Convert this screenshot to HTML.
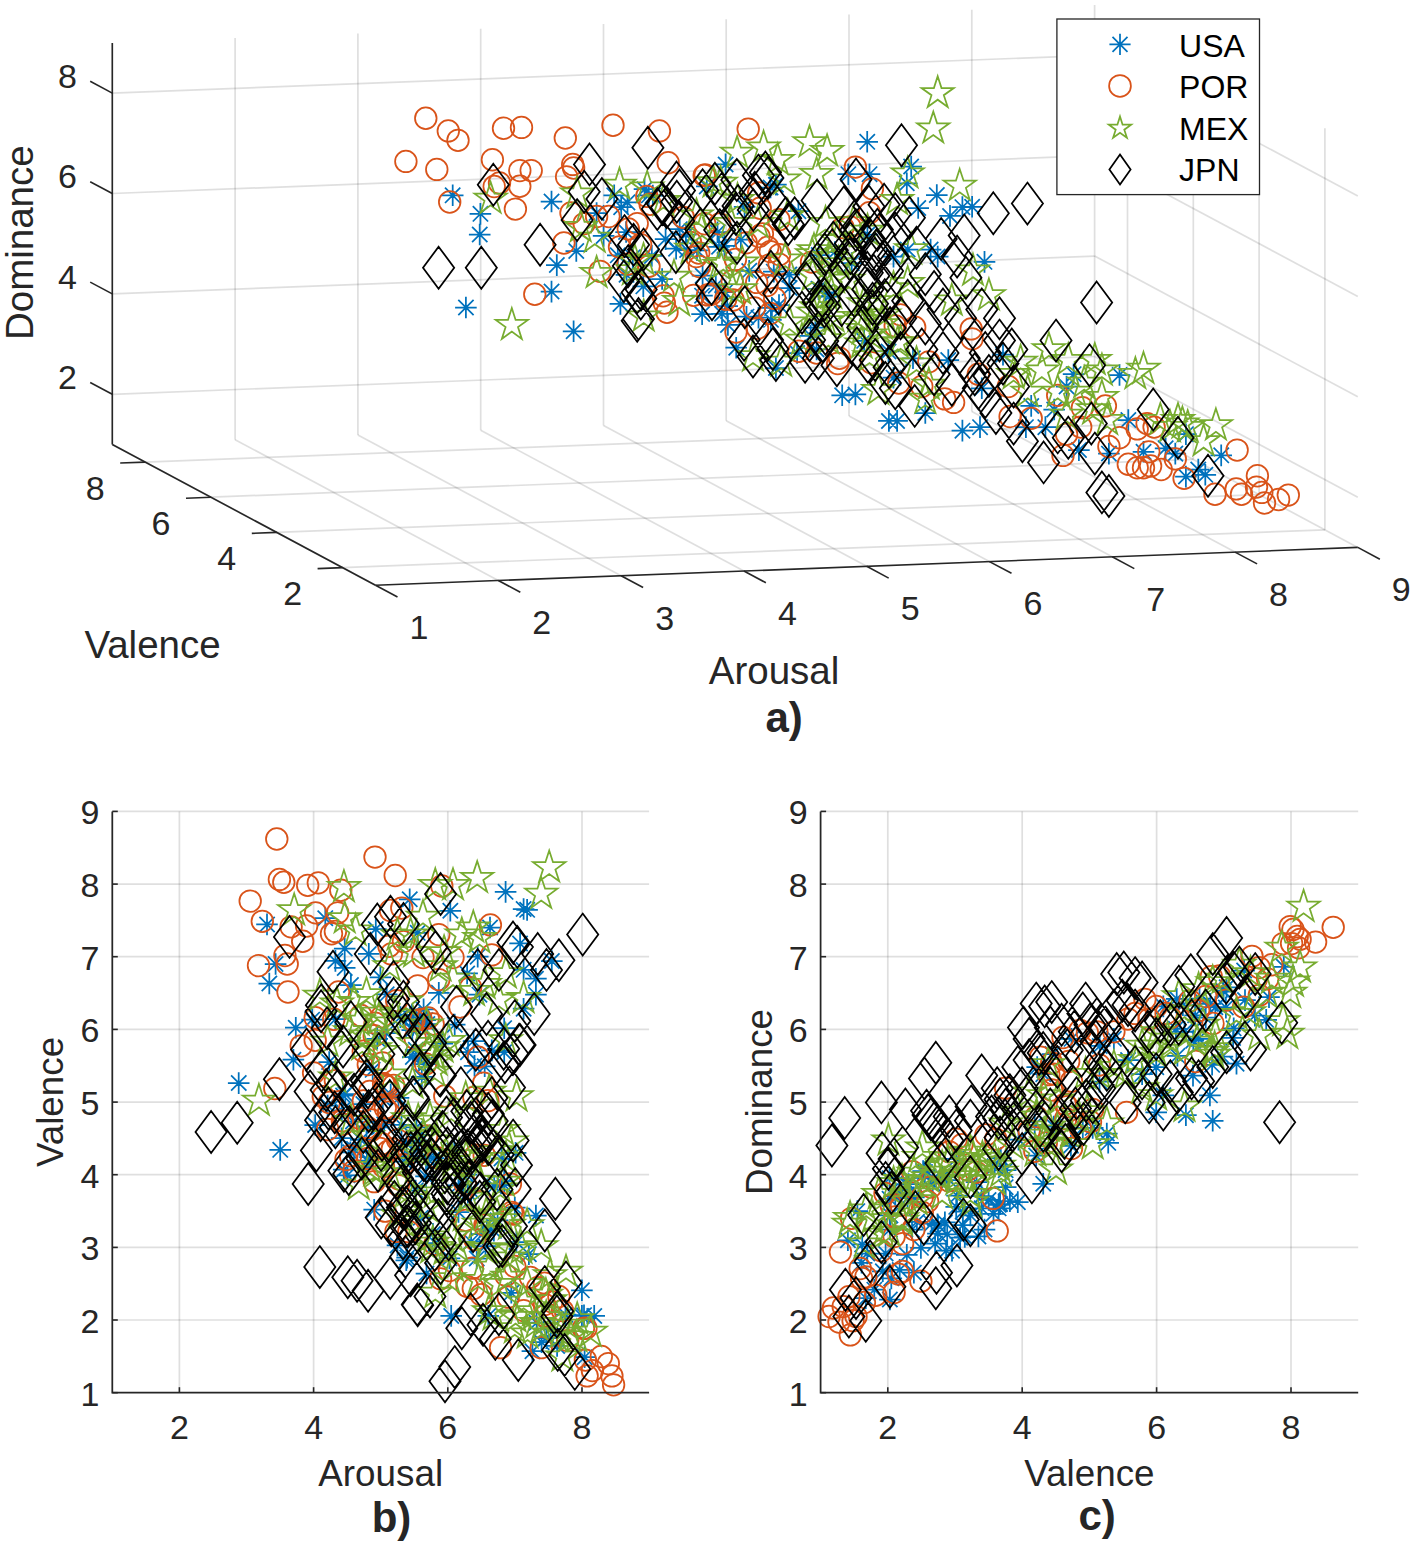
<!DOCTYPE html>
<html><head><meta charset="utf-8"><style>
html,body{margin:0;padding:0;background:#fff;}
svg{display:block;}
text{font-family:"Liberation Sans",sans-serif;fill:#262626;}
</style></head><body>
<svg width="1416" height="1547" viewBox="0 0 1416 1547">
<rect width="1416" height="1547" fill="#fff"/>
<g id="grid">
<line x1="112.3" y1="444.5" x2="112.3" y2="42.9" stroke="#262626" stroke-opacity="0.15" stroke-width="1.7"/>
<line x1="235.1" y1="439.7" x2="235.1" y2="38.1" stroke="#262626" stroke-opacity="0.15" stroke-width="1.7"/>
<line x1="357.9" y1="435.0" x2="357.9" y2="33.4" stroke="#262626" stroke-opacity="0.15" stroke-width="1.7"/>
<line x1="480.7" y1="430.3" x2="480.7" y2="28.7" stroke="#262626" stroke-opacity="0.15" stroke-width="1.7"/>
<line x1="603.5" y1="425.6" x2="603.5" y2="24.0" stroke="#262626" stroke-opacity="0.15" stroke-width="1.7"/>
<line x1="726.2" y1="420.8" x2="726.2" y2="19.2" stroke="#262626" stroke-opacity="0.15" stroke-width="1.7"/>
<line x1="849.0" y1="416.1" x2="849.0" y2="14.5" stroke="#262626" stroke-opacity="0.15" stroke-width="1.7"/>
<line x1="971.8" y1="411.4" x2="971.8" y2="9.8" stroke="#262626" stroke-opacity="0.15" stroke-width="1.7"/>
<line x1="1094.6" y1="406.7" x2="1094.6" y2="5.1" stroke="#262626" stroke-opacity="0.15" stroke-width="1.7"/>
<line x1="112.3" y1="394.3" x2="1094.6" y2="356.5" stroke="#262626" stroke-opacity="0.15" stroke-width="1.7"/>
<line x1="112.3" y1="293.9" x2="1094.6" y2="256.1" stroke="#262626" stroke-opacity="0.15" stroke-width="1.7"/>
<line x1="112.3" y1="193.5" x2="1094.6" y2="155.7" stroke="#262626" stroke-opacity="0.15" stroke-width="1.7"/>
<line x1="112.3" y1="93.1" x2="1094.6" y2="55.3" stroke="#262626" stroke-opacity="0.15" stroke-width="1.7"/>
<line x1="1324.9" y1="529.8" x2="1324.9" y2="128.2" stroke="#262626" stroke-opacity="0.15" stroke-width="1.7"/>
<line x1="1259.1" y1="494.6" x2="1259.1" y2="93.0" stroke="#262626" stroke-opacity="0.15" stroke-width="1.7"/>
<line x1="1193.3" y1="459.4" x2="1193.3" y2="57.8" stroke="#262626" stroke-opacity="0.15" stroke-width="1.7"/>
<line x1="1127.5" y1="424.3" x2="1127.5" y2="22.7" stroke="#262626" stroke-opacity="0.15" stroke-width="1.7"/>
<line x1="1357.8" y1="497.2" x2="1094.6" y2="356.5" stroke="#262626" stroke-opacity="0.15" stroke-width="1.7"/>
<line x1="1357.8" y1="396.8" x2="1094.6" y2="256.1" stroke="#262626" stroke-opacity="0.15" stroke-width="1.7"/>
<line x1="1357.8" y1="296.4" x2="1094.6" y2="155.7" stroke="#262626" stroke-opacity="0.15" stroke-width="1.7"/>
<line x1="1357.8" y1="196.0" x2="1094.6" y2="55.3" stroke="#262626" stroke-opacity="0.15" stroke-width="1.7"/>
<line x1="375.5" y1="585.2" x2="112.3" y2="444.5" stroke="#262626" stroke-opacity="0.15" stroke-width="1.7"/>
<line x1="498.3" y1="580.5" x2="235.1" y2="439.7" stroke="#262626" stroke-opacity="0.15" stroke-width="1.7"/>
<line x1="621.1" y1="575.7" x2="357.9" y2="435.0" stroke="#262626" stroke-opacity="0.15" stroke-width="1.7"/>
<line x1="743.9" y1="571.0" x2="480.7" y2="430.3" stroke="#262626" stroke-opacity="0.15" stroke-width="1.7"/>
<line x1="866.7" y1="566.3" x2="603.5" y2="425.6" stroke="#262626" stroke-opacity="0.15" stroke-width="1.7"/>
<line x1="989.4" y1="561.6" x2="726.2" y2="420.8" stroke="#262626" stroke-opacity="0.15" stroke-width="1.7"/>
<line x1="1112.2" y1="556.8" x2="849.0" y2="416.1" stroke="#262626" stroke-opacity="0.15" stroke-width="1.7"/>
<line x1="1235.0" y1="552.1" x2="971.8" y2="411.4" stroke="#262626" stroke-opacity="0.15" stroke-width="1.7"/>
<line x1="1357.8" y1="547.4" x2="1094.6" y2="406.7" stroke="#262626" stroke-opacity="0.15" stroke-width="1.7"/>
<line x1="342.6" y1="567.6" x2="1324.9" y2="529.8" stroke="#262626" stroke-opacity="0.15" stroke-width="1.7"/>
<line x1="276.8" y1="532.4" x2="1259.1" y2="494.6" stroke="#262626" stroke-opacity="0.15" stroke-width="1.7"/>
<line x1="211.0" y1="497.2" x2="1193.3" y2="459.4" stroke="#262626" stroke-opacity="0.15" stroke-width="1.7"/>
<line x1="145.2" y1="462.1" x2="1127.5" y2="424.3" stroke="#262626" stroke-opacity="0.15" stroke-width="1.7"/>
<line x1="179.4" y1="1392.7" x2="179.4" y2="811.4" stroke="#262626" stroke-opacity="0.15" stroke-width="1.7"/>
<line x1="313.6" y1="1392.7" x2="313.6" y2="811.4" stroke="#262626" stroke-opacity="0.15" stroke-width="1.7"/>
<line x1="447.8" y1="1392.7" x2="447.8" y2="811.4" stroke="#262626" stroke-opacity="0.15" stroke-width="1.7"/>
<line x1="582.0" y1="1392.7" x2="582.0" y2="811.4" stroke="#262626" stroke-opacity="0.15" stroke-width="1.7"/>
<line x1="112.3" y1="1320.0" x2="649.1" y2="1320.0" stroke="#262626" stroke-opacity="0.15" stroke-width="1.7"/>
<line x1="112.3" y1="1247.4" x2="649.1" y2="1247.4" stroke="#262626" stroke-opacity="0.15" stroke-width="1.7"/>
<line x1="112.3" y1="1174.7" x2="649.1" y2="1174.7" stroke="#262626" stroke-opacity="0.15" stroke-width="1.7"/>
<line x1="112.3" y1="1102.1" x2="649.1" y2="1102.1" stroke="#262626" stroke-opacity="0.15" stroke-width="1.7"/>
<line x1="112.3" y1="1029.4" x2="649.1" y2="1029.4" stroke="#262626" stroke-opacity="0.15" stroke-width="1.7"/>
<line x1="112.3" y1="956.7" x2="649.1" y2="956.7" stroke="#262626" stroke-opacity="0.15" stroke-width="1.7"/>
<line x1="112.3" y1="884.1" x2="649.1" y2="884.1" stroke="#262626" stroke-opacity="0.15" stroke-width="1.7"/>
<line x1="112.3" y1="811.4" x2="649.1" y2="811.4" stroke="#262626" stroke-opacity="0.15" stroke-width="1.7"/>
<line x1="887.8" y1="1392.7" x2="887.8" y2="811.4" stroke="#262626" stroke-opacity="0.15" stroke-width="1.7"/>
<line x1="1022.2" y1="1392.7" x2="1022.2" y2="811.4" stroke="#262626" stroke-opacity="0.15" stroke-width="1.7"/>
<line x1="1156.6" y1="1392.7" x2="1156.6" y2="811.4" stroke="#262626" stroke-opacity="0.15" stroke-width="1.7"/>
<line x1="1291.0" y1="1392.7" x2="1291.0" y2="811.4" stroke="#262626" stroke-opacity="0.15" stroke-width="1.7"/>
<line x1="820.6" y1="1320.0" x2="1358.2" y2="1320.0" stroke="#262626" stroke-opacity="0.15" stroke-width="1.7"/>
<line x1="820.6" y1="1247.4" x2="1358.2" y2="1247.4" stroke="#262626" stroke-opacity="0.15" stroke-width="1.7"/>
<line x1="820.6" y1="1174.7" x2="1358.2" y2="1174.7" stroke="#262626" stroke-opacity="0.15" stroke-width="1.7"/>
<line x1="820.6" y1="1102.1" x2="1358.2" y2="1102.1" stroke="#262626" stroke-opacity="0.15" stroke-width="1.7"/>
<line x1="820.6" y1="1029.4" x2="1358.2" y2="1029.4" stroke="#262626" stroke-opacity="0.15" stroke-width="1.7"/>
<line x1="820.6" y1="956.7" x2="1358.2" y2="956.7" stroke="#262626" stroke-opacity="0.15" stroke-width="1.7"/>
<line x1="820.6" y1="884.1" x2="1358.2" y2="884.1" stroke="#262626" stroke-opacity="0.15" stroke-width="1.7"/>
<line x1="820.6" y1="811.4" x2="1358.2" y2="811.4" stroke="#262626" stroke-opacity="0.15" stroke-width="1.7"/>
</g>
<g id="marks">
<path d="M441.9 195.3h21.6M452.7 184.5v21.6M445.0 187.7l15.3 15.3M445.0 203.0l15.3 -15.3M469.6 213.9h21.6M480.4 203.1v21.6M472.8 206.2l15.3 15.3M472.8 221.5l15.3 -15.3M468.9 234.5h21.6M479.7 223.7v21.6M472.1 226.9l15.3 15.3M472.1 242.2l15.3 -15.3M540.7 201.5h21.6M551.5 190.7v21.6M543.9 193.9l15.3 15.3M543.9 209.2l15.3 -15.3M565.5 251.0h21.6M576.3 240.2v21.6M568.6 243.3l15.3 15.3M568.6 258.6l15.3 -15.3M546.0 265.1h21.6M556.8 254.3v21.6M549.2 257.4l15.3 15.3M549.2 272.7l15.3 -15.3M540.7 291.6h21.6M551.5 280.8v21.6M543.9 283.9l15.3 15.3M543.9 299.2l15.3 -15.3M455.1 307.5h21.6M465.9 296.7v21.6M458.3 299.8l15.3 15.3M458.3 315.1l15.3 -15.3M562.8 331.3h21.6M573.6 320.5v21.6M566.0 323.6l15.3 15.3M566.0 338.9l15.3 -15.3M592.8 235.9h21.6M603.6 225.1v21.6M596.0 228.3l15.3 15.3M596.0 243.6l15.3 -15.3M603.4 195.3h21.6M614.2 184.5v21.6M606.6 187.7l15.3 15.3M606.6 203.0l15.3 -15.3M616.7 202.4h21.6M627.5 191.6v21.6M619.8 194.8l15.3 15.3M619.8 210.0l15.3 -15.3M607.0 255.4h21.6M617.8 244.6v21.6M610.1 247.7l15.3 15.3M610.1 263.0l15.3 -15.3M615.8 274.8h21.6M626.6 264.0v21.6M618.9 267.2l15.3 15.3M618.9 282.4l15.3 -15.3M609.6 303.9h21.6M620.4 293.1v21.6M612.8 296.3l15.3 15.3M612.8 311.6l15.3 -15.3M585.8 213.0h21.6M596.6 202.2v21.6M588.9 205.4l15.3 15.3M588.9 220.6l15.3 -15.3M856.4 141.8h21.6M867.2 131.0v21.6M859.6 134.2l15.3 15.3M859.6 149.5l15.3 -15.3M714.8 164.4h21.6M725.6 153.6v21.6M718.0 156.8l15.3 15.3M718.0 172.1l15.3 -15.3M858.7 174.2h21.6M869.5 163.4v21.6M861.9 166.5l15.3 15.3M861.9 181.8l15.3 -15.3M837.5 174.2h21.6M848.3 163.4v21.6M840.7 166.5l15.3 15.3M840.7 181.8l15.3 -15.3M638.0 195.3h21.6M648.8 184.5v21.6M641.2 187.7l15.3 15.3M641.2 203.0l15.3 -15.3M765.1 184.7h21.6M775.9 173.9v21.6M768.3 177.1l15.3 15.3M768.3 192.4l15.3 -15.3M641.0 255.9h21.6M651.8 245.1v21.6M644.2 248.3l15.3 15.3M644.2 263.6l15.3 -15.3M706.7 232.2h21.6M717.5 221.4v21.6M709.9 224.6l15.3 15.3M709.9 239.9l15.3 -15.3M696.0 186.4h21.6M706.8 175.6v21.6M699.1 178.8l15.3 15.3M699.1 194.1l15.3 -15.3M733.8 206.9h21.6M744.6 196.1v21.6M736.9 199.3l15.3 15.3M736.9 214.6l15.3 -15.3M716.4 306.1h21.6M727.2 295.3v21.6M719.6 298.4l15.3 15.3M719.6 313.7l15.3 -15.3M675.1 234.6h21.6M685.9 223.8v21.6M678.3 227.0l15.3 15.3M678.3 242.3l15.3 -15.3M686.2 250.3h21.6M697.0 239.5v21.6M689.4 242.6l15.3 15.3M689.4 257.9l15.3 -15.3M642.0 195.5h21.6M652.8 184.7v21.6M645.2 187.8l15.3 15.3M645.2 203.1l15.3 -15.3M714.3 292.2h21.6M725.1 281.4v21.6M717.5 284.6l15.3 15.3M717.5 299.8l15.3 -15.3M651.3 279.0h21.6M662.1 268.2v21.6M654.4 271.4l15.3 15.3M654.4 286.7l15.3 -15.3M654.8 239.1h21.6M665.6 228.3v21.6M658.0 231.4l15.3 15.3M658.0 246.7l15.3 -15.3M735.7 316.7h21.6M746.5 305.9v21.6M738.8 309.0l15.3 15.3M738.8 324.3l15.3 -15.3M633.7 189.2h21.6M644.5 178.4v21.6M636.9 181.6l15.3 15.3M636.9 196.9l15.3 -15.3M691.8 275.7h21.6M702.6 264.9v21.6M695.0 268.1l15.3 15.3M695.0 283.4l15.3 -15.3M717.1 324.9h21.6M727.9 314.1v21.6M720.3 317.3l15.3 15.3M720.3 332.6l15.3 -15.3M713.6 245.9h21.6M724.4 235.1v21.6M716.8 238.3l15.3 15.3M716.8 253.5l15.3 -15.3M665.3 248.7h21.6M676.1 237.9v21.6M668.4 241.1l15.3 15.3M668.4 256.3l15.3 -15.3M676.4 250.0h21.6M687.2 239.2v21.6M679.5 242.3l15.3 15.3M679.5 257.6l15.3 -15.3M804.6 327.5h21.6M815.4 316.7v21.6M807.7 319.9l15.3 15.3M807.7 335.1l15.3 -15.3M761.1 307.9h21.6M771.9 297.1v21.6M764.3 300.3l15.3 15.3M764.3 315.6l15.3 -15.3M818.5 296.5h21.6M829.3 285.7v21.6M821.6 288.9l15.3 15.3M821.6 304.1l15.3 -15.3M840.9 263.1h21.6M851.7 252.3v21.6M844.1 255.5l15.3 15.3M844.1 270.8l15.3 -15.3M760.1 319.8h21.6M770.9 309.0v21.6M763.3 312.2l15.3 15.3M763.3 327.5l15.3 -15.3M778.4 274.5h21.6M789.2 263.7v21.6M781.6 266.9l15.3 15.3M781.6 282.1l15.3 -15.3M759.7 187.5h21.6M770.5 176.7v21.6M762.9 179.9l15.3 15.3M762.9 195.1l15.3 -15.3M763.0 271.7h21.6M773.8 260.9v21.6M766.1 264.0l15.3 15.3M766.1 279.3l15.3 -15.3M778.8 288.1h21.6M789.6 277.3v21.6M782.0 280.4l15.3 15.3M782.0 295.7l15.3 -15.3M808.0 255.0h21.6M818.8 244.2v21.6M811.1 247.4l15.3 15.3M811.1 262.6l15.3 -15.3M807.7 288.8h21.6M818.5 278.0v21.6M810.8 281.2l15.3 15.3M810.8 296.4l15.3 -15.3M799.8 335.9h21.6M810.6 325.1v21.6M803.0 328.2l15.3 15.3M803.0 343.5l15.3 -15.3M853.3 340.9h21.6M864.1 330.1v21.6M856.5 333.2l15.3 15.3M856.5 348.5l15.3 -15.3M787.6 211.1h21.6M798.4 200.3v21.6M790.8 203.5l15.3 15.3M790.8 218.8l15.3 -15.3M824.1 252.0h21.6M834.9 241.2v21.6M827.2 244.3l15.3 15.3M827.2 259.6l15.3 -15.3M900.4 166.5h21.6M911.2 155.7v21.6M903.5 158.9l15.3 15.3M903.5 174.1l15.3 -15.3M896.0 183.3h21.6M906.8 172.5v21.6M899.1 175.6l15.3 15.3M899.1 190.9l15.3 -15.3M926.0 195.1h21.6M936.8 184.3v21.6M929.2 187.5l15.3 15.3M929.2 202.7l15.3 -15.3M907.4 208.0h21.6M918.2 197.2v21.6M910.6 200.4l15.3 15.3M910.6 215.6l15.3 -15.3M939.2 215.9h21.6M950.0 205.1v21.6M942.4 208.3l15.3 15.3M942.4 223.6l15.3 -15.3M951.6 207.1h21.6M962.4 196.3v21.6M954.8 199.5l15.3 15.3M954.8 214.8l15.3 -15.3M961.3 206.8h21.6M972.1 196.0v21.6M964.5 199.1l15.3 15.3M964.5 214.4l15.3 -15.3M973.7 261.9h21.6M984.5 251.1v21.6M976.8 254.2l15.3 15.3M976.8 269.5l15.3 -15.3M896.9 249.5h21.6M907.7 238.7v21.6M900.0 241.9l15.3 15.3M900.0 257.1l15.3 -15.3M919.8 249.5h21.6M930.6 238.7v21.6M923.0 241.9l15.3 15.3M923.0 257.1l15.3 -15.3M926.9 256.6h21.6M937.7 245.8v21.6M930.0 248.9l15.3 15.3M930.0 264.2l15.3 -15.3M882.7 256.6h21.6M893.5 245.8v21.6M885.9 248.9l15.3 15.3M885.9 264.2l15.3 -15.3M725.4 347.7h21.6M736.2 336.9v21.6M728.6 340.0l15.3 15.3M728.6 355.3l15.3 -15.3M765.1 368.0h21.6M775.9 357.2v21.6M768.3 360.3l15.3 15.3M768.3 375.6l15.3 -15.3M831.4 395.3h21.6M842.2 384.5v21.6M834.5 387.7l15.3 15.3M834.5 403.0l15.3 -15.3M844.6 394.4h21.6M855.4 383.6v21.6M847.8 386.8l15.3 15.3M847.8 402.1l15.3 -15.3M878.1 420.9h21.6M888.9 410.1v21.6M881.3 413.3l15.3 15.3M881.3 428.6l15.3 -15.3M786.3 353.0h21.6M797.1 342.2v21.6M789.5 345.3l15.3 15.3M789.5 360.6l15.3 -15.3M805.8 349.4h21.6M816.6 338.6v21.6M808.9 341.8l15.3 15.3M808.9 357.1l15.3 -15.3M1108.7 375.0h21.6M1119.5 364.2v21.6M1111.9 367.4l15.3 15.3M1111.9 382.7l15.3 -15.3M1062.8 374.2h21.6M1073.6 363.4v21.6M1066.0 366.5l15.3 15.3M1066.0 381.8l15.3 -15.3M886.3 420.9h21.6M897.1 410.1v21.6M889.4 413.3l15.3 15.3M889.4 428.6l15.3 -15.3M951.6 430.6h21.6M962.4 419.8v21.6M954.8 423.0l15.3 15.3M954.8 438.3l15.3 -15.3M969.2 427.1h21.6M980.0 416.3v21.6M972.4 419.5l15.3 15.3M972.4 434.8l15.3 -15.3M1015.1 427.1h21.6M1025.9 416.3v21.6M1018.3 419.5l15.3 15.3M1018.3 434.8l15.3 -15.3M914.5 413.0h21.6M925.3 402.2v21.6M917.7 405.4l15.3 15.3M917.7 420.6l15.3 -15.3M1117.5 420.1h21.6M1128.3 409.3v21.6M1120.7 412.4l15.3 15.3M1120.7 427.7l15.3 -15.3M1068.1 450.1h21.6M1078.9 439.3v21.6M1071.3 442.4l15.3 15.3M1071.3 457.7l15.3 -15.3M1098.1 453.6h21.6M1108.9 442.8v21.6M1101.3 446.0l15.3 15.3M1101.3 461.2l15.3 -15.3M1034.6 427.1h21.6M1045.4 416.3v21.6M1037.7 419.5l15.3 15.3M1037.7 434.8l15.3 -15.3M1043.4 409.5h21.6M1054.2 398.7v21.6M1046.6 401.8l15.3 15.3M1046.6 417.1l15.3 -15.3M1020.4 405.9h21.6M1031.2 395.1v21.6M1023.6 398.3l15.3 15.3M1023.6 413.6l15.3 -15.3M1055.8 386.5h21.6M1066.6 375.7v21.6M1058.9 378.9l15.3 15.3M1058.9 394.1l15.3 -15.3M937.5 360.0h21.6M948.3 349.2v21.6M940.6 352.4l15.3 15.3M940.6 367.7l15.3 -15.3M902.2 358.3h21.6M913.0 347.5v21.6M905.3 350.6l15.3 15.3M905.3 365.9l15.3 -15.3M882.7 377.7h21.6M893.5 366.9v21.6M885.9 370.0l15.3 15.3M885.9 385.3l15.3 -15.3M971.0 388.3h21.6M981.8 377.5v21.6M974.2 380.6l15.3 15.3M974.2 395.9l15.3 -15.3M992.2 354.7h21.6M1003.0 343.9v21.6M995.4 347.1l15.3 15.3M995.4 362.4l15.3 -15.3M1154.8 448.3h21.6M1165.6 437.5v21.6M1158.0 440.7l15.3 15.3M1158.0 455.9l15.3 -15.3M1164.5 453.6h21.6M1175.3 442.8v21.6M1167.7 446.0l15.3 15.3M1167.7 461.2l15.3 -15.3M1175.1 434.2h21.6M1185.9 423.4v21.6M1178.3 426.5l15.3 15.3M1178.3 441.8l15.3 -15.3M1210.4 455.4h21.6M1221.2 444.6v21.6M1213.6 447.7l15.3 15.3M1213.6 463.0l15.3 -15.3M1175.1 476.6h21.6M1185.9 465.8v21.6M1178.3 468.9l15.3 15.3M1178.3 484.2l15.3 -15.3M1187.5 469.5h21.6M1198.3 458.7v21.6M1190.6 461.9l15.3 15.3M1190.6 477.1l15.3 -15.3M1194.5 474.8h21.6M1205.3 464.0v21.6M1197.7 467.2l15.3 15.3M1197.7 482.4l15.3 -15.3M1132.7 451.8h21.6M1143.5 441.0v21.6M1135.9 444.2l15.3 15.3M1135.9 459.5l15.3 -15.3M668.9 229.1h21.6M679.7 218.3v21.6M672.1 221.5l15.3 15.3M672.1 236.8l15.3 -15.3M747.7 317.7h21.6M758.5 306.9v21.6M750.9 310.0l15.3 15.3M750.9 325.3l15.3 -15.3M691.2 295.7h21.6M702.0 284.9v21.6M694.4 288.0l15.3 15.3M694.4 303.3l15.3 -15.3M738.4 270.9h21.6M749.2 260.1v21.6M741.6 263.3l15.3 15.3M741.6 278.5l15.3 -15.3M711.2 313.8h21.6M722.0 303.0v21.6M714.4 306.2l15.3 15.3M714.4 321.4l15.3 -15.3M705.0 285.7h21.6M715.8 274.9v21.6M708.2 278.1l15.3 15.3M708.2 293.4l15.3 -15.3M730.1 239.5h21.6M740.9 228.7v21.6M733.2 231.9l15.3 15.3M733.2 247.1l15.3 -15.3M691.3 314.1h21.6M702.1 303.3v21.6M694.5 306.4l15.3 15.3M694.5 321.7l15.3 -15.3M768.2 305.0h21.6M779.0 294.2v21.6M771.4 297.4l15.3 15.3M771.4 312.6l15.3 -15.3M708.2 246.8h21.6M719.0 236.0v21.6M711.4 239.2l15.3 15.3M711.4 254.4l15.3 -15.3M856.6 234.5h21.6M867.4 223.7v21.6M859.7 226.9l15.3 15.3M859.7 242.1l15.3 -15.3M877.7 351.4h21.6M888.5 340.6v21.6M880.9 343.8l15.3 15.3M880.9 359.1l15.3 -15.3M814.8 292.3h21.6M825.6 281.5v21.6M818.0 284.6l15.3 15.3M818.0 299.9l15.3 -15.3M632.5 286.3h21.6M643.3 275.5v21.6M635.7 278.7l15.3 15.3M635.7 294.0l15.3 -15.3M622.0 257.1h21.6M632.8 246.3v21.6M625.2 249.5l15.3 15.3M625.2 264.8l15.3 -15.3M615.3 232.0h21.6M626.1 221.2v21.6M618.4 224.4l15.3 15.3M618.4 239.7l15.3 -15.3M610.4 207.2h21.6M621.2 196.4v21.6M613.5 199.5l15.3 15.3M613.5 214.8l15.3 -15.3" stroke="#0072BD" stroke-width="1.75" fill="none"/>
<g stroke="#D95319" stroke-width="1.75" fill="none"><circle cx="425.8" cy="118.2" r="10.8"/><circle cx="448.3" cy="130.9" r="10.8"/><circle cx="458.0" cy="140.3" r="10.8"/><circle cx="405.9" cy="161.4" r="10.8"/><circle cx="436.8" cy="169.4" r="10.8"/><circle cx="503.5" cy="128.2" r="10.8"/><circle cx="521.5" cy="127.4" r="10.8"/><circle cx="565.3" cy="138.0" r="10.8"/><circle cx="613.0" cy="125.2" r="10.8"/><circle cx="492.4" cy="159.7" r="10.8"/><circle cx="519.8" cy="170.6" r="10.8"/><circle cx="531.2" cy="170.6" r="10.8"/><circle cx="572.7" cy="164.4" r="10.8"/><circle cx="573.6" cy="168.0" r="10.8"/><circle cx="566.6" cy="176.8" r="10.8"/><circle cx="494.2" cy="186.5" r="10.8"/><circle cx="499.5" cy="183.0" r="10.8"/><circle cx="519.8" cy="186.2" r="10.8"/><circle cx="515.4" cy="209.1" r="10.8"/><circle cx="449.7" cy="202.0" r="10.8"/><circle cx="571.0" cy="213.0" r="10.8"/><circle cx="584.2" cy="223.6" r="10.8"/><circle cx="596.6" cy="216.5" r="10.8"/><circle cx="608.9" cy="216.5" r="10.8"/><circle cx="628.3" cy="228.9" r="10.8"/><circle cx="563.9" cy="243.0" r="10.8"/><circle cx="600.1" cy="271.3" r="10.8"/><circle cx="534.8" cy="294.2" r="10.8"/><circle cx="637.2" cy="223.6" r="10.8"/><circle cx="659.4" cy="130.9" r="10.8"/><circle cx="748.2" cy="129.1" r="10.8"/><circle cx="668.2" cy="162.7" r="10.8"/><circle cx="855.4" cy="167.1" r="10.8"/><circle cx="735.4" cy="259.4" r="10.8"/><circle cx="736.0" cy="332.1" r="10.8"/><circle cx="705.2" cy="174.9" r="10.8"/><circle cx="649.0" cy="266.2" r="10.8"/><circle cx="733.1" cy="300.0" r="10.8"/><circle cx="646.8" cy="196.3" r="10.8"/><circle cx="757.5" cy="328.2" r="10.8"/><circle cx="756.7" cy="282.4" r="10.8"/><circle cx="650.2" cy="204.2" r="10.8"/><circle cx="758.7" cy="192.9" r="10.8"/><circle cx="663.1" cy="295.8" r="10.8"/><circle cx="704.2" cy="175.4" r="10.8"/><circle cx="719.7" cy="223.9" r="10.8"/><circle cx="683.3" cy="217.3" r="10.8"/><circle cx="779.1" cy="264.1" r="10.8"/><circle cx="869.4" cy="212.7" r="10.8"/><circle cx="872.4" cy="188.8" r="10.8"/><circle cx="850.1" cy="227.0" r="10.8"/><circle cx="843.0" cy="227.5" r="10.8"/><circle cx="900.6" cy="314.8" r="10.8"/><circle cx="914.7" cy="327.2" r="10.8"/><circle cx="971.2" cy="328.9" r="10.8"/><circle cx="798.9" cy="351.2" r="10.8"/><circle cx="816.6" cy="353.0" r="10.8"/><circle cx="839.5" cy="358.2" r="10.8"/><circle cx="837.7" cy="363.5" r="10.8"/><circle cx="871.3" cy="362.7" r="10.8"/><circle cx="972.1" cy="338.8" r="10.8"/><circle cx="1063.0" cy="455.4" r="10.8"/><circle cx="1137.2" cy="467.7" r="10.8"/><circle cx="1128.3" cy="464.2" r="10.8"/><circle cx="1108.9" cy="446.5" r="10.8"/><circle cx="1119.5" cy="437.7" r="10.8"/><circle cx="1137.2" cy="428.9" r="10.8"/><circle cx="1105.4" cy="405.9" r="10.8"/><circle cx="1082.4" cy="407.7" r="10.8"/><circle cx="1057.7" cy="395.3" r="10.8"/><circle cx="1031.2" cy="418.3" r="10.8"/><circle cx="1010.1" cy="416.5" r="10.8"/><circle cx="1008.3" cy="386.5" r="10.8"/><circle cx="978.3" cy="374.2" r="10.8"/><circle cx="953.6" cy="402.4" r="10.8"/><circle cx="944.7" cy="398.9" r="10.8"/><circle cx="921.8" cy="386.5" r="10.8"/><circle cx="928.8" cy="361.8" r="10.8"/><circle cx="898.8" cy="383.0" r="10.8"/><circle cx="1066.6" cy="434.2" r="10.8"/><circle cx="1080.7" cy="427.1" r="10.8"/><circle cx="1147.1" cy="423.6" r="10.8"/><circle cx="1154.1" cy="427.1" r="10.8"/><circle cx="1148.8" cy="451.8" r="10.8"/><circle cx="1161.2" cy="469.5" r="10.8"/><circle cx="1143.5" cy="467.7" r="10.8"/><circle cx="1150.6" cy="466.0" r="10.8"/><circle cx="1184.1" cy="478.3" r="10.8"/><circle cx="1175.3" cy="458.9" r="10.8"/><circle cx="1215.0" cy="494.2" r="10.8"/><circle cx="1237.1" cy="450.1" r="10.8"/><circle cx="1257.4" cy="475.7" r="10.8"/><circle cx="1236.2" cy="488.9" r="10.8"/><circle cx="1241.5" cy="494.2" r="10.8"/><circle cx="1256.5" cy="487.1" r="10.8"/><circle cx="1261.8" cy="492.4" r="10.8"/><circle cx="1264.5" cy="503.0" r="10.8"/><circle cx="1278.6" cy="499.5" r="10.8"/><circle cx="1288.3" cy="495.1" r="10.8"/><circle cx="711.2" cy="294.2" r="10.8"/><circle cx="754.4" cy="307.9" r="10.8"/><circle cx="767.1" cy="285.5" r="10.8"/><circle cx="760.2" cy="208.2" r="10.8"/><circle cx="774.7" cy="298.4" r="10.8"/><circle cx="746.2" cy="242.8" r="10.8"/><circle cx="667.0" cy="312.2" r="10.8"/><circle cx="778.9" cy="219.7" r="10.8"/><circle cx="693.6" cy="295.3" r="10.8"/><circle cx="725.6" cy="299.3" r="10.8"/><circle cx="698.7" cy="253.0" r="10.8"/><circle cx="762.4" cy="233.8" r="10.8"/><circle cx="664.3" cy="303.1" r="10.8"/><circle cx="699.4" cy="266.5" r="10.8"/><circle cx="770.0" cy="313.4" r="10.8"/><circle cx="770.3" cy="251.6" r="10.8"/><circle cx="704.7" cy="223.7" r="10.8"/><circle cx="769.4" cy="264.9" r="10.8"/><circle cx="779.5" cy="254.6" r="10.8"/><circle cx="732.2" cy="281.0" r="10.8"/><circle cx="696.3" cy="256.6" r="10.8"/><circle cx="767.8" cy="247.2" r="10.8"/><circle cx="759.0" cy="236.5" r="10.8"/><circle cx="690.5" cy="242.3" r="10.8"/><circle cx="707.6" cy="294.9" r="10.8"/><circle cx="895.2" cy="326.0" r="10.8"/><circle cx="811.5" cy="262.1" r="10.8"/><circle cx="640.6" cy="244.6" r="10.8"/><circle cx="627.9" cy="264.1" r="10.8"/><circle cx="619.5" cy="247.0" r="10.8"/></g>
<path d="M490.6 181.9L494.5 193.6L506.8 193.6L496.8 200.9L500.6 212.6L490.6 205.4L480.6 212.6L484.5 200.9L474.5 193.6L486.8 193.6ZM619.5 167.7L623.3 179.5L635.7 179.5L625.7 186.8L629.5 198.5L619.5 191.2L609.5 198.5L613.3 186.8L603.4 179.5L615.7 179.5ZM577.1 176.6L581.0 188.3L593.3 188.3L583.3 195.6L587.1 207.3L577.1 200.1L567.2 207.3L571.0 195.6L561.0 188.3L573.3 188.3ZM594.8 220.7L598.6 232.5L611.0 232.5L601.0 239.7L604.8 251.5L594.8 244.2L584.8 251.5L588.6 239.7L578.6 232.5L591.0 232.5ZM511.8 308.1L515.6 319.9L528.0 319.9L518.0 327.1L521.8 338.9L511.8 331.6L501.8 338.9L505.6 327.1L495.7 319.9L508.0 319.9ZM596.6 256.0L600.4 267.8L612.7 267.8L602.7 275.0L606.6 286.8L596.6 279.5L586.6 286.8L590.4 275.0L580.4 267.8L592.8 267.8ZM580.7 210.1L584.5 221.9L596.8 221.9L586.9 229.1L590.7 240.9L580.7 233.6L570.7 240.9L574.5 229.1L564.5 221.9L576.9 221.9ZM809.5 125.4L813.3 137.1L825.7 137.1L815.7 144.4L819.5 156.1L809.5 148.9L799.5 156.1L803.3 144.4L793.3 137.1L805.7 137.1ZM827.1 134.2L831.0 145.9L843.3 145.9L833.3 153.2L837.1 165.0L827.1 157.7L817.2 165.0L821.0 153.2L811.0 145.9L823.3 145.9ZM763.6 130.7L767.4 142.4L779.8 142.4L769.8 149.7L773.6 161.4L763.6 154.2L753.6 161.4L757.4 149.7L747.4 142.4L759.8 142.4ZM737.1 136.0L740.9 147.7L753.3 147.7L743.3 155.0L747.1 166.7L737.1 159.5L727.1 166.7L730.9 155.0L720.9 147.7L733.3 147.7ZM777.7 143.0L781.5 154.8L793.9 154.8L783.9 162.0L787.7 173.8L777.7 166.5L767.7 173.8L771.5 162.0L761.5 154.8L773.9 154.8ZM816.6 157.2L820.4 168.9L832.7 168.9L822.7 176.2L826.5 187.9L816.6 180.6L806.6 187.9L810.4 176.2L800.4 168.9L812.7 168.9ZM719.9 248.1L723.7 259.9L736.1 259.9L726.1 267.1L729.9 278.9L719.9 271.6L709.9 278.9L713.8 267.1L703.8 259.9L716.1 259.9ZM647.2 170.7L651.0 182.4L663.3 182.4L653.3 189.7L657.2 201.4L647.2 194.2L637.2 201.4L641.0 189.7L631.0 182.4L643.3 182.4ZM713.4 165.5L717.2 177.2L729.5 177.2L719.5 184.5L723.4 196.2L713.4 189.0L703.4 196.2L707.2 184.5L697.2 177.2L709.5 177.2ZM696.5 198.5L700.3 210.3L712.7 210.3L702.7 217.5L706.5 229.3L696.5 222.0L686.5 229.3L690.3 217.5L680.3 210.3L692.7 210.3ZM737.5 183.1L741.3 194.9L753.7 194.9L743.7 202.1L747.5 213.9L737.5 206.6L727.5 213.9L731.3 202.1L721.3 194.9L733.7 194.9ZM720.6 166.0L724.5 177.7L736.8 177.7L726.8 185.0L730.6 196.7L720.6 189.5L710.6 196.7L714.5 185.0L704.5 177.7L716.8 177.7ZM742.1 245.7L745.9 257.4L758.2 257.4L748.2 264.7L752.1 276.4L742.1 269.2L732.1 276.4L735.9 264.7L725.9 257.4L738.2 257.4ZM723.3 246.2L727.1 257.9L739.5 257.9L729.5 265.2L733.3 276.9L723.3 269.7L713.3 276.9L717.2 265.2L707.2 257.9L719.5 257.9ZM674.0 259.7L677.8 271.5L690.1 271.5L680.1 278.8L684.0 290.5L674.0 283.2L664.0 290.5L667.8 278.8L657.8 271.5L670.2 271.5ZM702.0 212.2L705.8 224.0L718.1 224.0L708.1 231.2L712.0 243.0L702.0 235.7L692.0 243.0L695.8 231.2L685.8 224.0L698.1 224.0ZM663.5 184.0L667.3 195.8L679.7 195.8L669.7 203.0L673.5 214.8L663.5 207.5L653.5 214.8L657.3 203.0L647.3 195.8L659.7 195.8ZM757.7 206.2L761.5 217.9L773.9 217.9L763.9 225.2L767.7 236.9L757.7 229.7L747.7 236.9L751.5 225.2L741.5 217.9L753.9 217.9ZM691.4 231.9L695.3 243.7L707.6 243.7L697.6 250.9L701.4 262.7L691.4 255.4L681.5 262.7L685.3 250.9L675.3 243.7L687.6 243.7ZM643.5 243.1L647.3 254.9L659.7 254.9L649.7 262.1L653.5 273.9L643.5 266.6L633.5 273.9L637.3 262.1L627.3 254.9L639.7 254.9ZM730.9 206.1L734.7 217.8L747.1 217.8L737.1 225.1L740.9 236.8L730.9 229.6L720.9 236.8L724.7 225.1L714.7 217.8L727.1 217.8ZM740.2 272.5L744.0 284.2L756.4 284.2L746.4 291.5L750.2 303.2L740.2 296.0L730.2 303.2L734.0 291.5L724.0 284.2L736.4 284.2ZM732.4 272.5L736.2 284.3L748.6 284.3L738.6 291.5L742.4 303.3L732.4 296.0L722.4 303.3L726.2 291.5L716.3 284.3L728.6 284.3ZM679.2 284.2L683.1 295.9L695.4 295.9L685.4 303.2L689.2 314.9L679.2 307.7L669.3 314.9L673.1 303.2L663.1 295.9L675.4 295.9ZM833.7 300.2L837.5 311.9L849.8 311.9L839.8 319.2L843.6 330.9L833.7 323.7L823.7 330.9L827.5 319.2L817.5 311.9L829.8 311.9ZM838.7 246.2L842.5 258.0L854.9 258.0L844.9 265.3L848.7 277.0L838.7 269.7L828.7 277.0L832.5 265.3L822.5 258.0L834.9 258.0ZM812.6 258.7L816.5 270.4L828.8 270.4L818.8 277.7L822.6 289.5L812.6 282.2L802.6 289.5L806.5 277.7L796.5 270.4L808.8 270.4ZM875.7 284.3L879.5 296.1L891.9 296.1L881.9 303.3L885.7 315.1L875.7 307.8L865.7 315.1L869.5 303.3L859.5 296.1L871.9 296.1ZM829.2 240.2L833.0 251.9L845.3 251.9L835.3 259.2L839.2 270.9L829.2 263.7L819.2 270.9L823.0 259.2L813.0 251.9L825.4 251.9ZM870.5 317.7L874.3 329.4L886.6 329.4L876.6 336.7L880.4 348.4L870.5 341.2L860.5 348.4L864.3 336.7L854.3 329.4L866.6 329.4ZM825.7 304.4L829.5 316.1L841.8 316.1L831.8 323.4L835.6 335.1L825.7 327.9L815.7 335.1L819.5 323.4L809.5 316.1L821.8 316.1ZM812.1 237.5L815.9 249.2L828.3 249.2L818.3 256.5L822.1 268.2L812.1 261.0L802.1 268.2L805.9 256.5L796.0 249.2L808.3 249.2ZM867.5 213.8L871.3 225.5L883.7 225.5L873.7 232.8L877.5 244.5L867.5 237.3L857.5 244.5L861.3 232.8L851.3 225.5L863.7 225.5ZM836.9 223.5L840.7 235.2L853.1 235.2L843.1 242.5L846.9 254.2L836.9 247.0L826.9 254.2L830.7 242.5L820.7 235.2L833.1 235.2ZM785.2 242.7L789.0 254.4L801.4 254.4L791.4 261.7L795.2 273.4L785.2 266.1L775.2 273.4L779.0 261.7L769.0 254.4L781.4 254.4ZM787.8 199.2L791.6 211.0L804.0 211.0L794.0 218.2L797.8 230.0L787.8 222.7L777.8 230.0L781.6 218.2L771.6 211.0L784.0 211.0ZM884.0 297.7L887.8 309.4L900.2 309.4L890.2 316.7L894.0 328.5L884.0 321.2L874.0 328.5L877.8 316.7L867.8 309.4L880.2 309.4ZM825.5 206.1L829.3 217.8L841.7 217.8L831.7 225.1L835.5 236.8L825.5 229.6L815.5 236.8L819.3 225.1L809.3 217.8L821.7 217.8ZM848.0 263.0L851.8 274.7L864.2 274.7L854.2 282.0L858.0 293.7L848.0 286.5L838.0 293.7L841.8 282.0L831.8 274.7L844.2 274.7ZM784.1 162.7L788.0 174.4L800.3 174.4L790.3 181.7L794.1 193.4L784.1 186.2L774.1 193.4L778.0 181.7L768.0 174.4L780.3 174.4ZM881.7 307.3L885.5 319.1L897.9 319.1L887.9 326.3L891.7 338.1L881.7 330.8L871.7 338.1L875.5 326.3L865.5 319.1L877.9 319.1ZM862.5 303.2L866.3 315.0L878.6 315.0L868.6 322.3L872.5 334.0L862.5 326.7L852.5 334.0L856.3 322.3L846.3 315.0L858.6 315.0ZM789.4 305.6L793.2 317.4L805.5 317.4L795.5 324.6L799.3 336.4L789.4 329.1L779.4 336.4L783.2 324.6L773.2 317.4L785.5 317.4ZM834.1 261.1L837.9 272.9L850.3 272.9L840.3 280.2L844.1 291.9L834.1 284.6L824.1 291.9L827.9 280.2L817.9 272.9L830.3 272.9ZM816.3 290.3L820.1 302.0L832.4 302.0L822.4 309.3L826.3 321.0L816.3 313.8L806.3 321.0L810.1 309.3L800.1 302.0L812.4 302.0ZM861.7 326.6L865.6 338.3L877.9 338.3L867.9 345.6L871.7 357.3L861.7 350.1L851.8 357.3L855.6 345.6L845.6 338.3L857.9 338.3ZM828.4 322.2L832.3 334.0L844.6 334.0L834.6 341.2L838.4 353.0L828.4 345.7L818.5 353.0L822.3 341.2L812.3 334.0L824.6 334.0ZM831.3 276.7L835.1 288.4L847.4 288.4L837.5 295.7L841.3 307.4L831.3 300.2L821.3 307.4L825.1 295.7L815.1 288.4L827.5 288.4ZM937.7 76.2L941.5 88.0L953.8 88.0L943.8 95.2L947.7 107.0L937.7 99.7L927.7 107.0L931.5 95.2L921.5 88.0L933.9 88.0ZM933.3 111.6L937.1 123.3L949.4 123.3L939.4 130.6L943.2 142.3L933.3 135.0L923.3 142.3L927.1 130.6L917.1 123.3L929.4 123.3ZM959.7 168.9L963.6 180.7L975.9 180.7L965.9 187.9L969.7 199.7L959.7 192.4L949.7 199.7L953.6 187.9L943.6 180.7L955.9 180.7ZM907.7 156.6L911.5 168.3L923.8 168.3L913.8 175.6L917.6 187.3L907.7 180.1L897.7 187.3L901.5 175.6L891.5 168.3L903.8 168.3ZM897.1 183.1L900.9 194.8L913.2 194.8L903.2 202.1L907.1 213.8L897.1 206.6L887.1 213.8L890.9 202.1L880.9 194.8L893.2 194.8ZM988.9 278.4L992.7 290.1L1005.0 290.1L995.0 297.4L998.9 309.1L988.9 301.9L978.9 309.1L982.7 297.4L972.7 290.1L985.1 290.1ZM973.0 253.7L976.8 265.4L989.1 265.4L979.2 272.7L983.0 284.4L973.0 277.2L963.0 284.4L966.8 272.7L956.8 265.4L969.2 265.4ZM911.2 232.5L915.0 244.2L927.4 244.2L917.4 251.5L921.2 263.2L911.2 256.0L901.2 263.2L905.0 251.5L895.0 244.2L907.4 244.2ZM893.5 271.3L897.3 283.1L909.7 283.1L899.7 290.3L903.5 302.1L893.5 294.8L883.5 302.1L887.4 290.3L877.4 283.1L889.7 283.1ZM951.8 283.7L955.6 295.4L968.0 295.4L958.0 302.7L961.8 314.4L951.8 307.2L941.8 314.4L945.6 302.7L935.6 295.4L948.0 295.4ZM907.7 266.0L911.5 277.8L923.8 277.8L913.8 285.0L917.6 296.8L907.7 289.5L897.7 296.8L901.5 285.0L891.5 277.8L903.8 277.8ZM753.0 339.5L756.8 351.2L769.2 351.2L759.2 358.5L763.0 370.2L753.0 363.0L743.0 370.2L746.8 358.5L736.8 351.2L749.2 351.2ZM781.2 344.8L785.1 356.5L797.4 356.5L787.4 363.8L791.2 375.5L781.2 368.3L771.3 375.5L775.1 363.8L765.1 356.5L777.4 356.5ZM878.3 373.0L882.2 384.8L894.5 384.8L884.5 392.0L888.3 403.8L878.3 396.5L868.4 403.8L872.2 392.0L862.2 384.8L874.5 384.8ZM869.5 339.5L873.3 351.2L885.7 351.2L875.7 358.5L879.5 370.2L869.5 363.0L859.5 370.2L863.3 358.5L853.4 351.2L865.7 351.2ZM1048.9 332.4L1052.7 344.2L1065.1 344.2L1055.1 351.4L1058.9 363.2L1048.9 355.9L1038.9 363.2L1042.7 351.4L1032.7 344.2L1045.1 344.2ZM1068.3 343.0L1072.1 354.8L1084.5 354.8L1074.5 362.0L1078.3 373.8L1068.3 366.5L1058.3 373.8L1062.1 362.0L1052.2 354.8L1064.5 354.8ZM1094.8 343.0L1098.6 354.8L1111.0 354.8L1101.0 362.0L1104.8 373.8L1094.8 366.5L1084.8 373.8L1088.6 362.0L1078.6 354.8L1091.0 354.8ZM1101.9 353.6L1105.7 365.4L1118.0 365.4L1108.0 372.6L1111.9 384.4L1101.9 377.1L1091.9 384.4L1095.7 372.6L1085.7 365.4L1098.0 365.4ZM1135.4 357.2L1139.2 368.9L1151.6 368.9L1141.6 376.2L1145.4 387.9L1135.4 380.6L1125.4 387.9L1129.2 376.2L1119.2 368.9L1131.6 368.9ZM1084.2 366.0L1088.0 377.7L1100.4 377.7L1090.4 385.0L1094.2 396.7L1084.2 389.5L1074.2 396.7L1078.0 385.0L1068.0 377.7L1080.4 377.7ZM1101.9 380.1L1105.7 391.9L1118.0 391.9L1108.0 399.1L1111.9 410.9L1101.9 403.6L1091.9 410.9L1095.7 399.1L1085.7 391.9L1098.0 391.9ZM1041.8 353.6L1045.7 365.4L1058.0 365.4L1048.0 372.6L1051.8 384.4L1041.8 377.1L1031.8 384.4L1035.7 372.6L1025.7 365.4L1038.0 365.4ZM1020.6 344.8L1024.5 356.5L1036.8 356.5L1026.8 363.8L1030.6 375.5L1020.6 368.3L1010.7 375.5L1014.5 363.8L1004.5 356.5L1016.8 356.5ZM1027.7 374.8L1031.5 386.6L1043.9 386.6L1033.9 393.8L1037.7 405.6L1027.7 398.3L1017.7 405.6L1021.5 393.8L1011.5 386.6L1023.9 386.6ZM1057.7 374.8L1061.5 386.6L1073.9 386.6L1063.9 393.8L1067.7 405.6L1057.7 398.3L1047.7 405.6L1051.5 393.8L1041.6 386.6L1053.9 386.6ZM1075.4 374.8L1079.2 386.6L1091.5 386.6L1081.6 393.8L1085.4 405.6L1075.4 398.3L1065.4 405.6L1069.2 393.8L1059.2 386.6L1071.6 386.6ZM1093.0 392.5L1096.9 404.2L1109.2 404.2L1099.2 411.5L1103.0 423.2L1093.0 416.0L1083.0 423.2L1086.9 411.5L1076.9 404.2L1089.2 404.2ZM1066.6 397.8L1070.4 409.5L1082.7 409.5L1072.7 416.8L1076.5 428.5L1066.6 421.3L1056.6 428.5L1060.4 416.8L1050.4 409.5L1062.7 409.5ZM1107.2 403.1L1111.0 414.8L1123.3 414.8L1113.3 422.1L1117.2 433.8L1107.2 426.6L1097.2 433.8L1101.0 422.1L1091.0 414.8L1103.3 414.8ZM925.3 381.9L929.1 393.6L941.5 393.6L931.5 400.9L935.3 412.6L925.3 405.4L915.3 412.6L919.1 400.9L909.1 393.6L921.5 393.6ZM916.5 346.6L920.3 358.3L932.7 358.3L922.7 365.6L926.5 377.3L916.5 370.1L906.5 377.3L910.3 365.6L900.3 358.3L912.7 358.3ZM900.6 325.4L904.4 337.1L916.8 337.1L906.8 344.4L910.6 356.1L900.6 348.9L890.6 356.1L894.4 344.4L884.4 337.1L896.8 337.1ZM928.8 367.7L932.7 379.5L945.0 379.5L935.0 386.8L938.8 398.5L928.8 391.2L918.8 398.5L922.7 386.8L912.7 379.5L925.0 379.5ZM1013.6 357.2L1017.4 368.9L1029.8 368.9L1019.8 376.2L1023.6 387.9L1013.6 380.6L1003.6 387.9L1007.4 376.2L997.4 368.9L1009.8 368.9ZM1143.5 351.9L1147.3 363.6L1159.7 363.6L1149.7 370.9L1153.5 382.6L1143.5 375.3L1133.5 382.6L1137.4 370.9L1127.4 363.6L1139.7 363.6ZM1160.3 403.1L1164.1 414.8L1176.5 414.8L1166.5 422.1L1170.3 433.8L1160.3 426.6L1150.3 433.8L1154.1 422.1L1144.1 414.8L1156.5 414.8ZM1178.0 403.1L1181.8 414.8L1194.1 414.8L1184.1 422.1L1188.0 433.8L1178.0 426.6L1168.0 433.8L1171.8 422.1L1161.8 414.8L1174.1 414.8ZM1182.4 406.6L1186.2 418.3L1198.5 418.3L1188.5 425.6L1192.4 437.3L1182.4 430.1L1172.4 437.3L1176.2 425.6L1166.2 418.3L1178.6 418.3ZM1187.7 410.1L1191.5 421.9L1203.8 421.9L1193.8 429.1L1197.7 440.9L1187.7 433.6L1177.7 440.9L1181.5 429.1L1171.5 421.9L1183.9 421.9ZM1203.6 424.2L1207.4 436.0L1219.7 436.0L1209.7 443.2L1213.6 455.0L1203.6 447.7L1193.6 455.0L1197.4 443.2L1187.4 436.0L1199.7 436.0ZM1215.9 408.4L1219.7 420.1L1232.1 420.1L1222.1 427.4L1225.9 439.1L1215.9 431.8L1205.9 439.1L1209.7 427.4L1199.8 420.1L1212.1 420.1ZM1170.0 410.1L1173.8 421.9L1186.2 421.9L1176.2 429.1L1180.0 440.9L1170.0 433.6L1160.0 440.9L1163.8 429.1L1153.8 421.9L1166.2 421.9ZM814.0 233.2L817.8 245.0L830.2 245.0L820.2 252.2L824.0 264.0L814.0 256.7L804.0 264.0L807.8 252.2L797.8 245.0L810.2 245.0ZM863.8 286.4L867.6 298.1L880.0 298.1L870.0 305.4L873.8 317.1L863.8 309.8L853.8 317.1L857.6 305.4L847.7 298.1L860.0 298.1ZM826.7 277.6L830.5 289.4L842.9 289.4L832.9 296.6L836.7 308.4L826.7 301.1L816.7 308.4L820.5 296.6L810.5 289.4L822.9 289.4ZM862.6 312.2L866.4 323.9L878.7 323.9L868.7 331.2L872.5 342.9L862.6 335.6L852.6 342.9L856.4 331.2L846.4 323.9L858.7 323.9ZM897.8 325.9L901.7 337.7L914.0 337.7L904.0 344.9L907.8 356.7L897.8 349.4L887.9 356.7L891.7 344.9L881.7 337.7L894.0 337.7ZM858.1 300.2L861.9 311.9L874.2 311.9L864.3 319.2L868.1 330.9L858.1 323.7L848.1 330.9L851.9 319.2L841.9 311.9L854.3 311.9ZM853.4 205.5L857.3 217.2L869.6 217.2L859.6 224.5L863.4 236.2L853.4 229.0L843.4 236.2L847.3 224.5L837.3 217.2L849.6 217.2ZM813.2 295.6L817.1 307.3L829.4 307.3L819.4 314.6L823.2 326.3L813.2 319.1L803.2 326.3L807.1 314.6L797.1 307.3L809.4 307.3ZM845.6 234.7L849.4 246.4L861.8 246.4L851.8 253.7L855.6 265.4L845.6 258.2L835.6 265.4L839.4 253.7L829.4 246.4L841.8 246.4ZM801.9 323.0L805.7 334.7L818.1 334.7L808.1 342.0L811.9 353.7L801.9 346.4L791.9 353.7L795.7 342.0L785.7 334.7L798.1 334.7ZM634.8 244.2L638.6 256.0L651.0 256.0L641.0 263.3L644.8 275.0L634.8 267.7L624.8 275.0L628.6 263.3L618.6 256.0L631.0 256.0ZM643.7 299.6L647.5 311.3L659.8 311.3L649.8 318.6L653.7 330.3L643.7 323.1L633.7 330.3L637.5 318.6L627.5 311.3L639.9 311.3ZM632.7 253.3L636.6 265.0L648.9 265.0L638.9 272.3L642.7 284.0L632.7 276.8L622.8 284.0L626.6 272.3L616.6 265.0L628.9 265.0Z" stroke="#77AC30" stroke-width="1.75" fill="none" stroke-linejoin="miter"/>
<path d="M493.3 163.7L508.9 184.7L493.3 205.7L477.7 184.7ZM589.5 143.4L605.1 164.4L589.5 185.4L573.9 164.4ZM438.6 246.7L454.2 267.7L438.6 288.7L423.0 267.7ZM481.3 246.7L496.9 267.7L481.3 288.7L465.7 267.7ZM540.1 223.8L555.7 244.8L540.1 265.8L524.5 244.8ZM584.2 170.8L599.8 191.8L584.2 212.8L568.6 191.8ZM601.9 177.9L617.5 198.9L601.9 219.9L586.3 198.9ZM577.1 199.1L592.7 220.1L577.1 241.1L561.5 220.1ZM633.6 223.8L649.2 244.8L633.6 265.8L618.0 244.8ZM628.3 245.0L643.9 266.0L628.3 287.0L612.7 266.0ZM637.2 271.4L652.8 292.4L637.2 313.4L621.6 292.4ZM637.2 299.7L652.8 320.7L637.2 341.7L621.6 320.7ZM647.9 126.7L663.5 147.7L647.9 168.7L632.3 147.7ZM765.4 151.4L781.0 172.4L765.4 193.4L749.8 172.4ZM711.5 262.8L727.1 283.8L711.5 304.8L695.9 283.8ZM676.5 161.4L692.1 182.4L676.5 203.4L660.9 182.4ZM657.3 188.1L672.9 209.1L657.3 230.1L641.7 209.1ZM737.0 221.7L752.6 242.7L737.0 263.7L721.4 242.7ZM679.5 169.4L695.1 190.4L679.5 211.4L663.9 190.4ZM744.1 318.7L759.7 339.7L744.1 360.7L728.5 339.7ZM736.8 159.0L752.4 180.0L736.8 201.0L721.2 180.0ZM666.6 186.4L682.2 207.4L666.6 228.4L651.0 207.4ZM744.8 286.2L760.4 307.2L744.8 328.2L729.2 307.2ZM678.7 199.9L694.3 220.9L678.7 241.9L663.1 220.9ZM700.7 208.3L716.3 229.3L700.7 250.3L685.1 229.3ZM702.6 169.2L718.2 190.2L702.6 211.2L687.0 190.2ZM662.5 183.0L678.1 204.0L662.5 225.0L646.9 204.0ZM753.3 188.9L768.9 209.9L753.3 230.9L737.7 209.9ZM712.0 278.3L727.6 299.3L712.0 320.3L696.4 299.3ZM754.8 171.8L770.4 192.8L754.8 213.8L739.2 192.8ZM643.5 228.6L659.1 249.6L643.5 270.6L627.9 249.6ZM721.6 173.1L737.2 194.1L721.6 215.1L706.0 194.1ZM719.7 209.1L735.3 230.1L719.7 251.1L704.1 230.1ZM675.9 231.1L691.5 252.1L675.9 273.1L660.3 252.1ZM676.8 180.7L692.4 201.7L676.8 222.7L661.2 201.7ZM735.9 192.8L751.5 213.8L735.9 234.8L720.3 213.8ZM714.9 162.8L730.5 183.8L714.9 204.8L699.3 183.8ZM738.0 185.1L753.6 206.1L738.0 227.1L722.4 206.1ZM758.4 154.6L774.0 175.6L758.4 196.6L742.8 175.6ZM854.7 275.3L870.3 296.3L854.7 317.3L839.1 296.3ZM874.9 237.8L890.5 258.8L874.9 279.8L859.3 258.8ZM824.4 285.4L840.0 306.4L824.4 327.4L808.8 306.4ZM856.9 327.3L872.5 348.3L856.9 369.3L841.3 348.3ZM802.0 291.8L817.6 312.8L802.0 333.8L786.4 312.8ZM850.5 232.1L866.1 253.1L850.5 274.1L834.9 253.1ZM843.8 186.5L859.4 207.5L843.8 228.5L828.2 207.5ZM825.4 312.8L841.0 333.8L825.4 354.8L809.8 333.8ZM767.9 157.0L783.5 178.0L767.9 199.0L752.3 178.0ZM817.1 179.5L832.7 200.5L817.1 221.5L801.5 200.5ZM770.9 250.7L786.5 271.7L770.9 292.7L755.3 271.7ZM849.7 238.3L865.3 259.3L849.7 280.3L834.1 259.3ZM818.3 281.0L833.9 302.0L818.3 323.0L802.7 302.0ZM875.7 233.2L891.3 254.2L875.7 275.2L860.1 254.2ZM767.6 319.1L783.2 340.1L767.6 361.1L752.0 340.1ZM788.2 203.2L803.8 224.2L788.2 245.2L772.6 224.2ZM822.7 319.9L838.3 340.9L822.7 361.9L807.1 340.9ZM862.7 306.4L878.3 327.4L862.7 348.4L847.1 327.4ZM884.1 183.8L899.7 204.8L884.1 225.8L868.5 204.8ZM824.6 233.2L840.2 254.2L824.6 275.2L809.0 254.2ZM876.1 229.6L891.7 250.6L876.1 271.6L860.5 250.6ZM850.5 222.4L866.1 243.4L850.5 264.4L834.9 243.4ZM833.3 221.7L848.9 242.7L833.3 263.7L817.7 242.7ZM794.7 197.2L810.3 218.2L794.7 239.2L779.1 218.2ZM832.3 229.2L847.9 250.2L832.3 271.2L816.7 250.2ZM772.8 328.0L788.4 349.0L772.8 370.0L757.2 349.0ZM785.7 197.2L801.3 218.2L785.7 239.2L770.1 218.2ZM869.1 217.6L884.7 238.6L869.1 259.6L853.5 238.6ZM854.5 200.3L870.1 221.3L854.5 242.3L838.9 221.3ZM778.7 272.3L794.3 293.3L778.7 314.3L763.1 293.3ZM856.0 158.4L871.6 179.4L856.0 200.4L840.4 179.4ZM824.6 278.3L840.2 299.3L824.6 320.3L809.0 299.3ZM868.9 185.4L884.5 206.4L868.9 227.4L853.3 206.4ZM877.4 208.8L893.0 229.8L877.4 250.8L861.8 229.8ZM774.3 182.8L789.9 203.8L774.3 224.8L758.7 203.8ZM867.3 251.8L882.9 272.8L867.3 293.8L851.7 272.8ZM901.5 124.3L917.1 145.3L901.5 166.3L885.9 145.3ZM993.3 192.3L1008.9 213.3L993.3 234.3L977.7 213.3ZM1027.4 182.6L1043.0 203.6L1027.4 224.6L1011.8 203.6ZM1096.6 281.5L1112.2 302.5L1096.6 323.5L1081.0 302.5ZM895.3 193.2L910.9 214.2L895.3 235.2L879.7 214.2ZM909.4 196.7L925.0 217.7L909.4 238.7L893.8 217.7ZM941.2 217.9L956.8 238.9L941.2 259.9L925.6 238.9ZM964.2 214.4L979.8 235.4L964.2 256.4L948.6 235.4ZM957.1 235.6L972.7 256.6L957.1 277.6L941.5 256.6ZM965.9 256.7L981.5 277.7L965.9 298.7L950.3 277.7ZM981.8 288.5L997.4 309.5L981.8 330.5L966.2 309.5ZM999.5 297.3L1015.1 318.3L999.5 339.3L983.9 318.3ZM925.3 253.2L940.9 274.2L925.3 295.2L909.7 274.2ZM907.7 279.7L923.3 300.7L907.7 321.7L892.1 300.7ZM934.1 270.9L949.7 291.9L934.1 312.9L918.5 291.9ZM943.0 288.5L958.6 309.5L943.0 330.5L927.4 309.5ZM893.5 235.6L909.1 256.6L893.5 277.6L877.9 256.6ZM916.5 226.7L932.1 247.7L916.5 268.7L900.9 247.7ZM895.3 212.6L910.9 233.6L895.3 254.6L879.7 233.6ZM900.6 297.3L916.2 318.3L900.6 339.3L885.0 318.3ZM925.3 302.6L940.9 323.6L925.3 344.6L909.7 323.6ZM960.6 297.3L976.2 318.3L960.6 339.3L945.0 318.3ZM753.0 335.5L768.6 356.5L753.0 377.5L737.4 356.5ZM775.9 339.0L791.5 360.0L775.9 381.0L760.3 360.0ZM805.1 340.8L820.7 361.8L805.1 382.8L789.5 361.8ZM818.3 337.2L833.9 358.2L818.3 379.2L802.7 358.2ZM836.9 344.3L852.5 365.3L836.9 386.3L821.3 365.3ZM867.8 340.8L883.4 361.8L867.8 382.8L852.2 361.8ZM885.4 362.0L901.0 383.0L885.4 404.0L869.8 383.0ZM1056.0 319.6L1071.6 340.6L1056.0 361.6L1040.4 340.6ZM1089.5 344.3L1105.1 365.3L1089.5 386.3L1073.9 365.3ZM1043.6 441.4L1059.2 462.4L1043.6 483.4L1028.0 462.4ZM1022.4 420.2L1038.0 441.2L1022.4 462.2L1006.8 441.2ZM1013.6 402.6L1029.2 423.6L1013.6 444.6L998.0 423.6ZM1101.9 471.4L1117.5 492.4L1101.9 513.4L1086.3 492.4ZM1108.9 475.0L1124.5 496.0L1108.9 517.0L1093.3 496.0ZM1094.8 432.6L1110.4 453.6L1094.8 474.6L1079.2 453.6ZM1091.3 402.6L1106.9 423.6L1091.3 444.6L1075.7 423.6ZM1057.7 411.4L1073.3 432.4L1057.7 453.4L1042.1 432.4ZM1068.3 416.7L1083.9 437.7L1068.3 458.7L1052.7 437.7ZM995.9 392.0L1011.5 413.0L995.9 434.0L980.3 413.0ZM985.3 376.1L1000.9 397.1L985.3 418.1L969.7 397.1ZM978.3 367.3L993.9 388.3L978.3 409.3L962.7 388.3ZM988.9 354.9L1004.5 375.9L988.9 396.9L973.3 375.9ZM1003.0 342.6L1018.6 363.6L1003.0 384.6L987.4 363.6ZM974.7 353.2L990.3 374.2L974.7 395.2L959.1 374.2ZM1013.6 365.5L1029.2 386.5L1013.6 407.5L998.0 386.5ZM914.7 384.9L930.3 405.9L914.7 426.9L899.1 405.9ZM895.3 367.3L910.9 388.3L895.3 409.3L879.7 388.3ZM964.2 337.3L979.8 358.3L964.2 379.3L948.6 358.3ZM943.0 332.0L958.6 353.0L943.0 374.0L927.4 353.0ZM921.8 328.4L937.4 349.4L921.8 370.4L906.2 349.4ZM900.6 332.0L916.2 353.0L900.6 374.0L885.0 353.0ZM934.1 353.2L949.7 374.2L934.1 395.2L918.5 374.2ZM951.8 363.7L967.4 384.7L951.8 405.7L936.2 384.7ZM999.5 319.6L1015.1 340.6L999.5 361.6L983.9 340.6ZM1011.8 328.4L1027.4 349.4L1011.8 370.4L996.2 349.4ZM985.3 332.0L1000.9 353.0L985.3 374.0L969.7 353.0ZM1153.2 388.5L1168.8 409.5L1153.2 430.5L1137.6 409.5ZM1178.0 416.7L1193.6 437.7L1178.0 458.7L1162.4 437.7ZM1208.0 454.7L1223.6 475.7L1208.0 496.7L1192.4 475.7ZM867.8 268.5L883.4 289.5L867.8 310.5L852.2 289.5ZM887.6 249.9L903.2 270.9L887.6 291.9L872.0 270.9ZM872.3 290.2L887.9 311.2L872.3 332.2L856.7 311.2ZM875.2 339.0L890.8 360.0L875.2 381.0L859.6 360.0ZM889.1 346.2L904.7 367.2L889.1 388.2L873.5 367.2ZM843.8 246.7L859.4 267.7L843.8 288.7L828.2 267.7ZM855.8 209.1L871.4 230.1L855.8 251.1L840.2 230.1ZM872.6 282.7L888.2 303.7L872.6 324.7L857.0 303.7ZM806.2 262.8L821.8 283.8L806.2 304.8L790.6 283.8ZM873.8 254.8L889.4 275.8L873.8 296.8L858.2 275.8ZM841.6 284.0L857.2 305.0L841.6 326.0L826.0 305.0ZM811.0 252.8L826.6 273.8L811.0 294.8L795.4 273.8ZM884.7 279.1L900.3 300.1L884.7 321.1L869.1 300.1ZM809.6 319.1L825.2 340.1L809.6 361.1L794.0 340.1ZM890.1 307.0L905.7 328.0L890.1 349.0L874.5 328.0ZM623.9 260.4L639.5 281.4L623.9 302.4L608.3 281.4ZM640.8 277.5L656.4 298.5L640.8 319.5L625.2 298.5ZM638.5 297.9L654.1 318.9L638.5 339.9L622.9 318.9ZM624.5 215.1L640.1 236.1L624.5 257.1L608.9 236.1ZM641.2 268.4L656.8 289.4L641.2 310.4L625.6 289.4Z" stroke="#000000" stroke-width="1.75" fill="none"/>
<path d="M256.2 924.4h21.6M267.0 913.6v21.6M259.4 916.8l15.3 15.3M259.4 932.1l15.3 -15.3M314.5 918.2h21.6M325.3 907.4v21.6M317.6 910.6l15.3 15.3M317.6 925.8l15.3 -15.3M264.8 964.0h21.6M275.6 953.2v21.6M267.9 956.4l15.3 15.3M267.9 971.7l15.3 -15.3M258.5 983.5h21.6M269.3 972.7v21.6M261.7 975.8l15.3 15.3M261.7 991.1l15.3 -15.3M333.9 948.5h21.6M344.7 937.7v21.6M337.1 940.9l15.3 15.3M337.1 956.1l15.3 -15.3M324.6 960.9h21.6M335.4 950.1v21.6M327.7 953.3l15.3 15.3M327.7 968.6l15.3 -15.3M333.9 967.9h21.6M344.7 957.1v21.6M337.1 960.3l15.3 15.3M337.1 975.6l15.3 -15.3M340.1 985.0h21.6M350.9 974.2v21.6M343.3 977.4l15.3 15.3M343.3 992.7l15.3 -15.3M358.0 953.9h21.6M368.8 943.1v21.6M361.1 946.3l15.3 15.3M361.1 961.6l15.3 -15.3M365.0 929.1h21.6M375.8 918.3v21.6M368.1 921.4l15.3 15.3M368.1 936.7l15.3 -15.3M369.6 977.3h21.6M380.4 966.5v21.6M372.8 969.6l15.3 15.3M372.8 984.9l15.3 -15.3M285.0 1027.7h21.6M295.8 1016.9v21.6M288.1 1020.1l15.3 15.3M288.1 1035.4l15.3 -15.3M324.6 1019.2h21.6M335.4 1008.4v21.6M327.7 1011.6l15.3 15.3M327.7 1026.8l15.3 -15.3M375.9 994.3h21.6M386.7 983.5v21.6M379.0 986.7l15.3 15.3M379.0 1002.0l15.3 -15.3M398.9 899.3h21.6M409.7 888.5v21.6M402.1 891.6l15.3 15.3M402.1 906.9l15.3 -15.3M494.8 891.9h21.6M505.6 881.1v21.6M497.9 884.2l15.3 15.3M497.9 899.5l15.3 -15.3M512.8 909.0h21.6M523.6 898.2v21.6M516.0 901.4l15.3 15.3M516.0 916.6l15.3 -15.3M516.3 909.9h21.6M527.1 899.1v21.6M519.5 902.2l15.3 15.3M519.5 917.5l15.3 -15.3M439.5 910.8h21.6M450.3 900.0v21.6M442.7 903.1l15.3 15.3M442.7 918.4l15.3 -15.3M406.9 932.8h21.6M417.7 922.0v21.6M410.0 925.2l15.3 15.3M410.0 940.5l15.3 -15.3M479.2 927.5h21.6M490.0 916.7v21.6M482.4 919.9l15.3 15.3M482.4 935.2l15.3 -15.3M509.3 943.4h21.6M520.1 932.6v21.6M512.4 935.8l15.3 15.3M512.4 951.1l15.3 -15.3M466.9 956.7h21.6M477.7 945.9v21.6M470.0 949.0l15.3 15.3M470.0 964.3l15.3 -15.3M456.3 973.4h21.6M467.1 962.6v21.6M459.5 965.8l15.3 15.3M459.5 981.1l15.3 -15.3M512.8 969.9h21.6M523.6 959.1v21.6M516.0 962.3l15.3 15.3M516.0 977.5l15.3 -15.3M525.1 978.7h21.6M535.9 967.9v21.6M528.3 971.1l15.3 15.3M528.3 986.4l15.3 -15.3M541.0 961.1h21.6M551.8 950.3v21.6M544.2 953.4l15.3 15.3M544.2 968.7l15.3 -15.3M525.1 994.6h21.6M535.9 983.8v21.6M528.3 987.0l15.3 15.3M528.3 1002.3l15.3 -15.3M512.8 1008.7h21.6M523.6 997.9v21.6M516.0 1001.1l15.3 15.3M516.0 1016.4l15.3 -15.3M468.6 994.6h21.6M479.4 983.8v21.6M471.8 987.0l15.3 15.3M471.8 1002.3l15.3 -15.3M428.0 992.9h21.6M438.8 982.1v21.6M431.2 985.2l15.3 15.3M431.2 1000.5l15.3 -15.3M410.4 1017.6h21.6M421.2 1006.8v21.6M413.5 1009.9l15.3 15.3M413.5 1025.2l15.3 -15.3M443.9 1024.6h21.6M454.7 1013.8v21.6M447.1 1017.0l15.3 15.3M447.1 1032.3l15.3 -15.3M493.4 1028.2h21.6M504.2 1017.4v21.6M496.5 1020.5l15.3 15.3M496.5 1035.8l15.3 -15.3M227.9 1083.1h21.6M238.7 1072.3v21.6M231.1 1075.4l15.3 15.3M231.1 1090.7l15.3 -15.3M269.4 1149.9h21.6M280.2 1139.1v21.6M272.6 1142.2l15.3 15.3M272.6 1157.5l15.3 -15.3M282.6 1059.7h21.6M293.4 1048.9v21.6M285.8 1052.1l15.3 15.3M285.8 1067.4l15.3 -15.3M304.4 1125.0h21.6M315.2 1114.2v21.6M307.5 1117.4l15.3 15.3M307.5 1132.6l15.3 -15.3M330.8 1138.2h21.6M341.6 1127.4v21.6M334.0 1130.6l15.3 15.3M334.0 1145.8l15.3 -15.3M363.4 1209.7h21.6M374.2 1198.9v21.6M366.6 1202.0l15.3 15.3M366.6 1217.3l15.3 -15.3M316.8 1105.6h21.6M327.6 1094.8v21.6M320.0 1097.9l15.3 15.3M320.0 1113.2l15.3 -15.3M361.9 1069.8h21.6M372.7 1059.0v21.6M365.0 1062.2l15.3 15.3M365.0 1077.5l15.3 -15.3M352.5 1104.0h21.6M363.3 1093.2v21.6M355.7 1096.4l15.3 15.3M355.7 1111.7l15.3 -15.3M368.1 1127.3h21.6M378.9 1116.5v21.6M371.2 1119.7l15.3 15.3M371.2 1135.0l15.3 -15.3M318.4 1062.1h21.6M329.2 1051.3v21.6M321.5 1054.4l15.3 15.3M321.5 1069.7l15.3 -15.3M343.2 1149.1h21.6M354.0 1138.3v21.6M346.4 1141.4l15.3 15.3M346.4 1156.7l15.3 -15.3M386.7 1245.4h21.6M397.5 1234.6v21.6M389.9 1237.8l15.3 15.3M389.9 1253.1l15.3 -15.3M504.8 1152.8h21.6M515.6 1142.0v21.6M508.0 1145.2l15.3 15.3M508.0 1160.5l15.3 -15.3M504.0 1207.6h21.6M514.8 1196.8v21.6M507.1 1199.9l15.3 15.3M507.1 1215.2l15.3 -15.3M525.1 1215.5h21.6M535.9 1204.7v21.6M528.3 1207.9l15.3 15.3M528.3 1223.1l15.3 -15.3M493.4 1181.1h21.6M504.2 1170.3v21.6M496.5 1173.4l15.3 15.3M496.5 1188.7l15.3 -15.3M481.0 1050.4h21.6M491.8 1039.6v21.6M484.2 1042.8l15.3 15.3M484.2 1058.1l15.3 -15.3M493.4 1052.2h21.6M504.2 1041.4v21.6M496.5 1044.5l15.3 15.3M496.5 1059.8l15.3 -15.3M473.9 1066.3h21.6M484.7 1055.5v21.6M477.1 1058.7l15.3 15.3M477.1 1073.9l15.3 -15.3M474.7 1246.0h21.6M485.5 1235.2v21.6M477.8 1238.3l15.3 15.3M477.8 1253.6l15.3 -15.3M417.0 1158.9h21.6M427.8 1148.1v21.6M420.1 1151.3l15.3 15.3M420.1 1166.6l15.3 -15.3M476.0 1229.3h21.6M486.8 1218.5v21.6M479.2 1221.6l15.3 15.3M479.2 1236.9l15.3 -15.3M486.8 1220.3h21.6M497.6 1209.5v21.6M490.0 1212.7l15.3 15.3M490.0 1227.9l15.3 -15.3M472.0 1234.1h21.6M482.8 1223.3v21.6M475.2 1226.5l15.3 15.3M475.2 1241.7l15.3 -15.3M422.1 1233.9h21.6M432.9 1223.1v21.6M425.2 1226.3l15.3 15.3M425.2 1241.6l15.3 -15.3M443.5 1150.4h21.6M454.3 1139.6v21.6M446.6 1142.8l15.3 15.3M446.6 1158.0l15.3 -15.3M493.5 1185.2h21.6M504.3 1174.4v21.6M496.7 1177.5l15.3 15.3M496.7 1192.8l15.3 -15.3M414.4 1064.2h21.6M425.2 1053.4v21.6M417.5 1056.6l15.3 15.3M417.5 1071.9l15.3 -15.3M457.2 1052.1h21.6M468.0 1041.3v21.6M460.3 1044.5l15.3 15.3M460.3 1059.8l15.3 -15.3M400.3 1156.2h21.6M411.1 1145.4v21.6M403.5 1148.6l15.3 15.3M403.5 1163.8l15.3 -15.3M409.9 1134.9h21.6M420.7 1124.1v21.6M413.1 1127.3l15.3 15.3M413.1 1142.6l15.3 -15.3M447.7 1212.0h21.6M458.5 1201.2v21.6M450.8 1204.4l15.3 15.3M450.8 1219.6l15.3 -15.3M462.8 1041.0h21.6M473.6 1030.2v21.6M465.9 1033.4l15.3 15.3M465.9 1048.7l15.3 -15.3M411.0 1076.9h21.6M421.8 1066.1v21.6M414.2 1069.3l15.3 15.3M414.2 1084.6l15.3 -15.3M402.0 1057.0h21.6M412.8 1046.2v21.6M405.2 1049.4l15.3 15.3M405.2 1064.6l15.3 -15.3M463.7 1065.8h21.6M474.5 1055.0v21.6M466.8 1058.1l15.3 15.3M466.8 1073.4l15.3 -15.3M455.7 1174.7h21.6M466.5 1163.9v21.6M458.9 1167.0l15.3 15.3M458.9 1182.3l15.3 -15.3M395.5 1260.3h21.6M406.3 1249.5v21.6M398.6 1252.7l15.3 15.3M398.6 1268.0l15.3 -15.3M571.1 1290.3h21.6M581.9 1279.5v21.6M574.2 1282.7l15.3 15.3M574.2 1298.0l15.3 -15.3M571.1 1315.9h21.6M581.9 1305.1v21.6M574.2 1308.3l15.3 15.3M574.2 1323.6l15.3 -15.3M583.4 1315.9h21.6M594.2 1305.1v21.6M586.6 1308.3l15.3 15.3M586.6 1323.6l15.3 -15.3M521.6 1351.2h21.6M532.4 1340.4v21.6M524.8 1343.6l15.3 15.3M524.8 1358.9l15.3 -15.3M440.4 1315.9h21.6M451.2 1305.1v21.6M443.6 1308.3l15.3 15.3M443.6 1323.6l15.3 -15.3M477.5 1315.9h21.6M488.3 1305.1v21.6M480.6 1308.3l15.3 15.3M480.6 1323.6l15.3 -15.3M546.3 1345.9h21.6M557.1 1335.1v21.6M549.5 1338.3l15.3 15.3M549.5 1353.6l15.3 -15.3M518.1 1254.1h21.6M528.9 1243.3v21.6M521.2 1246.5l15.3 15.3M521.2 1261.8l15.3 -15.3M415.7 1273.5h21.6M426.5 1262.7v21.6M418.8 1265.9l15.3 15.3M418.8 1281.2l15.3 -15.3M396.3 1257.7h21.6M407.1 1246.9v21.6M399.4 1250.0l15.3 15.3M399.4 1265.3l15.3 -15.3M408.1 1058.6h21.6M418.9 1047.8v21.6M411.3 1050.9l15.3 15.3M411.3 1066.2l15.3 -15.3M414.4 1020.1h21.6M425.2 1009.3v21.6M417.5 1012.4l15.3 15.3M417.5 1027.7l15.3 -15.3M431.6 1043.6h21.6M442.4 1032.8v21.6M434.8 1036.0l15.3 15.3M434.8 1051.2l15.3 -15.3M336.7 1175.3h21.6M347.5 1164.5v21.6M339.8 1167.7l15.3 15.3M339.8 1183.0l15.3 -15.3M359.2 1157.1h21.6M370.0 1146.3v21.6M362.3 1149.4l15.3 15.3M362.3 1164.7l15.3 -15.3M372.0 1098.2h21.6M382.8 1087.4v21.6M375.1 1090.5l15.3 15.3M375.1 1105.8l15.3 -15.3M332.9 1169.7h21.6M343.7 1158.9v21.6M336.1 1162.1l15.3 15.3M336.1 1177.4l15.3 -15.3M393.9 1161.6h21.6M404.7 1150.8v21.6M397.1 1154.0l15.3 15.3M397.1 1169.2l15.3 -15.3M387.7 1097.9h21.6M398.5 1087.1v21.6M390.9 1090.3l15.3 15.3M390.9 1105.6l15.3 -15.3M395.8 1143.4h21.6M406.6 1132.6v21.6M398.9 1135.8l15.3 15.3M398.9 1151.0l15.3 -15.3M373.4 1124.4h21.6M384.2 1113.6v21.6M376.6 1116.7l15.3 15.3M376.6 1132.0l15.3 -15.3M349.9 1139.8h21.6M360.7 1129.0v21.6M353.1 1132.1l15.3 15.3M353.1 1147.4l15.3 -15.3M342.1 1121.6h21.6M352.9 1110.8v21.6M345.3 1113.9l15.3 15.3M345.3 1129.2l15.3 -15.3M390.7 1124.9h21.6M401.5 1114.1v21.6M393.9 1117.3l15.3 15.3M393.9 1132.6l15.3 -15.3M408.4 1141.4h21.6M419.2 1130.6v21.6M411.6 1133.8l15.3 15.3M411.6 1149.1l15.3 -15.3M447.6 1185.4h21.6M458.4 1174.6v21.6M450.7 1177.8l15.3 15.3M450.7 1193.0l15.3 -15.3M405.7 1127.3h21.6M416.5 1116.5v21.6M408.8 1119.7l15.3 15.3M408.8 1135.0l15.3 -15.3M483.1 1230.8h21.6M493.9 1220.0v21.6M486.3 1223.2l15.3 15.3M486.3 1238.5l15.3 -15.3M483.4 1186.4h21.6M494.2 1175.6v21.6M486.5 1178.7l15.3 15.3M486.5 1194.0l15.3 -15.3M424.8 1243.2h21.6M435.6 1232.4v21.6M427.9 1235.6l15.3 15.3M427.9 1250.8l15.3 -15.3M539.9 1328.8h21.6M550.7 1318.0v21.6M543.1 1321.2l15.3 15.3M543.1 1336.5l15.3 -15.3M554.7 1314.6h21.6M565.5 1303.8v21.6M557.8 1307.0l15.3 15.3M557.8 1322.2l15.3 -15.3M500.5 1292.8h21.6M511.3 1282.0v21.6M503.7 1285.2l15.3 15.3M503.7 1300.5l15.3 -15.3M573.2 1315.2h21.6M584.0 1304.4v21.6M576.4 1307.6l15.3 15.3M576.4 1322.8l15.3 -15.3M438.7 1258.4h21.6M449.5 1247.6v21.6M441.8 1250.7l15.3 15.3M441.8 1266.0l15.3 -15.3M465.9 1258.5h21.6M476.7 1247.7v21.6M469.1 1250.8l15.3 15.3M469.1 1266.1l15.3 -15.3M535.5 1338.1h21.6M546.3 1327.3v21.6M538.6 1330.5l15.3 15.3M538.6 1345.8l15.3 -15.3M573.8 1357.2h21.6M584.6 1346.4v21.6M577.0 1349.6l15.3 15.3M577.0 1364.8l15.3 -15.3M530.8 1342.1h21.6M541.6 1331.3v21.6M534.0 1334.5l15.3 15.3M534.0 1349.8l15.3 -15.3M525.8 1322.7h21.6M536.6 1311.9v21.6M528.9 1315.1l15.3 15.3M528.9 1330.4l15.3 -15.3M460.4 1190.8h21.6M471.2 1180.0v21.6M463.6 1183.1l15.3 15.3M463.6 1198.4l15.3 -15.3M490.7 1158.5h21.6M501.5 1147.7v21.6M493.8 1150.9l15.3 15.3M493.8 1166.2l15.3 -15.3M460.3 1241.6h21.6M471.1 1230.8v21.6M463.4 1234.0l15.3 15.3M463.4 1249.3l15.3 -15.3M457.1 1192.6h21.6M467.9 1181.8v21.6M460.3 1185.0l15.3 15.3M460.3 1200.3l15.3 -15.3M415.2 1176.3h21.6M426.0 1165.5v21.6M418.4 1168.7l15.3 15.3M418.4 1184.0l15.3 -15.3M505.6 1242.1h21.6M516.4 1231.3v21.6M508.8 1234.4l15.3 15.3M508.8 1249.7l15.3 -15.3M422.8 1158.2h21.6M433.6 1147.4v21.6M425.9 1150.6l15.3 15.3M425.9 1165.9l15.3 -15.3M404.8 1190.5h21.6M415.6 1179.7v21.6M408.0 1182.8l15.3 15.3M408.0 1198.1l15.3 -15.3M356.1 1160.6h21.6M366.9 1149.8v21.6M359.3 1153.0l15.3 15.3M359.3 1168.3l15.3 -15.3M410.0 1217.7h21.6M420.8 1206.9v21.6M413.1 1210.0l15.3 15.3M413.1 1225.3l15.3 -15.3M401.5 1030.0h21.6M412.3 1019.2v21.6M404.6 1022.3l15.3 15.3M404.6 1037.6l15.3 -15.3M402.3 1024.9h21.6M413.1 1014.1v21.6M405.5 1017.3l15.3 15.3M405.5 1032.5l15.3 -15.3M401.2 1014.8h21.6M412.0 1004.0v21.6M404.4 1007.2l15.3 15.3M404.4 1022.5l15.3 -15.3M412.8 1009.4h21.6M423.6 998.6v21.6M415.9 1001.8l15.3 15.3M415.9 1017.0l15.3 -15.3M389.6 1017.1h21.6M400.4 1006.3v21.6M392.8 1009.4l15.3 15.3M392.8 1024.7l15.3 -15.3M375.2 1033.1h21.6M386.0 1022.3v21.6M378.4 1025.5l15.3 15.3M378.4 1040.8l15.3 -15.3M366.4 1038.8h21.6M377.2 1028.0v21.6M369.6 1031.2l15.3 15.3M369.6 1046.5l15.3 -15.3M405.1 1049.9h21.6M415.9 1039.1v21.6M408.2 1042.2l15.3 15.3M408.2 1057.5l15.3 -15.3M399.2 1017.4h21.6M410.0 1006.6v21.6M402.4 1009.8l15.3 15.3M402.4 1025.1l15.3 -15.3M416.5 1024.0h21.6M427.3 1013.2v21.6M419.7 1016.4l15.3 15.3M419.7 1031.6l15.3 -15.3M357.4 1160.5h21.6M368.2 1149.7v21.6M360.6 1152.9l15.3 15.3M360.6 1168.1l15.3 -15.3M334.4 1094.1h21.6M345.2 1083.3v21.6M337.6 1086.5l15.3 15.3M337.6 1101.7l15.3 -15.3M339.6 1152.4h21.6M350.4 1141.6v21.6M342.7 1144.7l15.3 15.3M342.7 1160.0l15.3 -15.3M355.7 1126.4h21.6M366.5 1115.6v21.6M358.8 1118.7l15.3 15.3M358.8 1134.0l15.3 -15.3M379.9 1094.4h21.6M390.7 1083.6v21.6M383.0 1086.8l15.3 15.3M383.0 1102.1l15.3 -15.3M332.2 1095.5h21.6M343.0 1084.7v21.6M335.4 1087.9l15.3 15.3M335.4 1103.1l15.3 -15.3M301.3 1019.7h21.6M312.1 1008.9v21.6M304.5 1012.1l15.3 15.3M304.5 1027.3l15.3 -15.3M331.0 1110.4h21.6M341.8 1099.6v21.6M334.2 1102.8l15.3 15.3M334.2 1118.1l15.3 -15.3" stroke="#0072BD" stroke-width="1.75" fill="none"/>
<g stroke="#D95319" stroke-width="1.75" fill="none"><circle cx="276.8" cy="839.0" r="10.8"/><circle cx="375.0" cy="857.1" r="10.8"/><circle cx="395.2" cy="875.5" r="10.8"/><circle cx="279.4" cy="879.4" r="10.8"/><circle cx="283.8" cy="882.2" r="10.8"/><circle cx="307.7" cy="885.3" r="10.8"/><circle cx="318.3" cy="882.8" r="10.8"/><circle cx="340.8" cy="890.2" r="10.8"/><circle cx="250.2" cy="901.1" r="10.8"/><circle cx="262.3" cy="921.3" r="10.8"/><circle cx="315.6" cy="912.8" r="10.8"/><circle cx="337.7" cy="912.8" r="10.8"/><circle cx="291.1" cy="926.8" r="10.8"/><circle cx="306.6" cy="926.0" r="10.8"/><circle cx="302.7" cy="941.2" r="10.8"/><circle cx="331.5" cy="933.7" r="10.8"/><circle cx="335.4" cy="931.4" r="10.8"/><circle cx="390.5" cy="910.4" r="10.8"/><circle cx="284.9" cy="955.5" r="10.8"/><circle cx="287.2" cy="964.0" r="10.8"/><circle cx="258.5" cy="965.6" r="10.8"/><circle cx="288.0" cy="992.0" r="10.8"/><circle cx="338.5" cy="992.0" r="10.8"/><circle cx="389.0" cy="946.2" r="10.8"/><circle cx="391.3" cy="953.9" r="10.8"/><circle cx="396.7" cy="1000.6" r="10.8"/><circle cx="315.2" cy="1017.7" r="10.8"/><circle cx="333.8" cy="1019.2" r="10.8"/><circle cx="375.0" cy="1023.1" r="10.8"/><circle cx="441.8" cy="886.0" r="10.8"/><circle cx="490.4" cy="924.9" r="10.8"/><circle cx="491.8" cy="954.9" r="10.8"/><circle cx="438.8" cy="934.6" r="10.8"/><circle cx="423.0" cy="957.5" r="10.8"/><circle cx="453.0" cy="957.5" r="10.8"/><circle cx="438.8" cy="979.6" r="10.8"/><circle cx="417.7" cy="985.8" r="10.8"/><circle cx="470.6" cy="987.6" r="10.8"/><circle cx="460.0" cy="1007.0" r="10.8"/><circle cx="421.2" cy="1019.3" r="10.8"/><circle cx="403.5" cy="941.6" r="10.8"/><circle cx="401.8" cy="908.1" r="10.8"/><circle cx="274.8" cy="1088.5" r="10.8"/><circle cx="301.2" cy="1045.8" r="10.8"/><circle cx="313.6" cy="1073.0" r="10.8"/><circle cx="329.2" cy="1102.5" r="10.8"/><circle cx="343.1" cy="1124.2" r="10.8"/><circle cx="363.3" cy="1100.9" r="10.8"/><circle cx="358.7" cy="1118.0" r="10.8"/><circle cx="371.1" cy="1130.4" r="10.8"/><circle cx="368.0" cy="1158.4" r="10.8"/><circle cx="374.2" cy="1181.7" r="10.8"/><circle cx="385.1" cy="1211.2" r="10.8"/><circle cx="396.0" cy="1231.4" r="10.8"/><circle cx="354.0" cy="1170.8" r="10.8"/><circle cx="391.3" cy="1108.7" r="10.8"/><circle cx="397.5" cy="1139.8" r="10.8"/><circle cx="335.4" cy="1080.7" r="10.8"/><circle cx="363.3" cy="1051.2" r="10.8"/><circle cx="374.2" cy="1035.7" r="10.8"/><circle cx="315.2" cy="1040.3" r="10.8"/><circle cx="476.0" cy="1155.1" r="10.8"/><circle cx="425.5" cy="1063.9" r="10.8"/><circle cx="483.6" cy="1083.2" r="10.8"/><circle cx="415.2" cy="1038.6" r="10.8"/><circle cx="438.0" cy="1158.0" r="10.8"/><circle cx="426.6" cy="1136.0" r="10.8"/><circle cx="465.1" cy="1183.7" r="10.8"/><circle cx="478.1" cy="1057.2" r="10.8"/><circle cx="513.4" cy="1214.2" r="10.8"/><circle cx="408.8" cy="1231.7" r="10.8"/><circle cx="510.4" cy="1184.0" r="10.8"/><circle cx="484.9" cy="1225.2" r="10.8"/><circle cx="465.6" cy="1220.3" r="10.8"/><circle cx="444.8" cy="1096.0" r="10.8"/><circle cx="601.3" cy="1356.5" r="10.8"/><circle cx="608.3" cy="1363.6" r="10.8"/><circle cx="585.4" cy="1360.1" r="10.8"/><circle cx="592.4" cy="1370.6" r="10.8"/><circle cx="611.9" cy="1375.9" r="10.8"/><circle cx="613.6" cy="1384.8" r="10.8"/><circle cx="587.1" cy="1375.9" r="10.8"/><circle cx="551.8" cy="1301.8" r="10.8"/><circle cx="558.9" cy="1296.5" r="10.8"/><circle cx="562.4" cy="1310.6" r="10.8"/><circle cx="544.8" cy="1315.9" r="10.8"/><circle cx="537.7" cy="1287.7" r="10.8"/><circle cx="500.6" cy="1347.7" r="10.8"/><circle cx="541.2" cy="1347.7" r="10.8"/><circle cx="481.2" cy="1294.7" r="10.8"/><circle cx="472.4" cy="1268.2" r="10.8"/><circle cx="440.6" cy="1278.8" r="10.8"/><circle cx="505.9" cy="1275.3" r="10.8"/><circle cx="523.6" cy="1310.6" r="10.8"/><circle cx="514.8" cy="1266.5" r="10.8"/><circle cx="567.7" cy="1340.6" r="10.8"/><circle cx="381.7" cy="1016.7" r="10.8"/><circle cx="368.3" cy="1064.5" r="10.8"/><circle cx="382.5" cy="1062.8" r="10.8"/><circle cx="433.1" cy="1024.0" r="10.8"/><circle cx="413.9" cy="1020.6" r="10.8"/><circle cx="387.9" cy="1151.5" r="10.8"/><circle cx="388.6" cy="1112.2" r="10.8"/><circle cx="383.5" cy="1166.6" r="10.8"/><circle cx="393.6" cy="1085.5" r="10.8"/><circle cx="367.5" cy="1127.4" r="10.8"/><circle cx="350.5" cy="1155.8" r="10.8"/><circle cx="399.0" cy="1179.1" r="10.8"/><circle cx="342.4" cy="1120.8" r="10.8"/><circle cx="387.2" cy="1086.5" r="10.8"/><circle cx="383.6" cy="1083.7" r="10.8"/><circle cx="473.9" cy="1097.4" r="10.8"/><circle cx="487.9" cy="1100.7" r="10.8"/><circle cx="449.5" cy="1270.6" r="10.8"/><circle cx="544.5" cy="1283.1" r="10.8"/><circle cx="508.2" cy="1297.2" r="10.8"/><circle cx="467.0" cy="1286.3" r="10.8"/><circle cx="583.4" cy="1328.4" r="10.8"/><circle cx="544.6" cy="1304.5" r="10.8"/><circle cx="585.9" cy="1328.2" r="10.8"/><circle cx="473.3" cy="1288.6" r="10.8"/><circle cx="530.4" cy="1277.3" r="10.8"/><circle cx="434.8" cy="1244.3" r="10.8"/><circle cx="480.4" cy="1201.6" r="10.8"/><circle cx="403.1" cy="1164.7" r="10.8"/><circle cx="484.2" cy="1155.3" r="10.8"/><circle cx="398.3" cy="1185.3" r="10.8"/><circle cx="475.0" cy="1239.5" r="10.8"/><circle cx="511.7" cy="1212.4" r="10.8"/><circle cx="360.9" cy="1015.4" r="10.8"/><circle cx="428.2" cy="1018.0" r="10.8"/><circle cx="392.3" cy="1149.0" r="10.8"/><circle cx="369.7" cy="1091.4" r="10.8"/><circle cx="346.0" cy="1159.5" r="10.8"/><circle cx="385.3" cy="1107.9" r="10.8"/><circle cx="381.6" cy="1143.7" r="10.8"/><circle cx="379.8" cy="1148.4" r="10.8"/><circle cx="371.5" cy="1119.9" r="10.8"/><circle cx="385.4" cy="1085.3" r="10.8"/><circle cx="323.3" cy="1096.6" r="10.8"/><circle cx="327.7" cy="1129.5" r="10.8"/></g>
<path d="M343.9 870.1L347.7 881.9L360.1 881.9L350.1 889.1L353.9 900.9L343.9 893.6L333.9 900.9L337.7 889.1L327.8 881.9L340.1 881.9ZM294.2 893.4L298.0 905.2L310.4 905.2L300.4 912.4L304.2 924.2L294.2 916.9L284.2 924.2L288.0 912.4L278.0 905.2L290.4 905.2ZM344.7 901.2L348.5 913.0L360.9 913.0L350.9 920.2L354.7 932.0L344.7 924.7L334.7 932.0L338.5 920.2L328.5 913.0L340.9 913.0ZM355.6 913.6L359.4 925.4L371.7 925.4L361.8 932.6L365.6 944.4L355.6 937.1L345.6 944.4L349.4 932.6L339.4 925.4L351.8 925.4ZM319.8 978.9L323.7 990.6L336.0 990.6L326.0 997.9L329.8 1009.7L319.8 1002.4L309.8 1009.7L313.7 997.9L303.7 990.6L316.0 990.6ZM336.9 986.7L340.7 998.4L353.1 998.4L343.1 1005.7L346.9 1017.4L336.9 1010.2L326.9 1017.4L330.8 1005.7L320.8 998.4L333.1 998.4ZM354.0 985.1L357.8 996.9L370.2 996.9L360.2 1004.1L364.0 1015.9L354.0 1008.6L344.0 1015.9L347.8 1004.1L337.9 996.9L350.2 996.9ZM366.5 977.3L370.3 989.1L382.6 989.1L372.6 996.4L376.4 1008.1L366.5 1000.8L356.5 1008.1L360.3 996.4L350.3 989.1L362.6 989.1ZM377.3 996.0L381.1 1007.7L393.5 1007.7L383.5 1015.0L387.3 1026.7L377.3 1019.5L367.3 1026.7L371.2 1015.0L361.2 1007.7L373.5 1007.7ZM358.7 1003.8L362.5 1015.5L374.9 1015.5L364.9 1022.8L368.7 1034.5L358.7 1027.3L348.7 1034.5L352.5 1022.8L342.5 1015.5L354.9 1015.5ZM389.8 949.4L393.6 961.1L405.9 961.1L395.9 968.4L399.7 980.1L389.8 972.9L379.8 980.1L383.6 968.4L373.6 961.1L385.9 961.1ZM397.5 918.3L401.3 930.0L413.7 930.0L403.7 937.3L407.5 949.1L397.5 941.8L387.5 949.1L391.4 937.3L381.4 930.0L393.7 930.0ZM549.2 850.5L553.0 862.2L565.4 862.2L555.4 869.5L559.2 881.3L549.2 874.0L539.2 881.3L543.0 869.5L533.0 862.2L545.4 862.2ZM477.2 861.1L481.0 872.8L493.3 872.8L483.3 880.1L487.1 891.8L477.2 884.6L467.2 891.8L471.0 880.1L461.0 872.8L473.3 872.8ZM541.2 877.0L545.1 888.7L557.4 888.7L547.4 896.0L551.2 907.7L541.2 900.5L531.3 907.7L535.1 896.0L525.1 888.7L537.4 888.7ZM435.3 868.2L439.1 879.9L451.5 879.9L441.5 887.2L445.3 898.9L435.3 891.6L425.3 898.9L429.1 887.2L419.1 879.9L431.5 879.9ZM453.0 868.2L456.8 879.9L469.1 879.9L459.1 887.2L463.0 898.9L453.0 891.6L443.0 898.9L446.8 887.2L436.8 879.9L449.1 879.9ZM423.0 899.9L426.8 911.7L439.1 911.7L429.1 918.9L432.9 930.7L423.0 923.4L413.0 930.7L416.8 918.9L406.8 911.7L419.1 911.7ZM473.3 910.5L477.1 922.3L489.4 922.3L479.4 929.5L483.3 941.3L473.3 934.0L463.3 941.3L467.1 929.5L457.1 922.3L469.5 922.3ZM461.8 917.6L465.6 929.3L478.0 929.3L468.0 936.6L471.8 948.3L461.8 941.1L451.8 948.3L455.6 936.6L445.6 929.3L458.0 929.3ZM479.4 921.1L483.3 932.9L495.6 932.9L485.6 940.1L489.4 951.9L479.4 944.6L469.5 951.9L473.3 940.1L463.3 932.9L475.6 932.9ZM444.1 935.2L448.0 947.0L460.3 947.0L450.3 954.2L454.1 966.0L444.1 958.7L434.1 966.0L438.0 954.2L428.0 947.0L440.3 947.0ZM505.9 956.4L509.7 968.2L522.1 968.2L512.1 975.4L515.9 987.2L505.9 979.9L495.9 987.2L499.8 975.4L489.8 968.2L502.1 968.2ZM498.9 982.9L502.7 994.7L515.0 994.7L505.0 1001.9L508.9 1013.7L498.9 1006.4L488.9 1013.7L492.7 1001.9L482.7 994.7L495.1 994.7ZM453.0 961.7L456.8 973.5L469.1 973.5L459.1 980.7L463.0 992.5L453.0 985.2L443.0 992.5L446.8 980.7L436.8 973.5L449.1 973.5ZM474.2 974.1L478.0 985.8L490.3 985.8L480.3 993.1L484.1 1004.8L474.2 997.6L464.2 1004.8L468.0 993.1L458.0 985.8L470.3 985.8ZM426.5 1007.6L430.3 1019.4L442.7 1019.4L432.7 1026.6L436.5 1038.4L426.5 1031.1L416.5 1038.4L420.3 1026.6L410.3 1019.4L422.7 1019.4ZM484.7 967.0L488.6 978.8L500.9 978.8L490.9 986.0L494.7 997.8L484.7 990.5L474.8 997.8L478.6 986.0L468.6 978.8L480.9 978.8ZM523.6 981.1L527.4 992.9L539.8 992.9L529.8 1000.2L533.6 1011.9L523.6 1004.6L513.6 1011.9L517.4 1000.2L507.4 992.9L519.8 992.9ZM440.6 949.4L444.4 961.1L456.8 961.1L446.8 968.4L450.6 980.1L440.6 972.9L430.6 980.1L434.4 968.4L424.4 961.1L436.8 961.1ZM414.1 935.2L417.9 947.0L430.3 947.0L420.3 954.2L424.1 966.0L414.1 958.7L404.1 966.0L407.9 954.2L398.0 947.0L410.3 947.0ZM410.6 917.6L414.4 929.3L426.8 929.3L416.8 936.6L420.6 948.3L410.6 941.1L400.6 948.3L404.4 936.6L394.4 929.3L406.8 929.3ZM258.9 1083.9L262.7 1095.7L275.1 1095.7L265.1 1102.9L268.9 1114.7L258.9 1107.4L248.9 1114.7L252.8 1102.9L242.8 1095.7L255.1 1095.7ZM358.7 1167.8L362.5 1179.6L374.9 1179.6L364.9 1186.8L368.7 1198.6L358.7 1191.3L348.7 1198.6L352.5 1186.8L342.5 1179.6L354.9 1179.6ZM382.0 1034.2L385.8 1045.9L398.2 1045.9L388.2 1053.2L392.0 1065.0L382.0 1057.7L372.0 1065.0L375.8 1053.2L365.8 1045.9L378.2 1045.9ZM389.8 1057.5L393.6 1069.3L405.9 1069.3L395.9 1076.5L399.7 1088.3L389.8 1081.0L379.8 1088.3L383.6 1076.5L373.6 1069.3L385.9 1069.3ZM335.4 1060.6L339.2 1072.4L351.5 1072.4L341.6 1079.6L345.4 1091.4L335.4 1084.1L325.4 1091.4L329.2 1079.6L319.2 1072.4L331.6 1072.4ZM350.9 1104.1L354.7 1115.9L367.1 1115.9L357.1 1123.1L360.9 1134.9L350.9 1127.6L340.9 1134.9L344.7 1123.1L334.7 1115.9L347.1 1115.9ZM374.2 1153.8L378.0 1165.6L390.4 1165.6L380.4 1172.8L384.2 1184.6L374.2 1177.3L364.2 1184.6L368.0 1172.8L358.1 1165.6L370.4 1165.6ZM394.4 1146.1L398.2 1157.8L410.6 1157.8L400.6 1165.1L404.4 1176.8L394.4 1169.6L384.4 1176.8L388.2 1165.1L378.3 1157.8L390.6 1157.8ZM327.6 1024.9L331.4 1036.6L343.8 1036.6L333.8 1043.9L337.6 1055.6L327.6 1048.4L317.6 1055.6L321.4 1043.9L311.4 1036.6L323.8 1036.6ZM366.5 1018.7L370.3 1030.4L382.6 1030.4L372.6 1037.7L376.4 1049.4L366.5 1042.2L356.5 1049.4L360.3 1037.7L350.3 1030.4L362.6 1030.4ZM516.5 1079.3L520.3 1091.1L532.7 1091.1L522.7 1098.3L526.5 1110.1L516.5 1102.8L506.5 1110.1L510.3 1098.3L500.4 1091.1L512.7 1091.1ZM505.9 1141.1L509.7 1152.9L522.1 1152.9L512.1 1160.1L515.9 1171.9L505.9 1164.6L495.9 1171.9L499.8 1160.1L489.8 1152.9L502.1 1152.9ZM527.1 1208.2L530.9 1220.0L543.3 1220.0L533.3 1227.2L537.1 1239.0L527.1 1231.7L517.1 1239.0L520.9 1227.2L511.0 1220.0L523.3 1220.0ZM541.2 1229.4L545.1 1241.1L557.4 1241.1L547.4 1248.4L551.2 1260.1L541.2 1252.9L531.3 1260.1L535.1 1248.4L525.1 1241.1L537.4 1241.1ZM500.2 1171.6L504.0 1183.3L516.4 1183.3L506.4 1190.6L510.2 1202.3L500.2 1195.1L490.2 1202.3L494.0 1190.6L484.1 1183.3L496.4 1183.3ZM497.0 1197.9L500.8 1209.7L513.1 1209.7L503.1 1216.9L507.0 1228.7L497.0 1221.4L487.0 1228.7L490.8 1216.9L480.8 1209.7L493.1 1209.7ZM434.6 1054.9L438.4 1066.6L450.8 1066.6L440.8 1073.9L444.6 1085.6L434.6 1078.4L424.6 1085.6L428.4 1073.9L418.4 1066.6L430.8 1066.6ZM451.2 1095.6L455.0 1107.4L467.4 1107.4L457.4 1114.6L461.2 1126.4L451.2 1119.1L441.2 1126.4L445.1 1114.6L435.1 1107.4L447.4 1107.4ZM467.9 1180.9L471.7 1192.7L484.1 1192.7L474.1 1199.9L477.9 1211.7L467.9 1204.4L457.9 1211.7L461.8 1199.9L451.8 1192.7L464.1 1192.7ZM408.2 1173.9L412.1 1185.6L424.4 1185.6L414.4 1192.9L418.2 1204.6L408.2 1197.4L398.3 1204.6L402.1 1192.9L392.1 1185.6L404.4 1185.6ZM463.7 1198.9L467.5 1210.7L479.9 1210.7L469.9 1217.9L473.7 1229.7L463.7 1222.4L453.7 1229.7L457.6 1217.9L447.6 1210.7L459.9 1210.7ZM418.2 1103.8L422.0 1115.5L434.4 1115.5L424.4 1122.8L428.2 1134.5L418.2 1127.3L408.2 1134.5L412.0 1122.8L402.0 1115.5L414.4 1115.5ZM415.3 1133.7L419.1 1145.4L431.4 1145.4L421.4 1152.7L425.3 1164.4L415.3 1157.2L405.3 1164.4L409.1 1152.7L399.1 1145.4L411.5 1145.4ZM465.7 1081.3L469.5 1093.1L481.8 1093.1L471.8 1100.3L475.7 1112.1L465.7 1104.8L455.7 1112.1L459.5 1100.3L449.5 1093.1L461.9 1093.1ZM497.3 1134.2L501.1 1146.0L513.4 1146.0L503.4 1153.2L507.3 1165.0L497.3 1157.7L487.3 1165.0L491.1 1153.2L481.1 1146.0L493.4 1146.0ZM408.1 1101.2L411.9 1113.0L424.2 1113.0L414.2 1120.2L418.1 1132.0L408.1 1124.7L398.1 1132.0L401.9 1120.2L391.9 1113.0L404.2 1113.0ZM430.0 1101.7L433.8 1113.4L446.2 1113.4L436.2 1120.7L440.0 1132.4L430.0 1125.2L420.0 1132.4L423.8 1120.7L413.8 1113.4L426.2 1113.4ZM434.8 1123.7L438.7 1135.4L451.0 1135.4L441.0 1142.7L444.8 1154.4L434.8 1147.2L424.9 1154.4L428.7 1142.7L418.7 1135.4L431.0 1135.4ZM414.0 1026.1L417.8 1037.8L430.2 1037.8L420.2 1045.1L424.0 1056.8L414.0 1049.6L404.0 1056.8L407.8 1045.1L397.8 1037.8L410.2 1037.8ZM412.6 1066.5L416.4 1078.3L428.8 1078.3L418.8 1085.5L422.6 1097.3L412.6 1090.0L402.6 1097.3L406.4 1085.5L396.4 1078.3L408.8 1078.3ZM478.0 1164.0L481.9 1175.8L494.2 1175.8L484.2 1183.0L488.0 1194.8L478.0 1187.5L468.0 1194.8L471.9 1183.0L461.9 1175.8L474.2 1175.8ZM503.0 1202.3L506.8 1214.1L519.2 1214.1L509.2 1221.3L513.0 1233.1L503.0 1225.8L493.0 1233.1L496.8 1221.3L486.9 1214.1L499.2 1214.1ZM508.8 1207.8L512.7 1219.5L525.0 1219.5L515.0 1226.8L518.8 1238.5L508.8 1231.3L498.9 1238.5L502.7 1226.8L492.7 1219.5L505.0 1219.5ZM505.7 1023.5L509.5 1035.2L521.9 1035.2L511.9 1042.5L515.7 1054.2L505.7 1047.0L495.7 1054.2L499.5 1042.5L489.5 1035.2L501.9 1035.2ZM413.3 1182.4L417.1 1194.1L429.4 1194.1L419.4 1201.4L423.3 1213.1L413.3 1205.9L403.3 1213.1L407.1 1201.4L397.1 1194.1L409.5 1194.1ZM459.0 1138.4L462.8 1150.1L475.2 1150.1L465.2 1157.4L469.0 1169.1L459.0 1161.9L449.0 1169.1L452.8 1157.4L442.8 1150.1L455.2 1150.1ZM423.5 1118.7L427.3 1130.5L439.7 1130.5L429.7 1137.7L433.5 1149.5L423.5 1142.2L413.5 1149.5L417.3 1137.7L407.3 1130.5L419.7 1130.5ZM446.2 1137.7L450.0 1149.4L462.3 1149.4L452.3 1156.7L456.2 1168.4L446.2 1161.1L436.2 1168.4L440.0 1156.7L430.0 1149.4L442.3 1149.4ZM432.8 1225.8L436.6 1237.5L448.9 1237.5L439.0 1244.8L442.8 1256.5L432.8 1249.3L422.8 1256.5L426.6 1244.8L416.6 1237.5L429.0 1237.5ZM426.7 1190.0L430.5 1201.8L442.8 1201.8L432.9 1209.0L436.7 1220.8L426.7 1213.5L416.7 1220.8L420.5 1209.0L410.5 1201.8L422.9 1201.8ZM503.9 1164.8L507.7 1176.5L520.1 1176.5L510.1 1183.8L513.9 1195.5L503.9 1188.3L493.9 1195.5L497.7 1183.8L487.7 1176.5L500.1 1176.5ZM429.0 1033.8L432.8 1045.5L445.1 1045.5L435.1 1052.8L439.0 1064.5L429.0 1057.3L419.0 1064.5L422.8 1052.8L412.8 1045.5L425.1 1045.5ZM521.5 1231.6L525.3 1243.4L537.6 1243.4L527.7 1250.6L531.5 1262.4L521.5 1255.1L511.5 1262.4L515.3 1250.6L505.3 1243.4L517.7 1243.4ZM418.3 1204.4L422.1 1216.1L434.5 1216.1L424.5 1223.4L428.3 1235.1L418.3 1227.9L408.3 1235.1L412.1 1223.4L402.1 1216.1L414.5 1216.1ZM418.9 1133.3L422.7 1145.0L435.1 1145.0L425.1 1152.3L428.9 1164.0L418.9 1156.7L408.9 1164.0L412.7 1152.3L402.7 1145.0L415.1 1145.0ZM566.0 1254.8L569.8 1266.5L582.1 1266.5L572.1 1273.8L576.0 1285.5L566.0 1278.3L556.0 1285.5L559.8 1273.8L549.8 1266.5L562.1 1266.5ZM590.7 1314.8L594.5 1326.6L606.8 1326.6L596.9 1333.8L600.7 1345.6L590.7 1338.3L580.7 1345.6L584.5 1333.8L574.5 1326.6L586.9 1326.6ZM562.4 1339.5L566.2 1351.3L578.6 1351.3L568.6 1358.5L572.4 1370.3L562.4 1363.0L552.4 1370.3L556.3 1358.5L546.3 1351.3L558.6 1351.3ZM509.5 1240.7L513.3 1252.4L525.6 1252.4L515.6 1259.7L519.5 1271.4L509.5 1264.1L499.5 1271.4L503.3 1259.7L493.3 1252.4L505.6 1252.4ZM498.9 1267.1L502.7 1278.9L515.0 1278.9L505.0 1286.1L508.9 1297.9L498.9 1290.6L488.9 1297.9L492.7 1286.1L482.7 1278.9L495.1 1278.9ZM527.1 1267.1L530.9 1278.9L543.3 1278.9L533.3 1286.1L537.1 1297.9L527.1 1290.6L517.1 1297.9L520.9 1286.1L511.0 1278.9L523.3 1278.9ZM514.8 1311.3L518.6 1323.0L530.9 1323.0L520.9 1330.3L524.8 1342.0L514.8 1334.8L504.8 1342.0L508.6 1330.3L498.6 1323.0L510.9 1323.0ZM541.2 1311.3L545.1 1323.0L557.4 1323.0L547.4 1330.3L551.2 1342.0L541.2 1334.8L531.3 1342.0L535.1 1330.3L525.1 1323.0L537.4 1323.0ZM567.7 1307.7L571.5 1319.5L583.9 1319.5L573.9 1326.8L577.7 1338.5L567.7 1331.2L557.7 1338.5L561.5 1326.8L551.6 1319.5L563.9 1319.5ZM484.7 1231.8L488.6 1243.6L500.9 1243.6L490.9 1250.8L494.7 1262.6L484.7 1255.3L474.8 1262.6L478.6 1250.8L468.6 1243.6L480.9 1243.6ZM453.0 1249.5L456.8 1261.2L469.1 1261.2L459.1 1268.5L463.0 1280.2L453.0 1273.0L443.0 1280.2L446.8 1268.5L436.8 1261.2L449.1 1261.2ZM435.3 1276.0L439.1 1287.7L451.5 1287.7L441.5 1295.0L445.3 1306.7L435.3 1299.5L425.3 1306.7L429.1 1295.0L419.1 1287.7L431.5 1287.7ZM523.6 1284.8L527.4 1296.5L539.8 1296.5L529.8 1303.8L533.6 1315.5L523.6 1308.3L513.6 1315.5L517.4 1303.8L507.4 1296.5L519.8 1296.5ZM550.1 1258.3L553.9 1270.1L566.2 1270.1L556.2 1277.3L560.1 1289.1L550.1 1281.8L540.1 1289.1L543.9 1277.3L533.9 1270.1L546.3 1270.1ZM576.6 1320.1L580.4 1331.9L592.7 1331.9L582.7 1339.1L586.5 1350.9L576.6 1343.6L566.6 1350.9L570.4 1339.1L560.4 1331.9L572.7 1331.9ZM442.6 1030.4L446.4 1042.2L458.8 1042.2L448.8 1049.5L452.6 1061.2L442.6 1053.9L432.6 1061.2L436.4 1049.5L426.4 1042.2L438.8 1042.2ZM436.6 1043.5L440.4 1055.3L452.8 1055.3L442.8 1062.5L446.6 1074.3L436.6 1067.0L426.6 1074.3L430.4 1062.5L420.5 1055.3L432.8 1055.3ZM448.7 1024.1L452.5 1035.9L464.8 1035.9L454.9 1043.1L458.7 1054.9L448.7 1047.6L438.7 1054.9L442.5 1043.1L432.5 1035.9L444.9 1035.9ZM375.1 1031.3L378.9 1043.0L391.2 1043.0L381.2 1050.3L385.1 1062.0L375.1 1054.8L365.1 1062.0L368.9 1050.3L358.9 1043.0L371.3 1043.0ZM390.8 1005.5L394.6 1017.3L406.9 1017.3L396.9 1024.5L400.8 1036.3L390.8 1029.0L380.8 1036.3L384.6 1024.5L374.6 1017.3L386.9 1017.3ZM378.8 1002.7L382.6 1014.4L395.0 1014.4L385.0 1021.7L388.8 1033.4L378.8 1026.1L368.8 1033.4L372.6 1021.7L362.6 1014.4L375.0 1014.4ZM367.8 1119.2L371.6 1131.0L383.9 1131.0L373.9 1138.2L377.8 1150.0L367.8 1142.7L357.8 1150.0L361.6 1138.2L351.6 1131.0L363.9 1131.0ZM466.1 1141.1L470.0 1152.8L482.3 1152.8L472.3 1160.1L476.1 1171.8L466.1 1164.5L456.2 1171.8L460.0 1160.1L450.0 1152.8L462.3 1152.8ZM426.9 1222.2L430.7 1234.0L443.1 1234.0L433.1 1241.2L436.9 1253.0L426.9 1245.7L416.9 1253.0L420.8 1241.2L410.8 1234.0L423.1 1234.0ZM479.0 1206.9L482.9 1218.6L495.2 1218.6L485.2 1225.9L489.0 1237.6L479.0 1230.3L469.1 1237.6L472.9 1225.9L462.9 1218.6L475.2 1218.6ZM503.0 1113.1L506.8 1124.8L519.1 1124.8L509.2 1132.1L513.0 1143.9L503.0 1136.6L493.0 1143.9L496.8 1132.1L486.8 1124.8L499.2 1124.8ZM489.1 1074.8L492.9 1086.6L505.3 1086.6L495.3 1093.8L499.1 1105.6L489.1 1098.3L479.1 1105.6L482.9 1093.8L472.9 1086.6L485.3 1086.6ZM512.6 1232.9L516.4 1244.7L528.7 1244.7L518.7 1252.0L522.5 1263.7L512.6 1256.4L502.6 1263.7L506.4 1252.0L496.4 1244.7L508.7 1244.7ZM452.1 1150.3L455.9 1162.0L468.2 1162.0L458.3 1169.3L462.1 1181.0L452.1 1173.8L442.1 1181.0L445.9 1169.3L435.9 1162.0L448.3 1162.0ZM486.2 1197.5L490.0 1209.2L502.4 1209.2L492.4 1216.5L496.2 1228.2L486.2 1221.0L476.2 1228.2L480.0 1216.5L470.0 1209.2L482.4 1209.2ZM431.2 1231.2L435.0 1243.0L447.4 1243.0L437.4 1250.2L441.2 1262.0L431.2 1254.7L421.2 1262.0L425.0 1250.2L415.0 1243.0L427.4 1243.0ZM434.7 1175.7L438.6 1187.4L450.9 1187.4L440.9 1194.7L444.7 1206.4L434.7 1199.2L424.7 1206.4L428.6 1194.7L418.6 1187.4L430.9 1187.4ZM511.2 1124.6L515.0 1136.4L527.4 1136.4L517.4 1143.6L521.2 1155.4L511.2 1148.1L501.2 1155.4L505.0 1143.6L495.1 1136.4L507.4 1136.4ZM536.3 1306.1L540.1 1317.9L552.5 1317.9L542.5 1325.1L546.3 1336.9L536.3 1329.6L526.3 1336.9L530.1 1325.1L520.1 1317.9L532.5 1317.9ZM550.2 1283.4L554.0 1295.2L566.3 1295.2L556.3 1302.5L560.1 1314.2L550.2 1306.9L540.2 1314.2L544.0 1302.5L534.0 1295.2L546.3 1295.2ZM488.9 1294.2L492.7 1306.0L505.1 1306.0L495.1 1313.2L498.9 1325.0L488.9 1317.7L478.9 1325.0L482.7 1313.2L472.7 1306.0L485.1 1306.0ZM478.3 1263.1L482.2 1274.8L494.5 1274.8L484.5 1282.1L488.3 1293.8L478.3 1286.6L468.4 1293.8L472.2 1282.1L462.2 1274.8L474.5 1274.8ZM515.6 1300.2L519.4 1311.9L531.8 1311.9L521.8 1319.2L525.6 1330.9L515.6 1323.7L505.6 1330.9L509.4 1319.2L499.4 1311.9L511.8 1311.9ZM457.6 1230.0L461.4 1241.8L473.7 1241.8L463.7 1249.0L467.5 1260.8L457.6 1253.5L447.6 1260.8L451.4 1249.0L441.4 1241.8L453.7 1241.8ZM527.5 1316.6L531.4 1328.3L543.7 1328.3L533.7 1335.6L537.5 1347.3L527.5 1340.1L517.6 1347.3L521.4 1335.6L511.4 1328.3L523.7 1328.3ZM532.8 1294.3L536.6 1306.0L549.0 1306.0L539.0 1313.3L542.8 1325.0L532.8 1317.8L522.8 1325.0L526.6 1313.3L516.6 1306.0L529.0 1306.0ZM449.1 1261.3L453.0 1273.1L465.3 1273.1L455.3 1280.3L459.1 1292.1L449.1 1284.8L439.2 1292.1L443.0 1280.3L433.0 1273.1L445.3 1273.1ZM577.2 1302.3L581.0 1314.0L593.4 1314.0L583.4 1321.3L587.2 1333.1L577.2 1325.8L567.2 1333.1L571.0 1321.3L561.0 1314.0L573.4 1314.0ZM570.4 1319.4L574.2 1331.2L586.5 1331.2L576.5 1338.4L580.4 1350.2L570.4 1342.9L560.4 1350.2L564.2 1338.4L554.2 1331.2L566.6 1331.2ZM507.5 1259.9L511.3 1271.6L523.7 1271.6L513.7 1278.9L517.5 1290.6L507.5 1283.3L497.5 1290.6L501.3 1278.9L491.4 1271.6L503.7 1271.6ZM493.4 1298.5L497.2 1310.2L509.6 1310.2L499.6 1317.5L503.4 1329.2L493.4 1322.0L483.4 1329.2L487.2 1317.5L477.2 1310.2L489.6 1310.2ZM546.2 1300.3L550.0 1312.1L562.4 1312.1L552.4 1319.3L556.2 1331.1L546.2 1323.8L536.2 1331.1L540.0 1319.3L530.0 1312.1L542.4 1312.1ZM560.9 1315.7L564.7 1327.5L577.1 1327.5L567.1 1334.7L570.9 1346.5L560.9 1339.2L550.9 1346.5L554.8 1334.7L544.8 1327.5L557.1 1327.5ZM444.4 1232.8L448.3 1244.5L460.6 1244.5L450.6 1251.8L454.4 1263.5L444.4 1256.2L434.4 1263.5L438.3 1251.8L428.3 1244.5L440.6 1244.5ZM489.8 1249.9L493.6 1261.6L506.0 1261.6L496.0 1268.9L499.8 1280.7L489.8 1273.4L479.8 1280.7L483.6 1268.9L473.7 1261.6L486.0 1261.6ZM545.9 1277.9L549.7 1289.7L562.1 1289.7L552.1 1297.0L555.9 1308.7L545.9 1301.4L535.9 1308.7L539.7 1297.0L529.8 1289.7L542.1 1289.7ZM486.8 1231.4L490.6 1243.1L502.9 1243.1L492.9 1250.4L496.8 1262.1L486.8 1254.8L476.8 1262.1L480.6 1250.4L470.6 1243.1L483.0 1243.1ZM489.8 1201.3L493.6 1213.1L505.9 1213.1L495.9 1220.3L499.7 1232.1L489.8 1224.8L479.8 1232.1L483.6 1220.3L473.6 1213.1L485.9 1213.1ZM369.9 1150.1L373.7 1161.8L386.1 1161.8L376.1 1169.1L379.9 1180.8L369.9 1173.6L359.9 1180.8L363.7 1169.1L353.7 1161.8L366.1 1161.8ZM389.7 1156.4L393.5 1168.1L405.9 1168.1L395.9 1175.4L399.7 1187.2L389.7 1179.9L379.7 1187.2L383.5 1175.4L373.5 1168.1L385.9 1168.1ZM473.3 1144.3L477.2 1156.0L489.5 1156.0L479.5 1163.3L483.3 1175.0L473.3 1167.8L463.3 1175.0L467.2 1163.3L457.2 1156.0L469.5 1156.0ZM398.2 1198.4L402.0 1210.1L414.3 1210.1L404.3 1217.4L408.2 1229.1L398.2 1221.9L388.2 1229.1L392.0 1217.4L382.0 1210.1L394.3 1210.1ZM452.3 1219.7L456.1 1231.4L468.5 1231.4L458.5 1238.7L462.3 1250.4L452.3 1243.2L442.3 1250.4L446.1 1238.7L436.1 1231.4L448.5 1231.4ZM452.1 1143.9L455.9 1155.6L468.3 1155.6L458.3 1162.9L462.1 1174.6L452.1 1167.4L442.1 1174.6L445.9 1162.9L435.9 1155.6L448.3 1155.6ZM350.1 1014.4L353.9 1026.1L366.3 1026.1L356.3 1033.4L360.1 1045.1L350.1 1037.9L340.1 1045.1L343.9 1033.4L333.9 1026.1L346.3 1026.1ZM434.0 1038.2L437.8 1050.0L450.2 1050.0L440.2 1057.2L444.0 1069.0L434.0 1061.7L424.0 1069.0L427.8 1057.2L417.8 1050.0L430.2 1050.0ZM394.9 998.0L398.8 1009.7L411.1 1009.7L401.1 1017.0L404.9 1028.7L394.9 1021.4L385.0 1028.7L388.8 1017.0L378.8 1009.7L391.1 1009.7ZM362.3 1028.3L366.1 1040.0L378.5 1040.0L368.5 1047.3L372.3 1059.0L362.3 1051.8L352.3 1059.0L356.2 1047.3L346.2 1040.0L358.5 1040.0ZM406.1 984.7L409.9 996.4L422.3 996.4L412.3 1003.7L416.1 1015.4L406.1 1008.2L396.1 1015.4L399.9 1003.7L390.0 996.4L402.3 996.4Z" stroke="#77AC30" stroke-width="1.75" fill="none" stroke-linejoin="miter"/>
<path d="M289.5 915.9L305.1 936.9L289.5 957.9L273.9 936.9ZM390.5 895.7L406.1 916.7L390.5 937.7L374.9 916.7ZM377.3 903.4L392.9 924.4L377.3 945.4L361.7 924.4ZM370.3 932.9L385.9 953.9L370.3 974.9L354.7 953.9ZM333.0 950.8L348.6 971.8L333.0 992.8L317.4 971.8ZM321.4 984.2L337.0 1005.2L321.4 1026.2L305.8 1005.2ZM393.6 960.9L409.2 981.9L393.6 1002.9L378.0 981.9ZM393.6 978.0L409.2 999.0L393.6 1020.0L378.0 999.0ZM350.9 1001.3L366.5 1022.3L350.9 1043.3L335.3 1022.3ZM440.6 873.0L456.2 894.0L440.6 915.0L425.0 894.0ZM582.7 913.6L598.3 934.6L582.7 955.6L567.1 934.6ZM513.0 921.5L528.6 942.5L513.0 963.5L497.4 942.5ZM517.4 925.9L533.0 946.9L517.4 967.9L501.8 946.9ZM537.7 933.0L553.3 954.0L537.7 975.0L522.1 954.0ZM558.9 939.2L574.5 960.2L558.9 981.2L543.3 960.2ZM431.8 925.9L447.4 946.9L431.8 967.9L416.2 946.9ZM435.3 931.2L450.9 952.2L435.3 973.2L419.7 952.2ZM477.7 948.9L493.3 969.9L477.7 990.9L462.1 969.9ZM498.9 948.9L514.5 969.9L498.9 990.9L483.3 969.9ZM546.5 948.9L562.1 969.9L546.5 990.9L530.9 969.9ZM534.2 993.0L549.8 1014.0L534.2 1035.0L518.6 1014.0ZM456.5 986.0L472.1 1007.0L456.5 1028.0L440.9 1007.0ZM403.5 980.7L419.1 1001.7L403.5 1022.7L387.9 1001.7ZM403.5 903.0L419.1 924.0L403.5 945.0L387.9 924.0ZM486.5 993.0L502.1 1014.0L486.5 1035.0L470.9 1014.0ZM514.8 1000.1L530.4 1021.1L514.8 1042.1L499.2 1021.1ZM211.1 1111.0L226.7 1132.0L211.1 1153.0L195.5 1132.0ZM237.2 1101.7L252.8 1122.7L237.2 1143.7L221.6 1122.7ZM279.4 1058.2L295.0 1079.2L279.4 1100.2L263.8 1079.2ZM306.6 1028.6L322.2 1049.6L306.6 1070.6L291.0 1049.6ZM326.1 1069.0L341.7 1090.0L326.1 1111.0L310.5 1090.0ZM320.6 1099.3L336.2 1120.3L320.6 1141.3L305.0 1120.3ZM316.4 1129.6L332.0 1150.6L316.4 1171.6L300.8 1150.6ZM308.2 1163.0L323.8 1184.0L308.2 1205.0L292.6 1184.0ZM343.9 1149.8L359.5 1170.8L343.9 1191.8L328.3 1170.8ZM361.8 1137.4L377.4 1158.4L361.8 1179.4L346.2 1158.4ZM381.2 1196.5L396.8 1217.5L381.2 1238.5L365.6 1217.5ZM391.3 1204.2L406.9 1225.2L391.3 1246.2L375.7 1225.2ZM350.9 1044.2L366.5 1065.2L350.9 1086.2L335.3 1065.2ZM366.5 1059.7L382.1 1080.7L366.5 1101.7L350.9 1080.7ZM378.9 1033.3L394.5 1054.3L378.9 1075.3L363.3 1054.3ZM389.8 1079.9L405.4 1100.9L389.8 1121.9L374.2 1100.9ZM335.4 1106.3L351.0 1127.3L335.4 1148.3L319.8 1127.3ZM363.3 1111.0L378.9 1132.0L363.3 1153.0L347.7 1132.0ZM382.0 1118.8L397.6 1139.8L382.0 1160.8L366.4 1139.8ZM397.5 1157.6L413.1 1178.6L397.5 1199.6L381.9 1178.6ZM394.4 1180.9L410.0 1201.9L394.4 1222.9L378.8 1201.9ZM372.7 1087.7L388.3 1108.7L372.7 1129.7L357.1 1108.7ZM343.1 1025.5L358.7 1046.5L343.1 1067.5L327.5 1046.5ZM555.4 1177.7L571.0 1198.7L555.4 1219.7L539.8 1198.7ZM544.8 1209.5L560.4 1230.5L544.8 1251.5L529.2 1230.5ZM516.5 1144.2L532.1 1165.2L516.5 1186.2L500.9 1165.2ZM509.5 1066.5L525.1 1087.5L509.5 1108.5L493.9 1087.5ZM491.8 1077.1L507.4 1098.1L491.8 1119.1L476.2 1098.1ZM488.3 1093.0L503.9 1114.0L488.3 1135.0L472.7 1114.0ZM520.1 1024.1L535.7 1045.1L520.1 1066.1L504.5 1045.1ZM513.0 1033.0L528.6 1054.0L513.0 1075.0L497.4 1054.0ZM470.6 1101.8L486.2 1122.8L470.6 1143.8L455.0 1122.8ZM477.7 1108.9L493.3 1129.9L477.7 1150.9L462.1 1129.9ZM483.0 1115.9L498.6 1136.9L483.0 1157.9L467.4 1136.9ZM488.3 1123.0L503.9 1144.0L488.3 1165.0L472.7 1144.0ZM475.9 1124.8L491.5 1145.8L475.9 1166.8L460.3 1145.8ZM467.1 1133.6L482.7 1154.6L467.1 1175.6L451.5 1154.6ZM440.4 1054.6L456.0 1075.6L440.4 1096.6L424.8 1075.6ZM449.9 1163.6L465.5 1184.6L449.9 1205.6L434.3 1184.6ZM406.4 1132.3L422.0 1153.3L406.4 1174.3L390.8 1153.3ZM482.1 1119.7L497.7 1140.7L482.1 1161.7L466.5 1140.7ZM460.9 1067.3L476.5 1088.3L460.9 1109.3L445.3 1088.3ZM405.8 1205.7L421.4 1226.7L405.8 1247.7L390.2 1226.7ZM434.9 1130.9L450.5 1151.9L434.9 1172.9L419.3 1151.9ZM502.8 1218.6L518.4 1239.6L502.8 1260.6L487.2 1239.6ZM473.7 1165.7L489.3 1186.7L473.7 1207.7L458.1 1186.7ZM438.6 1179.1L454.2 1200.1L438.6 1221.1L423.0 1200.1ZM439.4 1053.7L455.0 1074.7L439.4 1095.7L423.8 1074.7ZM405.3 1014.0L420.9 1035.0L405.3 1056.0L389.7 1035.0ZM402.3 1186.4L417.9 1207.4L402.3 1228.4L386.7 1207.4ZM418.2 1151.4L433.8 1172.4L418.2 1193.4L402.6 1172.4ZM505.0 1041.3L520.6 1062.3L505.0 1083.3L489.4 1062.3ZM453.8 1098.2L469.4 1119.2L453.8 1140.2L438.2 1119.2ZM419.5 1052.9L435.1 1073.9L419.5 1094.9L403.9 1073.9ZM447.4 1127.5L463.0 1148.5L447.4 1169.5L431.8 1148.5ZM492.2 1099.9L507.8 1120.9L492.2 1141.9L476.6 1120.9ZM416.7 1130.2L432.3 1151.2L416.7 1172.2L401.1 1151.2ZM488.1 1020.7L503.7 1041.7L488.1 1062.7L472.5 1041.7ZM467.5 1129.4L483.1 1150.4L467.5 1171.4L451.9 1150.4ZM475.8 1028.8L491.4 1049.8L475.8 1070.8L460.2 1049.8ZM447.3 1162.3L462.9 1183.3L447.3 1204.3L431.7 1183.3ZM410.8 1132.1L426.4 1153.1L410.8 1174.1L395.2 1153.1ZM438.5 1198.9L454.1 1219.9L438.5 1240.9L422.9 1219.9ZM402.1 1165.1L417.7 1186.1L402.1 1207.1L386.5 1186.1ZM413.9 1078.6L429.5 1099.6L413.9 1120.6L398.3 1099.6ZM448.5 1176.3L464.1 1197.3L448.5 1218.3L432.9 1197.3ZM412.7 1216.0L428.3 1237.0L412.7 1258.0L397.1 1237.0ZM403.0 1217.6L418.6 1238.6L403.0 1259.6L387.4 1238.6ZM430.6 1022.1L446.2 1043.1L430.6 1064.1L415.0 1043.1ZM448.7 1218.4L464.3 1239.4L448.7 1260.4L433.1 1239.4ZM406.0 1186.6L421.6 1207.6L406.0 1228.6L390.4 1207.6ZM423.8 1139.3L439.4 1160.3L423.8 1181.3L408.2 1160.3ZM519.1 1023.8L534.7 1044.8L519.1 1065.8L503.5 1044.8ZM469.2 1159.2L484.8 1180.2L469.2 1201.2L453.6 1180.2ZM410.7 1176.1L426.3 1197.1L410.7 1218.1L395.1 1197.1ZM453.4 1014.9L469.0 1035.9L453.4 1056.9L437.8 1035.9ZM408.0 1117.9L423.6 1138.9L408.0 1159.9L392.4 1138.9ZM425.4 1130.6L441.0 1151.6L425.4 1172.6L409.8 1151.6ZM431.9 1138.2L447.5 1159.2L431.9 1180.2L416.3 1159.2ZM480.4 1172.6L496.0 1193.6L480.4 1214.6L464.8 1193.6ZM423.7 1013.4L439.3 1034.4L423.7 1055.4L408.1 1034.4ZM503.7 1027.8L519.3 1048.8L503.7 1069.8L488.1 1048.8ZM408.2 1205.4L423.8 1226.4L408.2 1247.4L392.6 1226.4ZM479.7 1180.8L495.3 1201.8L479.7 1222.8L464.1 1201.8ZM319.8 1246.1L335.4 1267.1L319.8 1288.1L304.2 1267.1ZM347.8 1256.3L363.4 1277.3L347.8 1298.3L332.2 1277.3ZM357.1 1259.7L372.7 1280.7L357.1 1301.7L341.5 1280.7ZM368.1 1269.8L383.7 1290.8L368.1 1311.8L352.5 1290.8ZM390.2 1257.1L405.8 1278.1L390.2 1299.1L374.6 1278.1ZM417.3 1283.4L432.9 1304.4L417.3 1325.4L401.7 1304.4ZM405.4 1235.9L421.0 1256.9L405.4 1277.9L389.8 1256.9ZM417.7 1284.3L433.3 1305.3L417.7 1326.3L402.1 1305.3ZM461.8 1307.3L477.4 1328.3L461.8 1349.3L446.2 1328.3ZM454.7 1346.1L470.3 1367.1L454.7 1388.1L439.1 1367.1ZM445.0 1360.2L460.6 1381.2L445.0 1402.2L429.4 1381.2ZM518.3 1339.1L533.9 1360.1L518.3 1381.1L502.7 1360.1ZM574.8 1347.9L590.4 1368.9L574.8 1389.9L559.2 1368.9ZM566.0 1261.4L581.6 1282.4L566.0 1303.4L550.4 1282.4ZM495.3 1317.9L510.9 1338.9L495.3 1359.9L479.7 1338.9ZM483.0 1303.7L498.6 1324.7L483.0 1345.7L467.4 1324.7ZM498.9 1293.2L514.5 1314.2L498.9 1335.2L483.3 1314.2ZM470.6 1293.2L486.2 1314.2L470.6 1335.2L455.0 1314.2ZM430.0 1275.5L445.6 1296.5L430.0 1317.5L414.4 1296.5ZM410.6 1254.3L426.2 1275.3L410.6 1296.3L395.0 1275.3ZM440.6 1242.0L456.2 1263.0L440.6 1284.0L425.0 1263.0ZM381.0 1128.9L396.6 1149.9L381.0 1170.9L365.4 1149.9ZM348.7 1153.1L364.3 1174.1L348.7 1195.1L333.1 1174.1ZM368.0 1066.3L383.6 1087.3L368.0 1108.3L352.4 1087.3ZM368.7 1090.1L384.3 1111.1L368.7 1132.1L353.1 1111.1ZM378.0 1149.8L393.6 1170.8L378.0 1191.8L362.4 1170.8ZM354.0 1073.6L369.6 1094.6L354.0 1115.6L338.4 1094.6ZM376.8 1082.4L392.4 1103.4L376.8 1124.4L361.2 1103.4ZM406.4 1105.0L422.0 1126.0L406.4 1147.0L390.8 1126.0ZM432.3 1127.2L447.9 1148.2L432.3 1169.2L416.7 1148.2ZM472.0 1131.1L487.6 1152.1L472.0 1173.1L456.4 1152.1ZM513.1 1119.6L528.7 1140.6L513.1 1161.6L497.5 1140.6ZM511.5 1205.2L527.1 1226.2L511.5 1247.2L495.9 1226.2ZM413.1 1076.2L428.7 1097.2L413.1 1118.2L397.5 1097.2ZM442.5 1111.0L458.1 1132.0L442.5 1153.0L426.9 1132.0ZM482.2 1089.5L497.8 1110.5L482.2 1131.5L466.6 1110.5ZM473.1 1210.3L488.7 1231.3L473.1 1252.3L457.5 1231.3ZM446.5 1096.5L462.1 1117.5L446.5 1138.5L430.9 1117.5ZM497.0 1168.6L512.6 1189.6L497.0 1210.6L481.4 1189.6ZM447.0 1172.7L462.6 1193.7L447.0 1214.7L431.4 1193.7ZM466.8 1090.3L482.4 1111.3L466.8 1132.3L451.2 1111.3ZM444.9 1151.2L460.5 1172.2L444.9 1193.2L429.3 1172.2ZM417.7 1193.2L433.3 1214.2L417.7 1235.2L402.1 1214.2ZM453.3 1140.4L468.9 1161.4L453.3 1182.4L437.7 1161.4ZM461.1 1162.1L476.7 1183.1L461.1 1204.1L445.5 1183.1ZM502.3 1225.0L517.9 1246.0L502.3 1267.0L486.7 1246.0ZM557.6 1290.3L573.2 1311.3L557.6 1332.3L542.0 1311.3ZM557.7 1328.9L573.3 1349.9L557.7 1370.9L542.1 1349.9ZM440.1 1221.7L455.7 1242.7L440.1 1263.7L424.5 1242.7ZM498.8 1225.4L514.4 1246.4L498.8 1267.4L483.2 1246.4ZM564.7 1333.9L580.3 1354.9L564.7 1375.9L549.1 1354.9ZM544.7 1266.1L560.3 1287.1L544.7 1308.1L529.1 1287.1ZM556.9 1295.5L572.5 1316.5L556.9 1337.5L541.3 1316.5ZM434.7 1229.0L450.3 1250.0L434.7 1271.0L419.1 1250.0ZM459.3 1148.4L474.9 1169.4L459.3 1190.4L443.7 1169.4ZM426.9 1141.1L442.5 1162.1L426.9 1183.1L411.3 1162.1ZM515.2 1168.0L530.8 1189.0L515.2 1210.0L499.6 1189.0ZM415.5 1202.0L431.1 1223.0L415.5 1244.0L399.9 1223.0ZM498.2 1133.8L513.8 1154.8L498.2 1175.8L482.6 1154.8ZM402.6 996.5L418.2 1017.5L402.6 1038.5L387.0 1017.5ZM349.3 1106.0L364.9 1127.0L349.3 1148.0L333.7 1127.0ZM389.5 1119.8L405.1 1140.8L389.5 1161.8L373.9 1140.8ZM331.8 1063.0L347.4 1084.0L331.8 1105.0L316.2 1084.0ZM310.1 1070.4L325.7 1091.4L310.1 1112.4L294.5 1091.4ZM334.7 1091.4L350.3 1112.4L334.7 1133.4L319.1 1112.4ZM321.6 1049.5L337.2 1070.5L321.6 1091.5L306.0 1070.5ZM327.1 1007.2L342.7 1028.2L327.1 1049.2L311.5 1028.2ZM321.1 990.3L336.7 1011.3L321.1 1032.3L305.5 1011.3ZM328.4 1087.5L344.0 1108.5L328.4 1129.5L312.8 1108.5Z" stroke="#000000" stroke-width="1.75" fill="none"/>
<path d="M846.6 1211.1h21.6M857.4 1200.3v21.6M849.7 1203.5l15.3 15.3M849.7 1218.8l15.3 -15.3M879.1 1229.5h21.6M889.9 1218.7v21.6M882.2 1221.9l15.3 15.3M882.2 1237.1l15.3 -15.3M931.3 1177.2h21.6M942.1 1166.4v21.6M934.5 1169.6l15.3 15.3M934.5 1184.9l15.3 -15.3M938.4 1180.1h21.6M949.2 1169.3v21.6M941.5 1172.4l15.3 15.3M941.5 1187.7l15.3 -15.3M934.1 1222.4h21.6M944.9 1211.6v21.6M937.3 1214.8l15.3 15.3M937.3 1230.1l15.3 -15.3M945.4 1206.9h21.6M956.2 1196.1v21.6M948.6 1199.3l15.3 15.3M948.6 1214.5l15.3 -15.3M959.6 1215.4h21.6M970.4 1204.6v21.6M962.7 1207.7l15.3 15.3M962.7 1223.0l15.3 -15.3M970.9 1208.3h21.6M981.7 1197.5v21.6M974.0 1200.7l15.3 15.3M974.0 1215.9l15.3 -15.3M987.8 1208.3h21.6M998.6 1197.5v21.6M991.0 1200.7l15.3 15.3M991.0 1215.9l15.3 -15.3M973.7 1229.5h21.6M984.5 1218.7v21.6M976.9 1221.9l15.3 15.3M976.9 1237.1l15.3 -15.3M994.9 1187.1h21.6M1005.7 1176.3v21.6M998.0 1179.5l15.3 15.3M998.0 1194.8l15.3 -15.3M999.1 1201.2h21.6M1009.9 1190.4v21.6M1002.3 1193.6l15.3 15.3M1002.3 1208.9l15.3 -15.3M924.3 1243.6h21.6M935.1 1232.8v21.6M927.4 1236.0l15.3 15.3M927.4 1251.3l15.3 -15.3M941.2 1250.7h21.6M952.0 1239.9v21.6M944.4 1243.0l15.3 15.3M944.4 1258.3l15.3 -15.3M896.0 1254.9h21.6M906.8 1244.1v21.6M899.2 1247.3l15.3 15.3M899.2 1262.6l15.3 -15.3M874.8 1253.5h21.6M885.6 1242.7v21.6M878.0 1245.9l15.3 15.3M878.0 1261.1l15.3 -15.3M856.5 1253.5h21.6M867.3 1242.7v21.6M859.6 1245.9l15.3 15.3M859.6 1261.1l15.3 -15.3M945.4 1158.9h21.6M956.2 1148.1v21.6M948.6 1151.2l15.3 15.3M948.6 1166.5l15.3 -15.3M994.9 1170.2h21.6M1005.7 1159.4v21.6M998.0 1162.5l15.3 15.3M998.0 1177.8l15.3 -15.3M910.1 1247.9h21.6M920.9 1237.1v21.6M913.3 1240.2l15.3 15.3M913.3 1255.5l15.3 -15.3M855.0 1298.1h21.6M865.8 1287.3v21.6M858.2 1290.5l15.3 15.3M858.2 1305.8l15.3 -15.3M863.5 1289.7h21.6M874.3 1278.9v21.6M866.7 1282.0l15.3 15.3M866.7 1297.3l15.3 -15.3M879.1 1299.5h21.6M889.9 1288.7v21.6M882.2 1291.9l15.3 15.3M882.2 1307.2l15.3 -15.3M880.5 1278.4h21.6M891.3 1267.6v21.6M883.6 1270.7l15.3 15.3M883.6 1286.0l15.3 -15.3M872.0 1271.3h21.6M882.8 1260.5v21.6M875.2 1263.7l15.3 15.3M875.2 1278.9l15.3 -15.3M888.9 1269.9h21.6M899.7 1259.1v21.6M892.1 1262.3l15.3 15.3M892.1 1277.5l15.3 -15.3M903.1 1272.7h21.6M913.9 1261.9v21.6M906.2 1265.1l15.3 15.3M906.2 1280.3l15.3 -15.3M850.8 1262.8h21.6M861.6 1252.0v21.6M854.0 1255.2l15.3 15.3M854.0 1270.5l15.3 -15.3M1145.4 1112.3h21.6M1156.2 1101.5v21.6M1148.6 1104.7l15.3 15.3M1148.6 1120.0l15.3 -15.3M1175.1 1115.1h21.6M1185.9 1104.3v21.6M1178.3 1107.5l15.3 15.3M1178.3 1122.8l15.3 -15.3M1201.9 1120.8h21.6M1212.7 1110.0v21.6M1205.1 1113.2l15.3 15.3M1205.1 1128.4l15.3 -15.3M1182.2 1075.6h21.6M1193.0 1064.8v21.6M1185.3 1068.0l15.3 15.3M1185.3 1083.2l15.3 -15.3M1199.1 1095.4h21.6M1209.9 1084.6v21.6M1202.3 1087.7l15.3 15.3M1202.3 1103.0l15.3 -15.3M1173.7 1031.8h21.6M1184.5 1021.0v21.6M1176.9 1024.2l15.3 15.3M1176.9 1039.4l15.3 -15.3M1187.8 1038.9h21.6M1198.6 1028.1v21.6M1191.0 1031.2l15.3 15.3M1191.0 1046.5l15.3 -15.3M1194.9 1017.7h21.6M1205.7 1006.9v21.6M1198.0 1010.0l15.3 15.3M1198.0 1025.3l15.3 -15.3M1152.5 1006.4h21.6M1163.3 995.6v21.6M1155.7 998.7l15.3 15.3M1155.7 1014.0l15.3 -15.3M1166.6 1055.8h21.6M1177.4 1045.0v21.6M1169.8 1048.2l15.3 15.3M1169.8 1063.5l15.3 -15.3M1145.4 1067.1h21.6M1156.2 1056.3v21.6M1148.6 1059.5l15.3 15.3M1148.6 1074.8l15.3 -15.3M1131.3 1074.2h21.6M1142.1 1063.4v21.6M1134.5 1066.5l15.3 15.3M1134.5 1081.8l15.3 -15.3M1117.2 1060.1h21.6M1128.0 1049.3v21.6M1120.4 1052.4l15.3 15.3M1120.4 1067.7l15.3 -15.3M1103.1 1038.9h21.6M1113.9 1028.1v21.6M1106.2 1031.2l15.3 15.3M1106.2 1046.5l15.3 -15.3M1088.9 1045.9h21.6M1099.7 1035.1v21.6M1092.1 1038.3l15.3 15.3M1092.1 1053.6l15.3 -15.3M1060.7 1038.9h21.6M1071.5 1028.1v21.6M1063.9 1031.2l15.3 15.3M1063.9 1046.5l15.3 -15.3M1032.4 1074.2h21.6M1043.2 1063.4v21.6M1035.6 1066.5l15.3 15.3M1035.6 1081.8l15.3 -15.3M1081.9 1127.9h21.6M1092.7 1117.1v21.6M1085.0 1120.2l15.3 15.3M1085.0 1135.5l15.3 -15.3M1096.0 1133.5h21.6M1106.8 1122.7v21.6M1099.2 1125.9l15.3 15.3M1099.2 1141.1l15.3 -15.3M1072.0 1127.9h21.6M1082.8 1117.1v21.6M1075.2 1120.2l15.3 15.3M1075.2 1135.5l15.3 -15.3M1152.5 1095.4h21.6M1163.3 1084.6v21.6M1155.7 1087.7l15.3 15.3M1155.7 1103.0l15.3 -15.3M1032.4 1183.8h21.6M1043.2 1173.0v21.6M1035.6 1176.1l15.3 15.3M1035.6 1191.4l15.3 -15.3M1007.0 1202.1h21.6M1017.8 1191.3v21.6M1010.2 1194.5l15.3 15.3M1010.2 1209.8l15.3 -15.3M1025.4 1155.5h21.6M1036.2 1144.7v21.6M1028.5 1147.9l15.3 15.3M1028.5 1163.2l15.3 -15.3M1097.4 1142.8h21.6M1108.2 1132.0v21.6M1100.6 1135.2l15.3 15.3M1100.6 1150.5l15.3 -15.3M1273.0 966.9h21.6M1283.8 956.1v21.6M1276.2 959.2l15.3 15.3M1276.2 974.5l15.3 -15.3M1234.2 1000.1h21.6M1245.0 989.3v21.6M1237.3 992.4l15.3 15.3M1237.3 1007.7l15.3 -15.3M1258.2 997.2h21.6M1269.0 986.4v21.6M1261.3 989.6l15.3 15.3M1261.3 1004.9l15.3 -15.3M1255.4 1019.8h21.6M1266.2 1009.0v21.6M1258.5 1012.2l15.3 15.3M1258.5 1027.5l15.3 -15.3M1244.1 1015.6h21.6M1254.9 1004.8v21.6M1247.2 1008.0l15.3 15.3M1247.2 1023.2l15.3 -15.3M1215.8 987.3h21.6M1226.6 976.5v21.6M1219.0 979.7l15.3 15.3M1219.0 995.0l15.3 -15.3M1204.5 1007.1h21.6M1215.3 996.3v21.6M1207.7 999.5l15.3 15.3M1207.7 1014.8l15.3 -15.3M1222.9 1028.3h21.6M1233.7 1017.5v21.6M1226.0 1020.7l15.3 15.3M1226.0 1035.9l15.3 -15.3M1211.6 1056.6h21.6M1222.4 1045.8v21.6M1214.7 1048.9l15.3 15.3M1214.7 1064.2l15.3 -15.3M1225.7 1063.6h21.6M1236.5 1052.8v21.6M1228.9 1056.0l15.3 15.3M1228.9 1071.3l15.3 -15.3M965.8 1182.1h21.6M976.6 1171.3v21.6M969.0 1174.5l15.3 15.3M969.0 1189.8l15.3 -15.3M878.8 1178.1h21.6M889.6 1167.3v21.6M881.9 1170.5l15.3 15.3M881.9 1185.8l15.3 -15.3M851.4 1244.4h21.6M862.2 1233.6v21.6M854.5 1236.8l15.3 15.3M854.5 1252.1l15.3 -15.3M884.5 1196.2h21.6M895.3 1185.4v21.6M887.6 1188.6l15.3 15.3M887.6 1203.9l15.3 -15.3M897.8 1184.0h21.6M908.6 1173.2v21.6M901.0 1176.3l15.3 15.3M901.0 1191.6l15.3 -15.3M923.0 1178.3h21.6M933.8 1167.5v21.6M926.2 1170.7l15.3 15.3M926.2 1186.0l15.3 -15.3M837.1 1240.3h21.6M847.9 1229.5v21.6M840.3 1232.6l15.3 15.3M840.3 1247.9l15.3 -15.3M921.9 1183.7h21.6M932.7 1172.9v21.6M925.1 1176.1l15.3 15.3M925.1 1191.3l15.3 -15.3M889.7 1193.1h21.6M900.5 1182.3v21.6M892.9 1185.5l15.3 15.3M892.9 1200.7l15.3 -15.3M879.6 1215.4h21.6M890.4 1204.6v21.6M882.8 1207.8l15.3 15.3M882.8 1223.1l15.3 -15.3M1023.9 1124.8h21.6M1034.7 1114.0v21.6M1027.0 1117.2l15.3 15.3M1027.0 1132.5l15.3 -15.3M912.3 1171.0h21.6M923.1 1160.2v21.6M915.4 1163.3l15.3 15.3M915.4 1178.6l15.3 -15.3M901.2 1229.7h21.6M912.0 1218.9v21.6M904.3 1222.0l15.3 15.3M904.3 1237.3l15.3 -15.3M895.5 1184.2h21.6M906.3 1173.4v21.6M898.6 1176.6l15.3 15.3M898.6 1191.8l15.3 -15.3M1007.7 1139.6h21.6M1018.5 1128.8v21.6M1010.9 1131.9l15.3 15.3M1010.9 1147.2l15.3 -15.3M990.0 1158.1h21.6M1000.8 1147.3v21.6M993.2 1150.5l15.3 15.3M993.2 1165.7l15.3 -15.3M914.1 1172.1h21.6M924.9 1161.3v21.6M917.3 1164.4l15.3 15.3M917.3 1179.7l15.3 -15.3M983.9 1166.1h21.6M994.7 1155.3v21.6M987.1 1158.5l15.3 15.3M987.1 1173.7l15.3 -15.3M878.7 1198.8h21.6M889.5 1188.0v21.6M881.9 1191.2l15.3 15.3M881.9 1206.5l15.3 -15.3M949.3 1237.6h21.6M960.1 1226.8v21.6M952.5 1230.0l15.3 15.3M952.5 1245.3l15.3 -15.3M935.3 1250.7h21.6M946.1 1239.9v21.6M938.5 1243.0l15.3 15.3M938.5 1258.3l15.3 -15.3M954.0 1237.0h21.6M964.8 1226.2v21.6M957.2 1229.4l15.3 15.3M957.2 1244.6l15.3 -15.3M936.4 1234.3h21.6M947.2 1223.5v21.6M939.5 1226.6l15.3 15.3M939.5 1241.9l15.3 -15.3M906.1 1221.8h21.6M916.9 1211.0v21.6M909.3 1214.2l15.3 15.3M909.3 1229.4l15.3 -15.3M967.6 1236.4h21.6M978.4 1225.6v21.6M970.8 1228.8l15.3 15.3M970.8 1244.1l15.3 -15.3M989.3 1204.1h21.6M1000.1 1193.3v21.6M992.5 1196.4l15.3 15.3M992.5 1211.7l15.3 -15.3M987.9 1204.9h21.6M998.7 1194.1v21.6M991.0 1197.2l15.3 15.3M991.0 1212.5l15.3 -15.3M977.8 1199.9h21.6M988.6 1189.1v21.6M980.9 1192.3l15.3 15.3M980.9 1207.6l15.3 -15.3M903.1 1197.4h21.6M913.9 1186.6v21.6M906.3 1189.8l15.3 15.3M906.3 1205.1l15.3 -15.3M982.7 1213.8h21.6M993.5 1203.0v21.6M985.8 1206.1l15.3 15.3M985.8 1221.4l15.3 -15.3M920.8 1223.7h21.6M931.6 1212.9v21.6M924.0 1216.0l15.3 15.3M924.0 1231.3l15.3 -15.3M946.2 1195.6h21.6M957.0 1184.8v21.6M949.4 1188.0l15.3 15.3M949.4 1203.3l15.3 -15.3M952.0 1211.7h21.6M962.8 1200.9v21.6M955.1 1204.0l15.3 15.3M955.1 1219.3l15.3 -15.3M970.7 1196.1h21.6M981.5 1185.3v21.6M973.9 1188.4l15.3 15.3M973.9 1203.7l15.3 -15.3M926.7 1224.3h21.6M937.5 1213.5v21.6M929.9 1216.7l15.3 15.3M929.9 1231.9l15.3 -15.3M952.1 1225.2h21.6M962.9 1214.4v21.6M955.2 1217.6l15.3 15.3M955.2 1232.8l15.3 -15.3M927.2 1225.4h21.6M938.0 1214.6v21.6M930.3 1217.8l15.3 15.3M930.3 1233.1l15.3 -15.3M896.8 1198.0h21.6M907.6 1187.2v21.6M900.0 1190.3l15.3 15.3M900.0 1205.6l15.3 -15.3M927.1 1233.6h21.6M937.9 1222.8v21.6M930.2 1226.0l15.3 15.3M930.2 1241.3l15.3 -15.3M1060.1 1145.8h21.6M1070.9 1135.0v21.6M1063.3 1138.1l15.3 15.3M1063.3 1153.4l15.3 -15.3M1088.7 1081.6h21.6M1099.5 1070.8v21.6M1091.9 1073.9l15.3 15.3M1091.9 1089.2l15.3 -15.3M1026.4 1067.1h21.6M1037.2 1056.3v21.6M1029.6 1059.4l15.3 15.3M1029.6 1074.7l15.3 -15.3M1043.0 1126.6h21.6M1053.8 1115.8v21.6M1046.2 1118.9l15.3 15.3M1046.2 1134.2l15.3 -15.3M1041.7 1054.0h21.6M1052.5 1043.2v21.6M1044.9 1046.4l15.3 15.3M1044.9 1061.6l15.3 -15.3M1199.6 1003.8h21.6M1210.4 993.0v21.6M1202.7 996.2l15.3 15.3M1202.7 1011.5l15.3 -15.3M1165.9 998.8h21.6M1176.7 988.0v21.6M1169.1 991.2l15.3 15.3M1169.1 1006.5l15.3 -15.3M1233.3 970.5h21.6M1244.1 959.7v21.6M1236.5 962.9l15.3 15.3M1236.5 978.1l15.3 -15.3M1184.3 1015.3h21.6M1195.1 1004.5v21.6M1187.5 1007.7l15.3 15.3M1187.5 1022.9l15.3 -15.3M1215.1 1007.6h21.6M1225.9 996.8v21.6M1218.2 999.9l15.3 15.3M1218.2 1015.2l15.3 -15.3M1201.3 1064.8h21.6M1212.1 1054.0v21.6M1204.5 1057.2l15.3 15.3M1204.5 1072.4l15.3 -15.3M1182.5 1040.6h21.6M1193.3 1029.8v21.6M1185.6 1033.0l15.3 15.3M1185.6 1048.3l15.3 -15.3M1212.8 991.5h21.6M1223.6 980.7v21.6M1216.0 983.8l15.3 15.3M1216.0 999.1l15.3 -15.3M1172.1 1005.3h21.6M1182.9 994.5v21.6M1175.2 997.7l15.3 15.3M1175.2 1013.0l15.3 -15.3M1212.3 990.5h21.6M1223.1 979.7v21.6M1215.5 982.8l15.3 15.3M1215.5 998.1l15.3 -15.3M1222.3 1037.9h21.6M1233.1 1027.1v21.6M1225.4 1030.3l15.3 15.3M1225.4 1045.5l15.3 -15.3M1165.1 1028.9h21.6M1175.9 1018.1v21.6M1168.2 1021.2l15.3 15.3M1168.2 1036.5l15.3 -15.3M1188.7 998.5h21.6M1199.5 987.7v21.6M1191.8 990.8l15.3 15.3M1191.8 1006.1l15.3 -15.3" stroke="#0072BD" stroke-width="1.75" fill="none"/>
<g stroke="#D95319" stroke-width="1.75" fill="none"><circle cx="840.4" cy="1252.1" r="10.8"/><circle cx="912.5" cy="1171.6" r="10.8"/><circle cx="891.3" cy="1205.5" r="10.8"/><circle cx="922.3" cy="1197.0" r="10.8"/><circle cx="997.2" cy="1230.9" r="10.8"/><circle cx="985.9" cy="1134.9" r="10.8"/><circle cx="995.8" cy="1139.1" r="10.8"/><circle cx="961.9" cy="1144.7" r="10.8"/><circle cx="993.0" cy="1198.4" r="10.8"/><circle cx="913.9" cy="1229.5" r="10.8"/><circle cx="902.6" cy="1243.6" r="10.8"/><circle cx="894.1" cy="1236.6" r="10.8"/><circle cx="922.3" cy="1212.5" r="10.8"/><circle cx="930.8" cy="1187.1" r="10.8"/><circle cx="949.2" cy="1151.8" r="10.8"/><circle cx="956.2" cy="1139.1" r="10.8"/><circle cx="1005.7" cy="1088.2" r="10.8"/><circle cx="881.4" cy="1250.7" r="10.8"/><circle cx="829.1" cy="1316.5" r="10.8"/><circle cx="833.4" cy="1308.0" r="10.8"/><circle cx="839.0" cy="1322.1" r="10.8"/><circle cx="850.3" cy="1334.9" r="10.8"/><circle cx="853.1" cy="1320.7" r="10.8"/><circle cx="856.0" cy="1316.5" r="10.8"/><circle cx="843.2" cy="1306.6" r="10.8"/><circle cx="848.9" cy="1296.7" r="10.8"/><circle cx="861.6" cy="1278.4" r="10.8"/><circle cx="865.8" cy="1276.9" r="10.8"/><circle cx="875.7" cy="1295.3" r="10.8"/><circle cx="894.1" cy="1292.5" r="10.8"/><circle cx="898.3" cy="1274.1" r="10.8"/><circle cx="902.6" cy="1271.3" r="10.8"/><circle cx="920.9" cy="1281.2" r="10.8"/><circle cx="860.2" cy="1268.5" r="10.8"/><circle cx="864.4" cy="1302.4" r="10.8"/><circle cx="1144.9" cy="999.3" r="10.8"/><circle cx="1156.2" cy="1006.4" r="10.8"/><circle cx="1166.1" cy="1013.4" r="10.8"/><circle cx="1135.1" cy="1013.4" r="10.8"/><circle cx="1149.2" cy="1019.1" r="10.8"/><circle cx="1128.0" cy="1019.1" r="10.8"/><circle cx="1080.0" cy="1030.4" r="10.8"/><circle cx="1063.0" cy="1037.5" r="10.8"/><circle cx="1040.4" cy="1057.2" r="10.8"/><circle cx="1051.7" cy="1062.9" r="10.8"/><circle cx="1068.7" cy="1061.5" r="10.8"/><circle cx="1036.2" cy="1116.6" r="10.8"/><circle cx="1067.3" cy="1106.7" r="10.8"/><circle cx="1092.7" cy="1109.5" r="10.8"/><circle cx="1126.6" cy="1112.3" r="10.8"/><circle cx="1195.8" cy="1061.5" r="10.8"/><circle cx="1211.3" cy="976.7" r="10.8"/><circle cx="1190.1" cy="1000.7" r="10.8"/><circle cx="1205.7" cy="996.5" r="10.8"/><circle cx="1198.6" cy="1010.6" r="10.8"/><circle cx="1096.9" cy="1031.8" r="10.8"/><circle cx="1170.4" cy="1017.7" r="10.8"/><circle cx="1113.9" cy="1031.8" r="10.8"/><circle cx="1071.5" cy="1081.2" r="10.8"/><circle cx="1029.1" cy="1130.7" r="10.8"/><circle cx="1034.8" cy="1151.3" r="10.8"/><circle cx="1071.5" cy="1148.5" r="10.8"/><circle cx="1290.2" cy="926.6" r="10.8"/><circle cx="1293.0" cy="929.4" r="10.8"/><circle cx="1297.2" cy="936.5" r="10.8"/><circle cx="1300.1" cy="939.3" r="10.8"/><circle cx="1291.6" cy="943.6" r="10.8"/><circle cx="1298.6" cy="947.8" r="10.8"/><circle cx="1315.6" cy="942.1" r="10.8"/><circle cx="1333.2" cy="927.3" r="10.8"/><circle cx="1283.1" cy="943.6" r="10.8"/><circle cx="1252.0" cy="956.3" r="10.8"/><circle cx="1259.1" cy="967.6" r="10.8"/><circle cx="1271.8" cy="964.7" r="10.8"/><circle cx="1267.6" cy="978.9" r="10.8"/><circle cx="1256.3" cy="978.9" r="10.8"/><circle cx="1219.5" cy="976.0" r="10.8"/><circle cx="1226.6" cy="1000.1" r="10.8"/><circle cx="1243.6" cy="1007.1" r="10.8"/><circle cx="901.4" cy="1205.2" r="10.8"/><circle cx="885.0" cy="1193.5" r="10.8"/><circle cx="948.7" cy="1180.8" r="10.8"/><circle cx="851.5" cy="1218.3" r="10.8"/><circle cx="895.3" cy="1217.0" r="10.8"/><circle cx="967.9" cy="1169.9" r="10.8"/><circle cx="976.2" cy="1172.3" r="10.8"/><circle cx="1046.3" cy="1142.9" r="10.8"/><circle cx="927.6" cy="1201.5" r="10.8"/><circle cx="1087.4" cy="1032.8" r="10.8"/><circle cx="1065.7" cy="1118.7" r="10.8"/><circle cx="1048.8" cy="1074.5" r="10.8"/><circle cx="1090.5" cy="1121.7" r="10.8"/><circle cx="1080.5" cy="1128.6" r="10.8"/><circle cx="1065.1" cy="1104.1" r="10.8"/><circle cx="1051.6" cy="1090.0" r="10.8"/><circle cx="1053.9" cy="1074.2" r="10.8"/><circle cx="1099.2" cy="1065.0" r="10.8"/><circle cx="1259.3" cy="995.3" r="10.8"/><circle cx="1213.0" cy="1023.4" r="10.8"/></g>
<path d="M888.4 1123.5L892.3 1135.3L904.6 1135.3L894.6 1142.5L898.4 1154.3L888.4 1147.0L878.5 1154.3L882.3 1142.5L872.3 1135.3L884.6 1135.3ZM922.3 1130.6L926.2 1142.3L938.5 1142.3L928.5 1149.6L932.3 1161.3L922.3 1154.1L912.4 1161.3L916.2 1149.6L906.2 1142.3L918.5 1142.3ZM848.9 1206.8L852.7 1218.6L865.1 1218.6L855.1 1225.8L858.9 1237.6L848.9 1230.3L838.9 1237.6L842.7 1225.8L832.7 1218.6L845.1 1218.6ZM878.6 1177.2L882.4 1188.9L894.7 1188.9L884.7 1196.2L888.6 1207.9L878.6 1200.7L868.6 1207.9L872.4 1196.2L862.4 1188.9L874.7 1188.9ZM872.9 1201.2L876.7 1212.9L889.1 1212.9L879.1 1220.2L882.9 1231.9L872.9 1224.7L862.9 1231.9L866.7 1220.2L856.7 1212.9L869.1 1212.9ZM899.7 1163.1L903.6 1174.8L915.9 1174.8L905.9 1182.1L909.7 1193.8L899.7 1186.6L889.8 1193.8L893.6 1182.1L883.6 1174.8L895.9 1174.8ZM913.9 1156.0L917.7 1167.7L930.0 1167.7L920.0 1175.0L923.9 1186.7L913.9 1179.5L903.9 1186.7L907.7 1175.0L897.7 1167.7L910.1 1167.7ZM928.0 1160.2L931.8 1172.0L944.2 1172.0L934.2 1179.2L938.0 1191.0L928.0 1183.7L918.0 1191.0L921.8 1179.2L911.8 1172.0L924.2 1172.0ZM942.1 1150.3L945.9 1162.1L958.3 1162.1L948.3 1169.4L952.1 1181.1L942.1 1173.8L932.1 1181.1L935.9 1169.4L926.0 1162.1L938.3 1162.1ZM956.2 1163.1L960.1 1174.8L972.4 1174.8L962.4 1182.1L966.2 1193.8L956.2 1186.6L946.3 1193.8L950.1 1182.1L940.1 1174.8L952.4 1174.8ZM970.4 1134.8L974.2 1146.6L986.5 1146.6L976.5 1153.8L980.4 1165.6L970.4 1158.3L960.4 1165.6L964.2 1153.8L954.2 1146.6L966.6 1146.6ZM984.5 1144.7L988.3 1156.4L1000.7 1156.4L990.7 1163.7L994.5 1175.4L984.5 1168.2L974.5 1175.4L978.3 1163.7L968.3 1156.4L980.7 1156.4ZM998.6 1148.9L1002.4 1160.7L1014.8 1160.7L1004.8 1167.9L1008.6 1179.7L998.6 1172.4L988.6 1179.7L992.4 1167.9L982.4 1160.7L994.8 1160.7ZM1005.7 1106.6L1009.5 1118.3L1021.8 1118.3L1011.9 1125.6L1015.7 1137.3L1005.7 1130.1L995.7 1137.3L999.5 1125.6L989.5 1118.3L1001.9 1118.3ZM1012.7 1127.7L1016.6 1139.5L1028.9 1139.5L1018.9 1146.8L1022.7 1158.5L1012.7 1151.2L1002.7 1158.5L1006.6 1146.8L996.6 1139.5L1008.9 1139.5ZM864.4 1226.6L868.3 1238.4L880.6 1238.4L870.6 1245.6L874.4 1257.4L864.4 1250.1L854.4 1257.4L858.3 1245.6L848.3 1238.4L860.6 1238.4ZM906.8 1184.2L910.6 1196.0L923.0 1196.0L913.0 1203.2L916.8 1215.0L906.8 1207.7L896.8 1215.0L900.6 1203.2L890.6 1196.0L903.0 1196.0ZM942.1 1177.2L945.9 1188.9L958.3 1188.9L948.3 1196.2L952.1 1207.9L942.1 1200.7L932.1 1207.9L935.9 1196.2L926.0 1188.9L938.3 1188.9ZM970.4 1177.2L974.2 1188.9L986.5 1188.9L976.5 1196.2L980.4 1207.9L970.4 1200.7L960.4 1207.9L964.2 1196.2L954.2 1188.9L966.6 1188.9ZM1178.8 979.5L1182.7 991.2L1195.0 991.2L1185.0 998.5L1188.8 1010.3L1178.8 1003.0L1168.8 1010.3L1172.7 998.5L1162.7 991.2L1175.0 991.2ZM1198.6 972.4L1202.4 984.2L1214.8 984.2L1204.8 991.4L1208.6 1003.2L1198.6 995.9L1188.6 1003.2L1192.4 991.4L1182.4 984.2L1194.8 984.2ZM1212.7 965.4L1216.6 977.1L1228.9 977.1L1218.9 984.4L1222.7 996.1L1212.7 988.9L1202.7 996.1L1206.6 984.4L1196.6 977.1L1208.9 977.1ZM1184.5 993.6L1188.3 1005.4L1200.7 1005.4L1190.7 1012.6L1194.5 1024.4L1184.5 1017.1L1174.5 1024.4L1178.3 1012.6L1168.3 1005.4L1180.7 1005.4ZM1202.9 1007.7L1206.7 1019.5L1219.0 1019.5L1209.0 1026.8L1212.8 1038.5L1202.9 1031.2L1192.9 1038.5L1196.7 1026.8L1186.7 1019.5L1199.0 1019.5ZM1142.1 1028.9L1145.9 1040.7L1158.3 1040.7L1148.3 1047.9L1152.1 1059.7L1142.1 1052.4L1132.1 1059.7L1135.9 1047.9L1126.0 1040.7L1138.3 1040.7ZM1156.2 1036.0L1160.1 1047.7L1172.4 1047.7L1162.4 1055.0L1166.2 1066.7L1156.2 1059.5L1146.3 1066.7L1150.1 1055.0L1140.1 1047.7L1152.4 1047.7ZM1170.4 1028.9L1174.2 1040.7L1186.5 1040.7L1176.5 1047.9L1180.4 1059.7L1170.4 1052.4L1160.4 1059.7L1164.2 1047.9L1154.2 1040.7L1166.6 1040.7ZM1184.5 1033.2L1188.3 1044.9L1200.7 1044.9L1190.7 1052.2L1194.5 1063.9L1184.5 1056.7L1174.5 1063.9L1178.3 1052.2L1168.3 1044.9L1180.7 1044.9ZM1085.6 1057.2L1089.4 1068.9L1101.8 1068.9L1091.8 1076.2L1095.6 1087.9L1085.6 1080.7L1075.6 1087.9L1079.4 1076.2L1069.5 1068.9L1081.8 1068.9ZM1099.7 1057.2L1103.6 1068.9L1115.9 1068.9L1105.9 1076.2L1109.7 1087.9L1099.7 1080.7L1089.8 1087.9L1093.6 1076.2L1083.6 1068.9L1095.9 1068.9ZM1113.9 1050.1L1117.7 1061.9L1130.0 1061.9L1120.0 1069.1L1123.9 1080.9L1113.9 1073.6L1103.9 1080.9L1107.7 1069.1L1097.7 1061.9L1110.1 1061.9ZM1125.2 1057.2L1129.0 1068.9L1141.3 1068.9L1131.3 1076.2L1135.2 1087.9L1125.2 1080.7L1115.2 1087.9L1119.0 1076.2L1109.0 1068.9L1121.4 1068.9ZM1142.1 1071.3L1145.9 1083.1L1158.3 1083.1L1148.3 1090.3L1152.1 1102.1L1142.1 1094.8L1132.1 1102.1L1135.9 1090.3L1126.0 1083.1L1138.3 1083.1ZM1156.2 1078.4L1160.1 1090.1L1172.4 1090.1L1162.4 1097.4L1166.2 1109.1L1156.2 1101.9L1146.3 1109.1L1150.1 1097.4L1140.1 1090.1L1152.4 1090.1ZM1184.5 1089.7L1188.3 1101.4L1200.7 1101.4L1190.7 1108.7L1194.5 1120.4L1184.5 1113.2L1174.5 1120.4L1178.3 1108.7L1168.3 1101.4L1180.7 1101.4ZM1029.1 1075.5L1032.9 1087.3L1045.3 1087.3L1035.3 1094.5L1039.1 1106.3L1029.1 1099.0L1019.1 1106.3L1022.9 1094.5L1013.0 1087.3L1025.3 1087.3ZM1043.2 1078.4L1047.1 1090.1L1059.4 1090.1L1049.4 1097.4L1053.2 1109.1L1043.2 1101.9L1033.3 1109.1L1037.1 1097.4L1027.1 1090.1L1039.4 1090.1ZM1057.4 1082.6L1061.2 1094.4L1073.5 1094.4L1063.5 1101.6L1067.4 1113.4L1057.4 1106.1L1047.4 1113.4L1051.2 1101.6L1041.2 1094.4L1053.6 1094.4ZM1036.2 1099.6L1040.0 1111.3L1052.4 1111.3L1042.4 1118.6L1046.2 1130.3L1036.2 1123.0L1026.2 1130.3L1030.0 1118.6L1020.0 1111.3L1032.4 1111.3ZM1078.6 1099.6L1082.4 1111.3L1094.7 1111.3L1084.7 1118.6L1088.6 1130.3L1078.6 1123.0L1068.6 1130.3L1072.4 1118.6L1062.4 1111.3L1074.7 1111.3ZM1106.8 1106.6L1110.6 1118.4L1123.0 1118.4L1113.0 1125.6L1116.8 1137.4L1106.8 1130.1L1096.8 1137.4L1100.6 1125.6L1090.6 1118.4L1103.0 1118.4ZM1057.4 1113.7L1061.2 1125.4L1073.5 1125.4L1063.5 1132.7L1067.4 1144.4L1057.4 1137.2L1047.4 1144.4L1051.2 1132.7L1041.2 1125.4L1053.6 1125.4ZM1167.5 1021.9L1171.4 1033.6L1183.7 1033.6L1173.7 1040.9L1177.5 1052.6L1167.5 1045.4L1157.6 1052.6L1161.4 1040.9L1151.4 1033.6L1163.7 1033.6ZM1135.1 1043.1L1138.9 1054.8L1151.2 1054.8L1141.2 1062.1L1145.0 1073.8L1135.1 1066.6L1125.1 1073.8L1128.9 1062.1L1118.9 1054.8L1131.2 1054.8ZM1056.0 1152.7L1059.8 1164.4L1072.1 1164.4L1062.1 1171.7L1066.0 1183.4L1056.0 1176.2L1046.0 1183.4L1049.8 1171.7L1039.8 1164.4L1052.1 1164.4ZM1092.7 1127.2L1096.5 1139.0L1108.9 1139.0L1098.9 1146.2L1102.7 1158.0L1092.7 1150.7L1082.7 1158.0L1086.5 1146.2L1076.5 1139.0L1088.9 1139.0ZM1303.6 889.8L1307.4 901.6L1319.8 901.6L1309.8 908.8L1313.6 920.6L1303.6 913.3L1293.6 920.6L1297.4 908.8L1287.4 901.6L1299.8 901.6ZM1281.7 930.8L1285.5 942.5L1297.9 942.5L1287.9 949.8L1291.7 961.5L1281.7 954.3L1271.7 961.5L1275.5 949.8L1265.5 942.5L1277.9 942.5ZM1300.1 950.6L1303.9 962.3L1316.2 962.3L1306.2 969.6L1310.0 981.3L1300.1 974.1L1290.1 981.3L1293.9 969.6L1283.9 962.3L1296.2 962.3ZM1293.0 964.7L1296.8 976.4L1309.2 976.4L1299.2 983.7L1303.0 995.4L1293.0 988.2L1283.0 995.4L1286.8 983.7L1276.8 976.4L1289.2 976.4ZM1290.2 976.0L1294.0 987.7L1306.3 987.7L1296.3 995.0L1300.2 1006.7L1290.2 999.5L1280.2 1006.7L1284.0 995.0L1274.0 987.7L1286.4 987.7ZM1283.1 1004.2L1286.9 1016.0L1299.3 1016.0L1289.3 1023.2L1293.1 1035.0L1283.1 1027.7L1273.1 1035.0L1276.9 1023.2L1266.9 1016.0L1279.3 1016.0ZM1287.3 1017.0L1291.2 1028.7L1303.5 1028.7L1293.5 1036.0L1297.3 1047.7L1287.3 1040.4L1277.4 1047.7L1281.2 1036.0L1271.2 1028.7L1283.5 1028.7ZM1259.1 1018.4L1262.9 1030.1L1275.3 1030.1L1265.3 1037.4L1269.1 1049.1L1259.1 1041.9L1249.1 1049.1L1252.9 1037.4L1242.9 1030.1L1255.3 1030.1ZM1239.3 947.7L1243.1 959.5L1255.5 959.5L1245.5 966.8L1249.3 978.5L1239.3 971.2L1229.3 978.5L1233.1 966.8L1223.2 959.5L1235.5 959.5ZM1250.6 956.2L1254.4 968.0L1266.8 968.0L1256.8 975.2L1260.6 987.0L1250.6 979.7L1240.6 987.0L1244.4 975.2L1234.5 968.0L1246.8 968.0ZM1222.4 961.9L1226.2 973.6L1238.5 973.6L1228.5 980.9L1232.4 992.6L1222.4 985.4L1212.4 992.6L1216.2 980.9L1206.2 973.6L1218.6 973.6ZM1236.5 997.2L1240.3 1008.9L1252.7 1008.9L1242.7 1016.2L1246.5 1027.9L1236.5 1020.7L1226.5 1027.9L1230.3 1016.2L1220.3 1008.9L1232.7 1008.9ZM1271.8 961.9L1275.6 973.6L1288.0 973.6L1278.0 980.9L1281.8 992.6L1271.8 985.4L1261.8 992.6L1265.6 980.9L1255.6 973.6L1268.0 973.6ZM866.1 1192.6L869.9 1204.4L882.2 1204.4L872.2 1211.6L876.1 1223.4L866.1 1216.1L856.1 1223.4L859.9 1211.6L849.9 1204.4L862.2 1204.4ZM919.2 1140.1L923.0 1151.8L935.4 1151.8L925.4 1159.1L929.2 1170.9L919.2 1163.6L909.2 1170.9L913.1 1159.1L903.1 1151.8L915.4 1151.8ZM1017.5 1094.9L1021.3 1106.7L1033.7 1106.7L1023.7 1114.0L1027.5 1125.7L1017.5 1118.4L1007.5 1125.7L1011.3 1114.0L1001.3 1106.7L1013.7 1106.7ZM967.9 1142.4L971.7 1154.1L984.0 1154.1L974.0 1161.4L977.9 1173.1L967.9 1165.8L957.9 1173.1L961.7 1161.4L951.7 1154.1L964.0 1154.1ZM994.4 1142.4L998.2 1154.1L1010.6 1154.1L1000.6 1161.4L1004.4 1173.1L994.4 1165.9L984.4 1173.1L988.2 1161.4L978.2 1154.1L990.6 1154.1ZM948.1 1146.6L951.9 1158.4L964.3 1158.4L954.3 1165.6L958.1 1177.4L948.1 1170.1L938.1 1177.4L941.9 1165.6L931.9 1158.4L944.3 1158.4ZM850.1 1201.2L853.9 1212.9L866.3 1212.9L856.3 1220.2L860.1 1231.9L850.1 1224.7L840.1 1231.9L843.9 1220.2L834.0 1212.9L846.3 1212.9ZM931.9 1154.9L935.7 1166.6L948.1 1166.6L938.1 1173.9L941.9 1185.6L931.9 1178.4L921.9 1185.6L925.7 1173.9L915.8 1166.6L928.1 1166.6ZM889.3 1214.6L893.1 1226.3L905.5 1226.3L895.5 1233.6L899.3 1245.3L889.3 1238.0L879.3 1245.3L883.1 1233.6L873.1 1226.3L885.5 1226.3ZM977.3 1149.6L981.1 1161.4L993.4 1161.4L983.5 1168.6L987.3 1180.4L977.3 1173.1L967.3 1180.4L971.1 1168.6L961.1 1161.4L973.5 1161.4ZM902.0 1203.9L905.9 1215.7L918.2 1215.7L908.2 1222.9L912.0 1234.7L902.0 1227.4L892.0 1234.7L895.9 1222.9L885.9 1215.7L898.2 1215.7ZM982.4 1141.1L986.2 1152.8L998.6 1152.8L988.6 1160.1L992.4 1171.8L982.4 1164.6L972.4 1171.8L976.2 1160.1L966.2 1152.8L978.6 1152.8ZM971.4 1185.4L975.3 1197.1L987.6 1197.1L977.6 1204.4L981.4 1216.1L971.4 1208.9L961.5 1216.1L965.3 1204.4L955.3 1197.1L967.6 1197.1ZM893.6 1166.4L897.5 1178.2L909.8 1178.2L899.8 1185.4L903.6 1197.2L893.6 1189.9L883.6 1197.2L887.5 1185.4L877.5 1178.2L889.8 1178.2ZM1035.5 1134.3L1039.3 1146.1L1051.7 1146.1L1041.7 1153.4L1045.5 1165.1L1035.5 1157.8L1025.5 1165.1L1029.3 1153.4L1019.3 1146.1L1031.7 1146.1ZM1054.5 1127.0L1058.3 1138.8L1070.7 1138.8L1060.7 1146.0L1064.5 1157.8L1054.5 1150.5L1044.5 1157.8L1048.3 1146.0L1038.3 1138.8L1050.7 1138.8ZM917.0 1183.5L920.9 1195.2L933.2 1195.2L923.2 1202.5L927.0 1214.2L917.0 1206.9L907.0 1214.2L910.9 1202.5L900.9 1195.2L913.2 1195.2ZM883.5 1216.9L887.3 1228.7L899.7 1228.7L889.7 1235.9L893.5 1247.7L883.5 1240.4L873.5 1247.7L877.3 1235.9L867.3 1228.7L879.7 1228.7ZM1049.0 1109.5L1052.8 1121.3L1065.1 1121.3L1055.1 1128.6L1058.9 1140.3L1049.0 1133.0L1039.0 1140.3L1042.8 1128.6L1032.8 1121.3L1045.1 1121.3ZM885.3 1202.4L889.1 1214.2L901.4 1214.2L891.4 1221.4L895.2 1233.2L885.3 1225.9L875.3 1233.2L879.1 1221.4L869.1 1214.2L881.4 1214.2ZM1046.6 1125.7L1050.4 1137.4L1062.8 1137.4L1052.8 1144.7L1056.6 1156.4L1046.6 1149.1L1036.6 1156.4L1040.4 1144.7L1030.4 1137.4L1042.8 1137.4ZM972.3 1138.1L976.1 1149.8L988.5 1149.8L978.5 1157.1L982.3 1168.8L972.3 1161.6L962.3 1168.8L966.1 1157.1L956.1 1149.8L968.5 1149.8ZM902.0 1164.0L905.8 1175.8L918.2 1175.8L908.2 1183.0L912.0 1194.8L902.0 1187.5L892.0 1194.8L895.8 1183.0L885.8 1175.8L898.2 1175.8ZM1001.1 1155.0L1005.0 1166.7L1017.3 1166.7L1007.3 1174.0L1011.1 1185.7L1001.1 1178.5L991.2 1185.7L995.0 1174.0L985.0 1166.7L997.3 1166.7ZM967.9 1164.1L971.8 1175.9L984.1 1175.9L974.1 1183.1L977.9 1194.9L967.9 1187.6L957.9 1194.9L961.8 1183.1L951.8 1175.9L964.1 1175.9ZM937.0 1158.1L940.8 1169.8L953.2 1169.8L943.2 1177.1L947.0 1188.8L937.0 1181.6L927.0 1188.8L930.8 1177.1L920.8 1169.8L933.2 1169.8ZM968.0 1142.9L971.8 1154.6L984.1 1154.6L974.1 1161.9L978.0 1173.6L968.0 1166.4L958.0 1173.6L961.8 1161.9L951.8 1154.6L964.1 1154.6ZM994.9 1163.1L998.7 1174.8L1011.1 1174.8L1001.1 1182.1L1004.9 1193.8L994.9 1186.6L984.9 1193.8L988.7 1182.1L978.7 1174.8L991.1 1174.8ZM1044.0 1117.9L1047.8 1129.6L1060.2 1129.6L1050.2 1136.9L1054.0 1148.6L1044.0 1141.4L1034.0 1148.6L1037.8 1136.9L1027.8 1129.6L1040.2 1129.6ZM901.8 1201.5L905.6 1213.2L918.0 1213.2L908.0 1220.5L911.8 1232.2L901.8 1224.9L891.8 1232.2L895.6 1220.5L885.6 1213.2L898.0 1213.2ZM955.8 1159.2L959.6 1170.9L971.9 1171.0L962.0 1178.2L965.8 1190.0L955.8 1182.7L945.8 1190.0L949.6 1178.2L939.6 1171.0L952.0 1170.9ZM912.9 1176.7L916.7 1188.4L929.0 1188.4L919.1 1195.7L922.9 1207.4L912.9 1200.1L902.9 1207.4L906.7 1195.7L896.7 1188.4L909.1 1188.4ZM949.0 1141.0L952.8 1152.7L965.2 1152.7L955.2 1160.0L959.0 1171.8L949.0 1164.5L939.0 1171.8L942.8 1160.0L932.8 1152.7L945.2 1152.7ZM1070.6 1117.0L1074.4 1128.7L1086.7 1128.7L1076.8 1136.0L1080.6 1147.7L1070.6 1140.5L1060.6 1147.7L1064.4 1136.0L1054.4 1128.7L1066.8 1128.7ZM1087.1 1094.2L1090.9 1106.0L1103.2 1106.0L1093.2 1113.2L1097.0 1125.0L1087.1 1117.7L1077.1 1125.0L1080.9 1113.2L1070.9 1106.0L1083.2 1106.0ZM1048.2 1047.2L1052.1 1059.0L1064.4 1059.0L1054.4 1066.2L1058.2 1078.0L1048.2 1070.7L1038.3 1078.0L1042.1 1066.2L1032.1 1059.0L1044.4 1059.0ZM1213.9 1037.9L1217.7 1049.6L1230.1 1049.6L1220.1 1056.9L1223.9 1068.6L1213.9 1061.4L1203.9 1068.6L1207.7 1056.9L1197.7 1049.6L1210.1 1049.6ZM1153.3 1028.6L1157.1 1040.3L1169.4 1040.3L1159.4 1047.6L1163.2 1059.4L1153.3 1052.1L1143.3 1059.4L1147.1 1047.6L1137.1 1040.3L1149.4 1040.3ZM1211.6 1035.2L1215.4 1046.9L1227.7 1046.9L1217.8 1054.2L1221.6 1065.9L1211.6 1058.7L1201.6 1065.9L1205.4 1054.2L1195.4 1046.9L1207.8 1046.9ZM1266.9 976.3L1270.7 988.1L1283.1 988.1L1273.1 995.3L1276.9 1007.1L1266.9 999.8L1256.9 1007.1L1260.7 995.3L1250.7 988.1L1263.1 988.1ZM1215.5 1018.2L1219.3 1030.0L1231.7 1030.0L1221.7 1037.2L1225.5 1049.0L1215.5 1041.7L1205.5 1049.0L1209.3 1037.2L1199.3 1030.0L1211.7 1030.0ZM1157.6 1015.5L1161.4 1027.2L1173.8 1027.2L1163.8 1034.5L1167.6 1046.2L1157.6 1039.0L1147.6 1046.2L1151.4 1034.5L1141.4 1027.2L1153.8 1027.2ZM1214.6 1031.3L1218.4 1043.1L1230.7 1043.1L1220.8 1050.3L1224.6 1062.1L1214.6 1054.8L1204.6 1062.1L1208.4 1050.3L1198.4 1043.1L1210.8 1043.1ZM1249.1 995.4L1252.9 1007.2L1265.2 1007.2L1255.3 1014.4L1259.1 1026.2L1249.1 1018.9L1239.1 1026.2L1242.9 1014.4L1232.9 1007.2L1245.3 1007.2ZM1197.1 1024.8L1200.9 1036.6L1213.3 1036.6L1203.3 1043.8L1207.1 1055.6L1197.1 1048.3L1187.1 1055.6L1190.9 1043.8L1180.9 1036.6L1193.3 1036.6Z" stroke="#77AC30" stroke-width="1.75" fill="none" stroke-linejoin="miter"/>
<path d="M844.7 1096.9L860.3 1117.9L844.7 1138.9L829.1 1117.9ZM831.9 1124.5L847.5 1145.5L831.9 1166.5L816.3 1145.5ZM881.4 1081.4L897.0 1102.4L881.4 1123.4L865.8 1102.4ZM924.5 1057.4L940.1 1078.4L924.5 1099.4L908.9 1078.4ZM935.8 1041.8L951.4 1062.8L935.8 1083.8L920.2 1062.8ZM905.4 1088.4L921.0 1109.4L905.4 1130.4L889.8 1109.4ZM926.6 1089.8L942.2 1110.8L926.6 1131.8L911.0 1110.8ZM928.0 1094.1L943.6 1115.1L928.0 1136.1L912.4 1115.1ZM930.8 1098.3L946.4 1119.3L930.8 1140.3L915.2 1119.3ZM935.1 1101.1L950.7 1122.1L935.1 1143.1L919.5 1122.1ZM937.9 1105.4L953.5 1126.4L937.9 1147.4L922.3 1126.4ZM949.2 1095.5L964.8 1116.5L949.2 1137.5L933.6 1116.5ZM971.1 1085.6L986.7 1106.6L971.1 1127.6L955.5 1106.6ZM981.7 1054.5L997.3 1075.5L981.7 1096.5L966.1 1075.5ZM997.2 1067.2L1012.8 1088.2L997.2 1109.2L981.6 1088.2ZM1000.0 1078.5L1015.6 1099.5L1000.0 1120.5L984.4 1099.5ZM1005.7 1088.4L1021.3 1109.4L1005.7 1130.4L990.1 1109.4ZM998.6 1096.9L1014.2 1117.9L998.6 1138.9L983.0 1117.9ZM970.4 1099.7L986.0 1120.7L970.4 1141.7L954.8 1120.7ZM956.2 1109.6L971.8 1130.6L956.2 1151.6L940.6 1130.6ZM882.1 1132.2L897.7 1153.2L882.1 1174.2L866.5 1153.2ZM894.1 1137.9L909.7 1158.9L894.1 1179.9L878.5 1158.9ZM902.6 1126.6L918.2 1147.6L902.6 1168.6L887.0 1147.6ZM888.4 1147.8L904.0 1168.8L888.4 1189.8L872.8 1168.8ZM885.6 1161.9L901.2 1182.9L885.6 1203.9L870.0 1182.9ZM891.3 1171.8L906.9 1192.8L891.3 1213.8L875.7 1192.8ZM923.8 1202.8L939.4 1223.8L923.8 1244.8L908.2 1223.8ZM970.4 1156.2L986.0 1177.2L970.4 1198.2L954.8 1177.2ZM963.3 1198.6L978.9 1219.6L963.3 1240.6L947.7 1219.6ZM970.4 1204.3L986.0 1225.3L970.4 1246.3L954.8 1225.3ZM947.8 1119.5L963.4 1140.5L947.8 1161.5L932.2 1140.5ZM998.6 1128.0L1014.2 1149.0L998.6 1170.0L983.0 1149.0ZM1012.7 1109.6L1028.3 1130.6L1012.7 1151.6L997.1 1130.6ZM991.6 1095.5L1007.2 1116.5L991.6 1137.5L976.0 1116.5ZM1009.9 1074.3L1025.5 1095.3L1009.9 1116.3L994.3 1095.3ZM845.4 1268.7L861.0 1289.7L845.4 1310.7L829.8 1289.7ZM865.8 1299.7L881.4 1320.7L865.8 1341.7L850.2 1320.7ZM848.9 1295.5L864.5 1316.5L848.9 1337.5L833.3 1316.5ZM935.8 1267.2L951.4 1288.2L935.8 1309.2L920.2 1288.2ZM956.9 1244.6L972.5 1265.6L956.9 1286.6L941.3 1265.6ZM936.5 1251.7L952.1 1272.7L936.5 1293.7L920.9 1272.7ZM856.0 1277.1L871.6 1298.1L856.0 1319.1L840.4 1298.1ZM889.9 1265.8L905.5 1286.8L889.9 1307.8L874.3 1286.8ZM870.1 1240.4L885.7 1261.4L870.1 1282.4L854.5 1261.4ZM1116.7 952.9L1132.3 973.9L1116.7 994.9L1101.1 973.9ZM1135.1 957.1L1150.7 978.1L1135.1 999.1L1119.5 978.1ZM1123.8 951.5L1139.4 972.5L1123.8 993.5L1108.2 972.5ZM1142.1 961.4L1157.7 982.4L1142.1 1003.4L1126.5 982.4ZM1190.8 954.3L1206.4 975.3L1190.8 996.3L1175.2 975.3ZM1178.8 965.6L1194.4 986.6L1178.8 1007.6L1163.2 986.6ZM1212.7 933.1L1228.3 954.1L1212.7 975.1L1197.1 954.1ZM1044.7 985.4L1060.3 1006.4L1044.7 1027.4L1029.1 1006.4ZM1051.7 981.1L1067.3 1002.1L1051.7 1023.1L1036.1 1002.1ZM1085.6 982.6L1101.2 1003.6L1085.6 1024.6L1070.0 1003.6ZM1061.6 1003.7L1077.2 1024.7L1061.6 1045.7L1046.0 1024.7ZM1036.2 982.6L1051.8 1003.6L1036.2 1024.6L1020.6 1003.6ZM1029.1 1017.9L1044.7 1038.9L1029.1 1059.9L1013.5 1038.9ZM1023.5 1006.6L1039.1 1027.6L1023.5 1048.6L1007.9 1027.6ZM1050.3 1006.6L1065.9 1027.6L1050.3 1048.6L1034.7 1027.6ZM1074.3 1010.8L1089.9 1031.8L1074.3 1052.8L1058.7 1031.8ZM1096.9 998.1L1112.5 1019.1L1096.9 1040.1L1081.3 1019.1ZM1105.4 1006.6L1121.0 1027.6L1105.4 1048.6L1089.8 1027.6ZM1113.9 989.6L1129.5 1010.6L1113.9 1031.6L1098.3 1010.6ZM1122.3 979.7L1137.9 1000.7L1122.3 1021.7L1106.7 1000.7ZM1128.0 984.0L1143.6 1005.0L1128.0 1026.0L1112.4 1005.0ZM1135.1 989.6L1150.7 1010.6L1135.1 1031.6L1119.5 1010.6ZM1147.8 1010.8L1163.4 1031.8L1147.8 1052.8L1132.2 1031.8ZM1156.2 1017.9L1171.8 1038.9L1156.2 1059.9L1140.6 1038.9ZM1170.4 1003.7L1186.0 1024.7L1170.4 1045.7L1154.8 1024.7ZM1191.6 999.5L1207.2 1020.5L1191.6 1041.5L1176.0 1020.5ZM1205.7 989.6L1221.3 1010.6L1205.7 1031.6L1190.1 1010.6ZM1082.8 992.4L1098.4 1013.4L1082.8 1034.4L1067.2 1013.4ZM1089.9 1003.7L1105.5 1024.7L1089.9 1045.7L1074.3 1024.7ZM1017.8 1046.1L1033.4 1067.1L1017.8 1088.1L1002.2 1067.1ZM1029.1 1039.1L1044.7 1060.1L1029.1 1081.1L1013.5 1060.1ZM1043.2 1032.0L1058.8 1053.0L1043.2 1074.0L1027.6 1053.0ZM1057.4 1046.1L1073.0 1067.1L1057.4 1088.1L1041.8 1067.1ZM1067.3 1029.2L1082.9 1050.2L1067.3 1071.2L1051.7 1050.2ZM1081.4 1034.8L1097.0 1055.8L1081.4 1076.8L1065.8 1055.8ZM1099.7 1040.5L1115.3 1061.5L1099.7 1082.5L1084.1 1061.5ZM1106.8 1048.9L1122.4 1069.9L1106.8 1090.9L1091.2 1069.9ZM1113.9 1032.0L1129.5 1053.0L1113.9 1074.0L1098.3 1053.0ZM1135.1 1046.1L1150.7 1067.1L1135.1 1088.1L1119.5 1067.1ZM1142.1 1057.4L1157.7 1078.4L1142.1 1099.4L1126.5 1078.4ZM1156.2 1053.2L1171.8 1074.2L1156.2 1095.2L1140.6 1074.2ZM1170.4 1060.2L1186.0 1081.2L1170.4 1102.2L1154.8 1081.2ZM1177.4 1071.5L1193.0 1092.5L1177.4 1113.5L1161.8 1092.5ZM1191.6 1057.4L1207.2 1078.4L1191.6 1099.4L1176.0 1078.4ZM1198.6 1060.2L1214.2 1081.2L1198.6 1102.2L1183.0 1081.2ZM1212.7 1046.1L1228.3 1067.1L1212.7 1088.1L1197.1 1067.1ZM1022.1 1067.3L1037.7 1088.3L1022.1 1109.3L1006.5 1088.3ZM1050.3 1067.3L1065.9 1088.3L1050.3 1109.3L1034.7 1088.3ZM1017.8 1088.5L1033.4 1109.5L1017.8 1130.5L1002.2 1109.5ZM1029.1 1081.4L1044.7 1102.4L1029.1 1123.4L1013.5 1102.4ZM1050.3 1088.5L1065.9 1109.5L1050.3 1130.5L1034.7 1109.5ZM1071.5 1102.6L1087.1 1123.6L1071.5 1144.6L1055.9 1123.6ZM1092.7 1081.4L1108.3 1102.4L1092.7 1123.4L1077.1 1102.4ZM1099.7 1067.3L1115.3 1088.3L1099.7 1109.3L1084.1 1088.3ZM1125.2 1081.4L1140.8 1102.4L1125.2 1123.4L1109.6 1102.4ZM1149.2 1081.4L1164.8 1102.4L1149.2 1123.4L1133.6 1102.4ZM1163.3 1088.5L1178.9 1109.5L1163.3 1130.5L1147.7 1109.5ZM1043.2 1109.7L1058.8 1130.7L1043.2 1151.7L1027.6 1130.7ZM1064.4 1116.7L1080.0 1137.7L1064.4 1158.7L1048.8 1137.7ZM1031.9 1161.4L1047.5 1182.4L1031.9 1203.4L1016.3 1182.4ZM1061.6 1130.3L1077.2 1151.3L1061.6 1172.3L1046.0 1151.3ZM1022.1 1133.1L1037.7 1154.1L1022.1 1175.1L1006.5 1154.1ZM1226.6 916.9L1242.2 937.9L1226.6 958.9L1211.0 937.9ZM1239.3 946.6L1254.9 967.6L1239.3 988.6L1223.7 967.6ZM1281.7 1001.7L1297.3 1022.7L1281.7 1043.7L1266.1 1022.7ZM1245.0 1021.4L1260.6 1042.4L1245.0 1063.4L1229.4 1042.4ZM1250.6 1028.5L1266.2 1049.5L1250.6 1070.5L1235.0 1049.5ZM1226.6 1031.3L1242.2 1052.3L1226.6 1073.3L1211.0 1052.3ZM1279.6 1101.2L1295.2 1122.2L1279.6 1143.2L1264.0 1122.2ZM881.3 1221.1L896.9 1242.1L881.3 1263.1L865.7 1242.1ZM1000.0 1116.4L1015.6 1137.4L1000.0 1158.4L984.4 1137.4ZM863.6 1194.0L879.2 1215.0L863.6 1236.0L848.0 1215.0ZM1005.1 1099.3L1020.7 1120.3L1005.1 1141.3L989.5 1120.3ZM915.4 1191.2L931.0 1212.2L915.4 1233.2L899.8 1212.2ZM1039.6 1105.4L1055.2 1126.4L1039.6 1147.4L1024.0 1126.4ZM941.0 1142.3L956.6 1163.3L941.0 1184.3L925.4 1163.3ZM1086.2 1079.5L1101.8 1100.5L1086.2 1121.5L1070.6 1100.5ZM1075.4 1087.5L1091.0 1108.5L1075.4 1129.5L1059.8 1108.5ZM1098.3 1063.9L1113.9 1084.9L1098.3 1105.9L1082.7 1084.9ZM1039.1 1032.7L1054.7 1053.7L1039.1 1074.7L1023.5 1053.7ZM1083.5 1103.1L1099.1 1124.1L1083.5 1145.1L1067.9 1124.1ZM1095.8 1020.5L1111.4 1041.5L1095.8 1062.5L1080.2 1041.5ZM1065.4 1123.7L1081.0 1144.7L1065.4 1165.7L1049.8 1144.7ZM1076.5 1077.3L1092.1 1098.3L1076.5 1119.3L1060.9 1098.3ZM1255.2 953.1L1270.8 974.1L1255.2 995.1L1239.6 974.1ZM1160.3 1000.2L1175.9 1021.2L1160.3 1042.2L1144.7 1021.2ZM1233.5 951.6L1249.1 972.6L1233.5 993.6L1217.9 972.6ZM1178.7 1002.8L1194.3 1023.8L1178.7 1044.8L1163.1 1023.8ZM1226.2 961.7L1241.8 982.7L1226.2 1003.7L1210.6 982.7ZM1245.6 975.5L1261.2 996.5L1245.6 1017.5L1230.0 996.5Z" stroke="#000000" stroke-width="1.75" fill="none"/>
</g>
<g id="axes">
<line x1="112.3" y1="444.5" x2="112.3" y2="42.9" stroke="#262626" stroke-width="1.6"/>
<line x1="375.5" y1="585.2" x2="112.3" y2="444.5" stroke="#262626" stroke-width="1.6"/>
<line x1="375.5" y1="585.2" x2="1357.8" y2="547.4" stroke="#262626" stroke-width="1.6"/>
<line x1="375.5" y1="585.2" x2="397.5" y2="597.0" stroke="#262626" stroke-width="1.6"/>
<text x="419.0" y="639.0" font-size="34" text-anchor="middle" font-weight="normal" >1</text>
<line x1="498.3" y1="580.5" x2="520.3" y2="592.2" stroke="#262626" stroke-width="1.6"/>
<text x="541.8" y="634.3" font-size="34" text-anchor="middle" font-weight="normal" >2</text>
<line x1="621.1" y1="575.7" x2="643.1" y2="587.5" stroke="#262626" stroke-width="1.6"/>
<text x="664.6" y="629.5" font-size="34" text-anchor="middle" font-weight="normal" >3</text>
<line x1="743.9" y1="571.0" x2="765.9" y2="582.8" stroke="#262626" stroke-width="1.6"/>
<text x="787.4" y="624.8" font-size="34" text-anchor="middle" font-weight="normal" >4</text>
<line x1="866.7" y1="566.3" x2="888.7" y2="578.1" stroke="#262626" stroke-width="1.6"/>
<text x="910.2" y="620.1" font-size="34" text-anchor="middle" font-weight="normal" >5</text>
<line x1="989.4" y1="561.6" x2="1011.5" y2="573.3" stroke="#262626" stroke-width="1.6"/>
<text x="1032.9" y="615.4" font-size="34" text-anchor="middle" font-weight="normal" >6</text>
<line x1="1112.2" y1="556.8" x2="1134.3" y2="568.6" stroke="#262626" stroke-width="1.6"/>
<text x="1155.7" y="610.6" font-size="34" text-anchor="middle" font-weight="normal" >7</text>
<line x1="1235.0" y1="552.1" x2="1257.1" y2="563.9" stroke="#262626" stroke-width="1.6"/>
<text x="1278.5" y="605.9" font-size="34" text-anchor="middle" font-weight="normal" >8</text>
<line x1="1357.8" y1="547.4" x2="1379.9" y2="559.2" stroke="#262626" stroke-width="1.6"/>
<text x="1401.3" y="601.2" font-size="34" text-anchor="middle" font-weight="normal" >9</text>
<line x1="342.6" y1="567.6" x2="317.6" y2="568.6" stroke="#262626" stroke-width="1.6"/>
<text x="292.6" y="605.3" font-size="34" text-anchor="middle" font-weight="normal" >2</text>
<line x1="276.8" y1="532.4" x2="251.8" y2="533.4" stroke="#262626" stroke-width="1.6"/>
<text x="226.8" y="570.1" font-size="34" text-anchor="middle" font-weight="normal" >4</text>
<line x1="211.0" y1="497.2" x2="186.0" y2="498.2" stroke="#262626" stroke-width="1.6"/>
<text x="161.0" y="534.9" font-size="34" text-anchor="middle" font-weight="normal" >6</text>
<line x1="145.2" y1="462.1" x2="120.2" y2="463.0" stroke="#262626" stroke-width="1.6"/>
<text x="95.2" y="499.8" font-size="34" text-anchor="middle" font-weight="normal" >8</text>
<line x1="112.3" y1="394.3" x2="90.2" y2="382.5" stroke="#262626" stroke-width="1.6"/>
<text x="67.5" y="388.9" font-size="34" text-anchor="middle" font-weight="normal" >2</text>
<line x1="112.3" y1="293.9" x2="90.2" y2="282.1" stroke="#262626" stroke-width="1.6"/>
<text x="67.5" y="288.5" font-size="34" text-anchor="middle" font-weight="normal" >4</text>
<line x1="112.3" y1="193.5" x2="90.2" y2="181.7" stroke="#262626" stroke-width="1.6"/>
<text x="67.5" y="188.1" font-size="34" text-anchor="middle" font-weight="normal" >6</text>
<line x1="112.3" y1="93.1" x2="90.2" y2="81.3" stroke="#262626" stroke-width="1.6"/>
<text x="67.5" y="87.7" font-size="34" text-anchor="middle" font-weight="normal" >8</text>
<text x="33.4" y="242.7" font-size="38.5" text-anchor="middle" font-weight="normal" transform="rotate(-90 33.4 242.7)">Dominance</text>
<text x="84.4" y="657.8" font-size="38.5" text-anchor="start" font-weight="normal" >Valence</text>
<text x="708.8" y="683.8" font-size="38.5" text-anchor="start" font-weight="normal" >Arousal</text>
<text x="765.4" y="732.2" font-size="42" text-anchor="start" font-weight="bold" >a)</text>
<text x="380.7" y="1485.5" font-size="36.8" text-anchor="middle" font-weight="normal" >Arousal</text>
<text x="1089.4" y="1485.5" font-size="36.8" text-anchor="middle" font-weight="normal" >Valence</text>
<text x="63.4" y="1102.0" font-size="36.8" text-anchor="middle" font-weight="normal" transform="rotate(-90 63.4 1102)">Valence</text>
<text x="772.1" y="1102.0" font-size="36.8" text-anchor="middle" font-weight="normal" transform="rotate(-90 772.1 1102)">Dominance</text>
<text x="371.7" y="1531.5" font-size="42" text-anchor="start" font-weight="bold" >b)</text>
<text x="1078.5" y="1530.0" font-size="42" text-anchor="start" font-weight="bold" >c)</text>
<path d="M112.3 811.4V1392.7H649.1" stroke="#262626" stroke-width="1.75" fill="none"/>
<line x1="112.3" y1="1392.7" x2="117.8" y2="1392.7" stroke="#262626" stroke-width="1.6"/>
<text x="99.3" y="1405.5" font-size="34" text-anchor="end" font-weight="normal" >1</text>
<line x1="112.3" y1="1320.0" x2="117.8" y2="1320.0" stroke="#262626" stroke-width="1.6"/>
<text x="99.3" y="1332.8" font-size="34" text-anchor="end" font-weight="normal" >2</text>
<line x1="112.3" y1="1247.4" x2="117.8" y2="1247.4" stroke="#262626" stroke-width="1.6"/>
<text x="99.3" y="1260.2" font-size="34" text-anchor="end" font-weight="normal" >3</text>
<line x1="112.3" y1="1174.7" x2="117.8" y2="1174.7" stroke="#262626" stroke-width="1.6"/>
<text x="99.3" y="1187.5" font-size="34" text-anchor="end" font-weight="normal" >4</text>
<line x1="112.3" y1="1102.1" x2="117.8" y2="1102.1" stroke="#262626" stroke-width="1.6"/>
<text x="99.3" y="1114.9" font-size="34" text-anchor="end" font-weight="normal" >5</text>
<line x1="112.3" y1="1029.4" x2="117.8" y2="1029.4" stroke="#262626" stroke-width="1.6"/>
<text x="99.3" y="1042.2" font-size="34" text-anchor="end" font-weight="normal" >6</text>
<line x1="112.3" y1="956.7" x2="117.8" y2="956.7" stroke="#262626" stroke-width="1.6"/>
<text x="99.3" y="969.5" font-size="34" text-anchor="end" font-weight="normal" >7</text>
<line x1="112.3" y1="884.1" x2="117.8" y2="884.1" stroke="#262626" stroke-width="1.6"/>
<text x="99.3" y="896.9" font-size="34" text-anchor="end" font-weight="normal" >8</text>
<line x1="112.3" y1="811.4" x2="117.8" y2="811.4" stroke="#262626" stroke-width="1.6"/>
<text x="99.3" y="824.2" font-size="34" text-anchor="end" font-weight="normal" >9</text>
<line x1="179.4" y1="1392.7" x2="179.4" y2="1387.2" stroke="#262626" stroke-width="1.6"/>
<text x="179.4" y="1438.5" font-size="34" text-anchor="middle" font-weight="normal" >2</text>
<line x1="313.6" y1="1392.7" x2="313.6" y2="1387.2" stroke="#262626" stroke-width="1.6"/>
<text x="313.6" y="1438.5" font-size="34" text-anchor="middle" font-weight="normal" >4</text>
<line x1="447.8" y1="1392.7" x2="447.8" y2="1387.2" stroke="#262626" stroke-width="1.6"/>
<text x="447.8" y="1438.5" font-size="34" text-anchor="middle" font-weight="normal" >6</text>
<line x1="582.0" y1="1392.7" x2="582.0" y2="1387.2" stroke="#262626" stroke-width="1.6"/>
<text x="582.0" y="1438.5" font-size="34" text-anchor="middle" font-weight="normal" >8</text>
<path d="M820.6 811.4V1392.7H1358.2" stroke="#262626" stroke-width="1.75" fill="none"/>
<line x1="820.6" y1="1392.7" x2="826.1" y2="1392.7" stroke="#262626" stroke-width="1.6"/>
<text x="807.6" y="1405.5" font-size="34" text-anchor="end" font-weight="normal" >1</text>
<line x1="820.6" y1="1320.0" x2="826.1" y2="1320.0" stroke="#262626" stroke-width="1.6"/>
<text x="807.6" y="1332.8" font-size="34" text-anchor="end" font-weight="normal" >2</text>
<line x1="820.6" y1="1247.4" x2="826.1" y2="1247.4" stroke="#262626" stroke-width="1.6"/>
<text x="807.6" y="1260.2" font-size="34" text-anchor="end" font-weight="normal" >3</text>
<line x1="820.6" y1="1174.7" x2="826.1" y2="1174.7" stroke="#262626" stroke-width="1.6"/>
<text x="807.6" y="1187.5" font-size="34" text-anchor="end" font-weight="normal" >4</text>
<line x1="820.6" y1="1102.1" x2="826.1" y2="1102.1" stroke="#262626" stroke-width="1.6"/>
<text x="807.6" y="1114.9" font-size="34" text-anchor="end" font-weight="normal" >5</text>
<line x1="820.6" y1="1029.4" x2="826.1" y2="1029.4" stroke="#262626" stroke-width="1.6"/>
<text x="807.6" y="1042.2" font-size="34" text-anchor="end" font-weight="normal" >6</text>
<line x1="820.6" y1="956.7" x2="826.1" y2="956.7" stroke="#262626" stroke-width="1.6"/>
<text x="807.6" y="969.5" font-size="34" text-anchor="end" font-weight="normal" >7</text>
<line x1="820.6" y1="884.1" x2="826.1" y2="884.1" stroke="#262626" stroke-width="1.6"/>
<text x="807.6" y="896.9" font-size="34" text-anchor="end" font-weight="normal" >8</text>
<line x1="820.6" y1="811.4" x2="826.1" y2="811.4" stroke="#262626" stroke-width="1.6"/>
<text x="807.6" y="824.2" font-size="34" text-anchor="end" font-weight="normal" >9</text>
<line x1="887.8" y1="1392.7" x2="887.8" y2="1387.2" stroke="#262626" stroke-width="1.6"/>
<text x="887.8" y="1438.5" font-size="34" text-anchor="middle" font-weight="normal" >2</text>
<line x1="1022.2" y1="1392.7" x2="1022.2" y2="1387.2" stroke="#262626" stroke-width="1.6"/>
<text x="1022.2" y="1438.5" font-size="34" text-anchor="middle" font-weight="normal" >4</text>
<line x1="1156.6" y1="1392.7" x2="1156.6" y2="1387.2" stroke="#262626" stroke-width="1.6"/>
<text x="1156.6" y="1438.5" font-size="34" text-anchor="middle" font-weight="normal" >6</text>
<line x1="1291.0" y1="1392.7" x2="1291.0" y2="1387.2" stroke="#262626" stroke-width="1.6"/>
<text x="1291.0" y="1438.5" font-size="34" text-anchor="middle" font-weight="normal" >8</text>
</g>
<g id="legend">
<rect x="1056.9" y="19" width="202.6" height="175.6" fill="#fff" stroke="#262626" stroke-width="1.3"/>
<path d="M1109.4 44.4h21.2M1120.0 33.8v21.2M1112.5 36.9l15.0 15.0M1112.5 51.9l15.0 -15.0" stroke="#0072BD" stroke-width="1.75" fill="none"/>
<circle cx="1120" cy="85.9" r="10.9" stroke="#D95319" stroke-width="1.75" fill="none"/>
<path d="M1120.0 116.5L1122.6 124.7L1131.2 124.7L1124.3 129.7L1126.9 137.8L1120.0 132.8L1113.1 137.8L1115.7 129.7L1108.8 124.7L1117.4 124.7Z" stroke="#77AC30" stroke-width="1.75" fill="none"/>
<path d="M1120.0 154.6L1130.6 169.5L1120.0 184.4L1109.4 169.5Z" stroke="#000000" stroke-width="1.75" fill="none"/>
<text x="1179.1" y="56.8" font-size="32" fill="#000" style="fill:#000">USA</text>
<text x="1179.1" y="98.3" font-size="32" fill="#000" style="fill:#000">POR</text>
<text x="1179.1" y="139.8" font-size="32" fill="#000" style="fill:#000">MEX</text>
<text x="1179.1" y="181.3" font-size="32" fill="#000" style="fill:#000">JPN</text>
</g>
</svg>
</body></html>
